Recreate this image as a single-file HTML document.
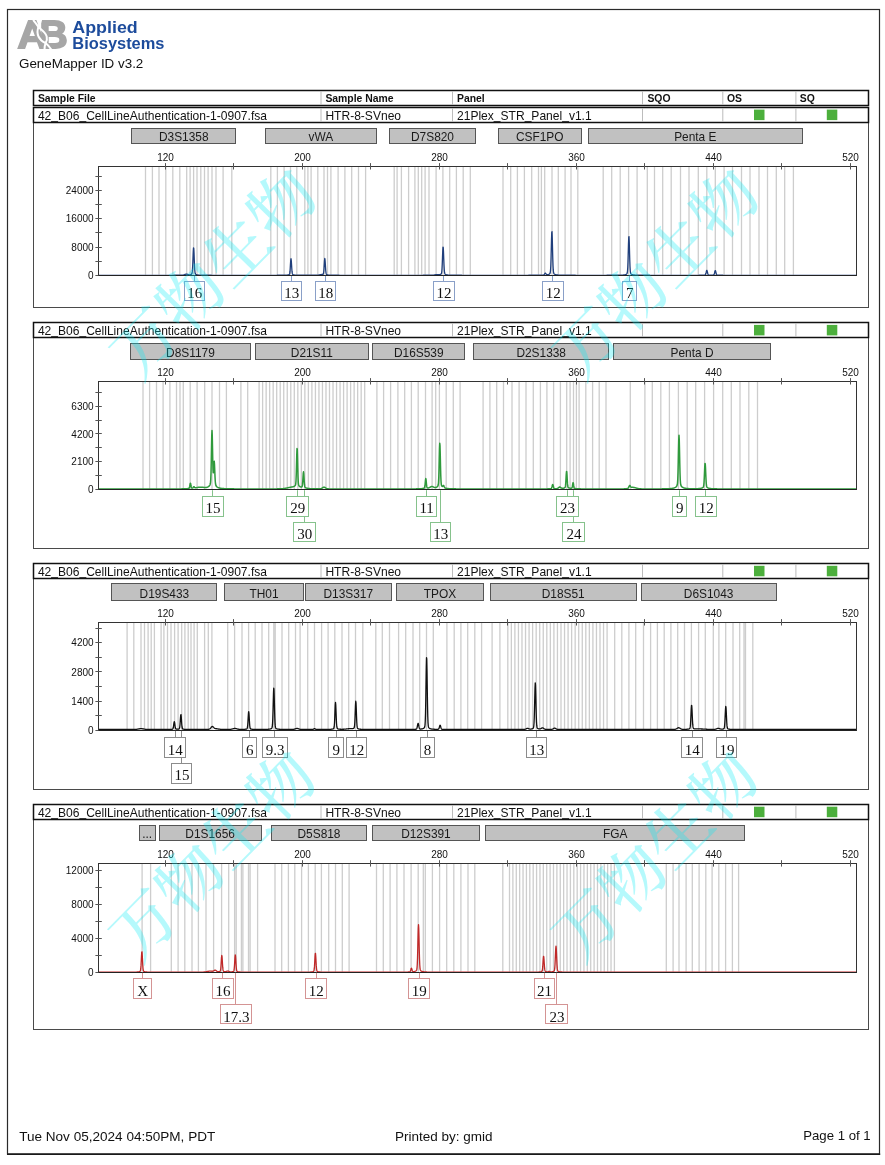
<!DOCTYPE html><html><head><meta charset="utf-8"><title>GeneMapper ID v3.2</title>
<style>html,body{margin:0;padding:0;background:#fff;}svg{display:block;}</style></head><body>
<svg width="885" height="1165" viewBox="0 0 885 1165">
<rect x="0" y="0" width="885" height="1165" fill="#fff"/>
<rect x="7.5" y="9.5" width="872" height="1144.5" fill="none" stroke="#2a2a2a" stroke-width="1.2"/>
<line x1="7" y1="1154.2" x2="880.2" y2="1154.2" stroke="#1a1a1a" stroke-width="1.6"/>
<g>
<text x="17.4" y="48.4" font-family="'Liberation Sans', Arial, sans-serif" font-weight="bold" font-size="38.5" fill="#a6a6a6" stroke="#a6a6a6" stroke-width="1.8" stroke-linejoin="miter" textLength="29.5" lengthAdjust="spacingAndGlyphs">A</text>
<text x="39.4" y="48.4" font-family="'Liberation Sans', Arial, sans-serif" font-weight="bold" font-size="38.5" fill="#a6a6a6" stroke="#a6a6a6" stroke-width="1.8" stroke-linejoin="miter" textLength="28.2" lengthAdjust="spacingAndGlyphs">B</text>
<path d="M33.2,19.8 C35.2,22.6 37.2,25 38.5,27.2 C37.3,30 37.1,33.5 38.6,36.8 C40.2,40 43,42 45.6,43.1 C47.6,44.8 49.6,47 51.2,49.6" fill="none" stroke="#fff" stroke-width="2.0"/>
<path d="M41.1,19.8 C40.3,22.8 39.6,25.3 38.5,27.2 C41.2,29.5 45.6,32.3 46.7,36.4 C47.4,39.2 46.6,41.4 45.6,43.1 C44.8,45 44.5,47.3 44.5,49.6" fill="none" stroke="#fff" stroke-width="2.0"/>
</g>
<text x="72.3" y="33.2" font-family="'Liberation Sans', Arial, sans-serif" font-weight="bold" font-size="17.3" fill="#1d4c9c" textLength="65.5" lengthAdjust="spacingAndGlyphs">Applied</text>
<text x="72.3" y="48.5" font-family="'Liberation Sans', Arial, sans-serif" font-weight="bold" font-size="17.3" fill="#1d4c9c" textLength="92.2" lengthAdjust="spacingAndGlyphs">Biosystems</text>
<text x="19" y="67.6" font-family="'Liberation Sans', Arial, sans-serif" font-size="13.4" fill="#111">GeneMapper ID v3.2</text>
<rect x="33.5" y="90.5" width="835" height="15" fill="#fff" stroke="#111" stroke-width="1.5"/>
<line x1="321" y1="91.3" x2="321" y2="104.7" stroke="#b4b4b4" stroke-width="0.9"/>
<line x1="452.5" y1="91.3" x2="452.5" y2="104.7" stroke="#b4b4b4" stroke-width="0.9"/>
<line x1="642.5" y1="91.3" x2="642.5" y2="104.7" stroke="#b4b4b4" stroke-width="0.9"/>
<line x1="722.8" y1="91.3" x2="722.8" y2="104.7" stroke="#b4b4b4" stroke-width="0.9"/>
<line x1="795.9" y1="91.3" x2="795.9" y2="104.7" stroke="#b4b4b4" stroke-width="0.9"/>
<text x="37.9" y="101.9" font-family="'Liberation Sans', Arial, sans-serif" font-weight="bold" font-size="10.4" fill="#111">Sample File</text>
<text x="325.4" y="101.9" font-family="'Liberation Sans', Arial, sans-serif" font-weight="bold" font-size="10.4" fill="#111">Sample Name</text>
<text x="457" y="101.9" font-family="'Liberation Sans', Arial, sans-serif" font-weight="bold" font-size="10.4" fill="#111">Panel</text>
<text x="647.4" y="101.9" font-family="'Liberation Sans', Arial, sans-serif" font-weight="bold" font-size="10.4" fill="#111">SQO</text>
<text x="727" y="101.9" font-family="'Liberation Sans', Arial, sans-serif" font-weight="bold" font-size="10.4" fill="#111">OS</text>
<text x="799.8" y="101.9" font-family="'Liberation Sans', Arial, sans-serif" font-weight="bold" font-size="10.4" fill="#111">SQ</text>
<rect x="33.5" y="122.5" width="835" height="185" fill="none" stroke="#4a4a4a" stroke-width="1"/>
<rect x="33.5" y="107.5" width="835" height="15" fill="#fff" stroke="#111" stroke-width="1.5"/>
<line x1="321" y1="108.2" x2="321" y2="121.7" stroke="#b4b4b4" stroke-width="0.9"/>
<line x1="452.5" y1="108.2" x2="452.5" y2="121.7" stroke="#b4b4b4" stroke-width="0.9"/>
<line x1="642.5" y1="108.2" x2="642.5" y2="121.7" stroke="#b4b4b4" stroke-width="0.9"/>
<line x1="722.8" y1="108.2" x2="722.8" y2="121.7" stroke="#b4b4b4" stroke-width="0.9"/>
<line x1="795.9" y1="108.2" x2="795.9" y2="121.7" stroke="#b4b4b4" stroke-width="0.9"/>
<text x="37.9" y="119.6" font-family="'Liberation Sans', Arial, sans-serif" font-size="12.06" fill="#111">42<tspan dy="-1.0">_</tspan><tspan dy="1.0">B06</tspan><tspan dy="-1.0">_</tspan><tspan dy="1.0">CellLineAuthentication-1-0907.fsa</tspan></text>
<text x="325.4" y="119.6" font-family="'Liberation Sans', Arial, sans-serif" font-size="12.06" fill="#111">HTR-8-SVneo</text>
<text x="457" y="119.6" font-family="'Liberation Sans', Arial, sans-serif" font-size="12.06" fill="#111">21Plex<tspan dy="-1.0">_</tspan><tspan dy="1.0">STR</tspan><tspan dy="-1.0">_</tspan><tspan dy="1.0">Panel</tspan><tspan dy="-1.0">_</tspan><tspan dy="1.0">v1.1</tspan></text>
<rect x="754" y="109.6" width="10.5" height="10.5" fill="#4caf3c"/>
<rect x="826.8" y="109.6" width="10.5" height="10.5" fill="#4caf3c"/>
<rect x="131.5" y="128.5" width="104" height="15" fill="#c1c1c1" stroke="#555" stroke-width="1"/>
<text x="183.75" y="140.9" text-anchor="middle" font-family="'Liberation Sans', Arial, sans-serif" font-size="11.9" fill="#1a1a1a">D3S1358</text>
<rect x="265.5" y="128.5" width="111" height="15" fill="#c1c1c1" stroke="#555" stroke-width="1"/>
<text x="320.8" y="140.9" text-anchor="middle" font-family="'Liberation Sans', Arial, sans-serif" font-size="11.9" fill="#1a1a1a">vWA</text>
<rect x="389.5" y="128.5" width="86" height="15" fill="#c1c1c1" stroke="#555" stroke-width="1"/>
<text x="432.5" y="140.9" text-anchor="middle" font-family="'Liberation Sans', Arial, sans-serif" font-size="11.9" fill="#1a1a1a">D7S820</text>
<rect x="498.5" y="128.5" width="83" height="15" fill="#c1c1c1" stroke="#555" stroke-width="1"/>
<text x="539.7" y="140.9" text-anchor="middle" font-family="'Liberation Sans', Arial, sans-serif" font-size="11.9" fill="#1a1a1a">CSF1PO</text>
<rect x="588.5" y="128.5" width="214" height="15" fill="#c1c1c1" stroke="#555" stroke-width="1"/>
<text x="695.3" y="140.9" text-anchor="middle" font-family="'Liberation Sans', Arial, sans-serif" font-size="11.9" fill="#1a1a1a">Penta E</text>
<path d="M145.5 166.9V274.8M152.4 166.9V274.8M159 166.9V274.8M165.8 166.9V274.8M172.8 166.9V274.8M179.8 166.9V274.8M186.7 166.9V274.8M190.1 166.9V274.8M193.6 166.9V274.8M197 166.9V274.8M200.8 166.9V274.8M204.5 166.9V274.8M208.1 166.9V274.8M212 166.9V274.8M216 166.9V274.8M223.1 166.9V274.8M231.8 166.9V274.8M270.8 166.9V274.8M277.4 166.9V274.8M284.1 166.9V274.8M290.5 166.9V274.8M296.8 166.9V274.8M304.8 166.9V274.8M307.9 166.9V274.8M311.1 166.9V274.8M317.8 166.9V274.8M324 166.9V274.8M327.5 166.9V274.8M330.9 166.9V274.8M338.1 166.9V274.8M344.9 166.9V274.8M351.7 166.9V274.8M358.5 166.9V274.8M365.6 166.9V274.8M394.2 166.9V274.8M397.1 166.9V274.8M401.4 166.9V274.8M408.6 166.9V274.8M414.9 166.9V274.8M418.3 166.9V274.8M421.7 166.9V274.8M425.1 166.9V274.8M429 166.9V274.8M436.1 166.9V274.8M442.9 166.9V274.8M449.7 166.9V274.8M456.4 166.9V274.8M463.2 166.9V274.8M470.3 166.9V274.8M503 166.9V274.8M510.7 166.9V274.8M517.4 166.9V274.8M524.4 166.9V274.8M531.7 166.9V274.8M538.5 166.9V274.8M541.4 166.9V274.8M544.7 166.9V274.8M552 166.9V274.8M558.3 166.9V274.8M565.1 166.9V274.8M571 166.9V274.8M577.8 166.9V274.8M603.2 166.9V274.8M611.7 166.9V274.8M620.2 166.9V274.8M628.6 166.9V274.8M637.1 166.9V274.8M647.3 166.9V274.8M654.5 166.9V274.8M662.7 166.9V274.8M671.2 166.9V274.8M680.5 166.9V274.8M689 166.9V274.8M698.3 166.9V274.8M706.8 166.9V274.8M715.3 166.9V274.8M724.1 166.9V274.8M732.5 166.9V274.8M741.5 166.9V274.8M750 166.9V274.8M759 166.9V274.8M767.5 166.9V274.8M776.3 166.9V274.8M784.7 166.9V274.8M793.4 166.9V274.8" stroke="#cdcdcd" stroke-width="1.3" fill="none"/>
<rect x="98.5" y="166.5" width="758" height="109" fill="none" stroke="#333" stroke-width="1"/>
<text x="165.5" y="160.5" text-anchor="middle" font-family="'Liberation Sans', Arial, sans-serif" font-size="10" fill="#111">120</text>
<text x="302.5" y="160.5" text-anchor="middle" font-family="'Liberation Sans', Arial, sans-serif" font-size="10" fill="#111">200</text>
<text x="439.5" y="160.5" text-anchor="middle" font-family="'Liberation Sans', Arial, sans-serif" font-size="10" fill="#111">280</text>
<text x="576.5" y="160.5" text-anchor="middle" font-family="'Liberation Sans', Arial, sans-serif" font-size="10" fill="#111">360</text>
<text x="713.5" y="160.5" text-anchor="middle" font-family="'Liberation Sans', Arial, sans-serif" font-size="10" fill="#111">440</text>
<text x="850.5" y="160.5" text-anchor="middle" font-family="'Liberation Sans', Arial, sans-serif" font-size="10" fill="#111">520</text>
<text x="93.6" y="278.9" text-anchor="end" font-family="'Liberation Sans', Arial, sans-serif" font-size="10" fill="#111">0</text>
<text x="93.6" y="250.6" text-anchor="end" font-family="'Liberation Sans', Arial, sans-serif" font-size="10" fill="#111">8000</text>
<text x="93.6" y="222.3" text-anchor="end" font-family="'Liberation Sans', Arial, sans-serif" font-size="10" fill="#111">16000</text>
<text x="93.6" y="194" text-anchor="end" font-family="'Liberation Sans', Arial, sans-serif" font-size="10" fill="#111">24000</text>
<path d="M165.5 163.1V169.5M233.5 163.1V169.5M302.5 163.1V169.5M370.5 163.1V169.5M439.5 163.1V169.5M507.5 163.1V169.5M576.5 163.1V169.5M644.5 163.1V169.5M713.5 163.1V169.5M781.5 163.1V169.5M850.5 163.1V169.5M95.4 275.5H101.8M95.4 261.5H101.8M95.4 247.5H101.8M95.4 232.5H101.8M95.4 218.5H101.8M95.4 204.5H101.8M95.4 190.5H101.8M95.4 176.5H101.8" stroke="#555" stroke-width="1" fill="none"/>
<polyline points="99,275.3 99.25,275.3 99.5,275.3 99.75,275.3 100,275.3 100.25,275.3 100.5,275.3 100.75,275.3 101,275.3 101.25,275.3 101.5,275.3 101.75,275.3 102,275.3 102.25,275.3 102.5,275.3 102.75,275.3 103,275.3 103.25,275.3 103.5,275.3 103.75,275.3 104,275.3 104.25,275.3 104.5,275.3 104.75,275.3 105,275.3 105.25,275.3 105.5,275.3 105.75,275.3 106,275.3 106.25,275.3 106.5,275.3 106.75,275.3 107,275.3 107.25,275.3 107.5,275.3 107.75,275.3 108,275.3 108.25,275.3 108.5,275.3 108.75,275.3 109,275.3 109.25,275.3 109.5,275.3 109.75,275.3 110,275.3 110.25,275.3 110.5,275.3 110.75,275.3 111,275.3 111.25,275.3 111.5,275.3 111.75,275.3 112,275.3 112.25,275.3 112.5,275.3 112.75,275.3 113,275.3 113.25,275.3 113.5,275.3 113.75,275.3 114,275.3 114.25,275.3 114.5,275.3 114.75,275.3 115,275.3 115.25,275.3 115.5,275.3 115.75,275.3 116,275.3 116.25,275.3 116.5,275.3 116.75,275.3 117,275.3 117.25,275.3 117.5,275.3 117.75,275.3 118,275.3 118.25,275.3 118.5,275.3 118.75,275.3 119,275.3 119.25,275.3 119.5,275.3 119.75,275.3 120,275.3 120.25,275.3 120.5,275.3 120.75,275.3 121,275.3 121.25,275.3 121.5,275.3 121.75,275.3 122,275.3 122.25,275.3 122.5,275.3 122.75,275.3 123,275.3 123.25,275.3 123.5,275.3 123.75,275.3 124,275.3 124.25,275.3 124.5,275.3 124.75,275.3 125,275.3 125.25,275.3 125.5,275.3 125.75,275.3 126,275.3 126.25,275.3 126.5,275.3 126.75,275.3 127,275.3 127.25,275.3 127.5,275.3 127.75,275.3 128,275.3 128.25,275.3 128.5,275.3 128.75,275.3 129,275.3 129.25,275.3 129.5,275.3 129.75,275.3 130,275.3 130.25,275.3 130.5,275.3 130.75,275.3 131,275.3 131.25,275.3 131.5,275.3 131.75,275.3 132,275.3 132.25,275.3 132.5,275.3 132.75,275.3 133,275.3 133.25,275.3 133.5,275.3 133.75,275.3 134,275.3 134.25,275.3 134.5,275.3 134.75,275.3 135,275.3 135.25,275.3 135.5,275.3 135.75,275.3 136,275.3 136.25,275.3 136.5,275.3 136.75,275.3 137,275.3 137.25,275.3 137.5,275.3 137.75,275.3 138,275.3 138.25,275.3 138.5,275.3 138.75,275.3 139,275.3 139.25,275.3 139.5,275.3 139.75,275.3 140,275.3 140.25,275.3 140.5,275.3 140.75,275.3 141,275.3 141.25,275.3 141.5,275.3 141.75,275.3 142,275.3 142.25,275.3 142.5,275.3 142.75,275.3 143,275.3 143.25,275.3 143.5,275.3 143.75,275.3 144,275.3 144.25,275.3 144.5,275.3 144.75,275.3 145,275.3 145.25,275.3 145.5,275.3 145.75,275.3 146,275.3 146.25,275.3 146.5,275.3 146.75,275.3 147,275.3 147.25,275.3 147.5,275.3 147.75,275.3 148,275.3 148.25,275.3 148.5,275.3 148.75,275.3 149,275.29 149.25,275.29 149.5,275.29 149.75,275.29 150,275.29 150.25,275.29 150.5,275.29 150.75,275.29 151,275.29 151.25,275.29 151.5,275.29 151.75,275.29 152,275.29 152.25,275.29 152.5,275.29 152.75,275.29 153,275.29 153.25,275.29 153.5,275.29 153.75,275.29 154,275.29 154.25,275.29 154.5,275.29 154.75,275.29 155,275.29 155.25,275.29 155.5,275.29 155.75,275.29 156,275.29 156.25,275.29 156.5,275.29 156.75,275.29 157,275.29 157.25,275.29 157.5,275.29 157.75,275.29 158,275.29 158.25,275.29 158.5,275.29 158.75,275.29 159,275.29 159.25,275.29 159.5,275.29 159.75,275.29 160,275.29 160.25,275.29 160.5,275.29 160.75,275.29 161,275.29 161.25,275.29 161.5,275.29 161.75,275.29 162,275.29 162.25,275.29 162.5,275.29 162.75,275.29 163,275.29 163.25,275.29 163.5,275.29 163.75,275.29 164,275.29 164.25,275.29 164.5,275.29 164.75,275.29 165,275.29 165.25,275.29 165.5,275.29 165.75,275.29 166,275.29 166.25,275.29 166.5,275.29 166.75,275.29 167,275.29 167.25,275.29 167.5,275.29 167.75,275.29 168,275.29 168.25,275.28 168.5,275.28 168.75,275.28 169,275.28 169.25,275.28 169.5,275.28 169.75,275.28 170,275.28 170.25,275.28 170.5,275.28 170.75,275.28 171,275.28 171.25,275.28 171.5,275.28 171.75,275.28 172,275.28 172.25,275.28 172.5,275.28 172.75,275.28 173,275.28 173.25,275.28 173.5,275.28 173.75,275.27 174,275.27 174.25,275.27 174.5,275.27 174.75,275.27 175,275.27 175.25,275.27 175.5,275.27 175.75,275.27 176,275.27 176.25,275.27 176.5,275.26 176.75,275.26 177,275.26 177.25,275.26 177.5,275.26 177.75,275.26 178,275.26 178.25,275.25 178.5,275.25 178.75,275.25 179,275.25 179.25,275.25 179.5,275.24 179.75,275.24 180,275.24 180.25,275.23 180.5,275.23 180.75,275.23 181,275.22 181.25,275.22 181.5,275.21 181.75,275.2 182,275.19 182.25,275.17 182.5,275.15 182.75,275.13 183,275.09 183.25,275.04 183.5,274.99 183.75,274.92 184,274.84 184.25,274.75 184.5,274.65 184.75,274.55 185,274.45 185.25,274.35 185.5,274.27 185.75,274.21 186,274.16 186.25,274.15 186.5,274.16 186.75,274.19 187,274.25 187.25,274.32 187.5,274.4 187.75,274.48 188,274.56 188.25,274.64 188.5,274.7 188.75,274.75 189,274.78 189.25,274.8 189.5,274.81 189.75,274.8 190,274.77 190.25,274.74 190.5,274.68 190.75,274.62 191,274.54 191.25,274.43 191.5,274.28 191.75,273.98 192,273.34 192.25,271.9 192.5,269.02 192.75,264.23 193,257.88 193.25,251.6 193.5,247.82 193.75,248.27 194,252.74 194.25,259.22 194.5,265.35 194.75,269.75 195,272.29 195.25,273.53 195.5,274.08 195.75,274.33 196,274.48 196.25,274.58 196.5,274.67 196.75,274.74 197,274.8 197.25,274.85 197.5,274.9 197.75,274.94 198,274.97 198.25,275 198.5,275.03 198.75,275.05 199,275.07 199.25,275.09 199.5,275.1 199.75,275.12 200,275.13 200.25,275.14 200.5,275.15 200.75,275.16 201,275.17 201.25,275.18 201.5,275.18 201.75,275.19 202,275.2 202.25,275.2 202.5,275.21 202.75,275.21 203,275.22 203.25,275.22 203.5,275.22 203.75,275.23 204,275.23 204.25,275.23 204.5,275.24 204.75,275.24 205,275.24 205.25,275.24 205.5,275.25 205.75,275.25 206,275.25 206.25,275.25 206.5,275.25 206.75,275.26 207,275.26 207.25,275.26 207.5,275.26 207.75,275.26 208,275.26 208.25,275.26 208.5,275.26 208.75,275.27 209,275.27 209.25,275.27 209.5,275.27 209.75,275.27 210,275.27 210.25,275.27 210.5,275.27 210.75,275.27 211,275.27 211.25,275.27 211.5,275.27 211.75,275.28 212,275.28 212.25,275.28 212.5,275.28 212.75,275.28 213,275.28 213.25,275.28 213.5,275.28 213.75,275.28 214,275.28 214.25,275.28 214.5,275.28 214.75,275.28 215,275.28 215.25,275.28 215.5,275.28 215.75,275.28 216,275.28 216.25,275.28 216.5,275.28 216.75,275.28 217,275.28 217.25,275.28 217.5,275.28 217.75,275.29 218,275.29 218.25,275.29 218.5,275.29 218.75,275.29 219,275.29 219.25,275.29 219.5,275.29 219.75,275.29 220,275.29 220.25,275.29 220.5,275.29 220.75,275.29 221,275.29 221.25,275.29 221.5,275.29 221.75,275.29 222,275.29 222.25,275.29 222.5,275.29 222.75,275.29 223,275.29 223.25,275.29 223.5,275.29 223.75,275.29 224,275.29 224.25,275.29 224.5,275.29 224.75,275.29 225,275.29 225.25,275.29 225.5,275.29 225.75,275.29 226,275.29 226.25,275.29 226.5,275.29 226.75,275.29 227,275.29 227.25,275.29 227.5,275.29 227.75,275.29 228,275.29 228.25,275.29 228.5,275.29 228.75,275.29 229,275.29 229.25,275.29 229.5,275.29 229.75,275.29 230,275.29 230.25,275.29 230.5,275.29 230.75,275.29 231,275.29 231.25,275.29 231.5,275.29 231.75,275.29 232,275.29 232.25,275.29 232.5,275.29 232.75,275.29 233,275.29 233.25,275.29 233.5,275.29 233.75,275.29 234,275.29 234.25,275.29 234.5,275.29 234.75,275.29 235,275.29 235.25,275.29 235.5,275.29 235.75,275.29 236,275.29 236.25,275.29 236.5,275.29 236.75,275.29 237,275.29 237.25,275.29 237.5,275.29 237.75,275.29 238,275.29 238.25,275.29 238.5,275.29 238.75,275.29 239,275.29 239.25,275.29 239.5,275.29 239.75,275.29 240,275.29 240.25,275.29 240.5,275.29 240.75,275.29 241,275.29 241.25,275.29 241.5,275.29 241.75,275.29 242,275.29 242.25,275.29 242.5,275.29 242.75,275.29 243,275.29 243.25,275.29 243.5,275.29 243.75,275.29 244,275.29 244.25,275.29 244.5,275.29 244.75,275.29 245,275.29 245.25,275.29 245.5,275.29 245.75,275.29 246,275.29 246.25,275.29 246.5,275.29 246.75,275.29 247,275.29 247.25,275.29 247.5,275.29 247.75,275.29 248,275.29 248.25,275.29 248.5,275.29 248.75,275.29 249,275.29 249.25,275.29 249.5,275.29 249.75,275.29 250,275.29 250.25,275.29 250.5,275.29 250.75,275.29 251,275.29 251.25,275.29 251.5,275.29 251.75,275.29 252,275.29 252.25,275.29 252.5,275.29 252.75,275.29 253,275.29 253.25,275.29 253.5,275.29 253.75,275.29 254,275.29 254.25,275.29 254.5,275.29 254.75,275.29 255,275.29 255.25,275.29 255.5,275.29 255.75,275.29 256,275.29 256.25,275.29 256.5,275.29 256.75,275.29 257,275.29 257.25,275.29 257.5,275.29 257.75,275.29 258,275.29 258.25,275.29 258.5,275.29 258.75,275.29 259,275.29 259.25,275.29 259.5,275.29 259.75,275.29 260,275.29 260.25,275.29 260.5,275.29 260.75,275.29 261,275.29 261.25,275.29 261.5,275.29 261.75,275.29 262,275.29 262.25,275.29 262.5,275.29 262.75,275.29 263,275.29 263.25,275.29 263.5,275.29 263.75,275.29 264,275.29 264.25,275.29 264.5,275.29 264.75,275.29 265,275.29 265.25,275.29 265.5,275.29 265.75,275.29 266,275.29 266.25,275.29 266.5,275.29 266.75,275.29 267,275.29 267.25,275.29 267.5,275.29 267.75,275.29 268,275.29 268.25,275.29 268.5,275.29 268.75,275.29 269,275.29 269.25,275.29 269.5,275.29 269.75,275.29 270,275.29 270.25,275.29 270.5,275.29 270.75,275.29 271,275.29 271.25,275.29 271.5,275.29 271.75,275.28 272,275.28 272.25,275.28 272.5,275.28 272.75,275.28 273,275.28 273.25,275.28 273.5,275.28 273.75,275.28 274,275.28 274.25,275.28 274.5,275.28 274.75,275.28 275,275.28 275.25,275.28 275.5,275.28 275.75,275.28 276,275.28 276.25,275.28 276.5,275.28 276.75,275.28 277,275.27 277.25,275.27 277.5,275.27 277.75,275.27 278,275.27 278.25,275.27 278.5,275.27 278.75,275.27 279,275.27 279.25,275.27 279.5,275.26 279.75,275.26 280,275.26 280.25,275.26 280.5,275.26 280.75,275.26 281,275.25 281.25,275.25 281.5,275.25 281.75,275.25 282,275.24 282.25,275.24 282.5,275.24 282.75,275.24 283,275.23 283.25,275.23 283.5,275.22 283.75,275.22 284,275.21 284.25,275.21 284.5,275.2 284.75,275.19 285,275.19 285.25,275.18 285.5,275.17 285.75,275.16 286,275.14 286.25,275.13 286.5,275.11 286.75,275.09 287,275.07 287.25,275.05 287.5,275.02 287.75,274.98 288,274.94 288.25,274.9 288.5,274.84 288.75,274.77 289,274.68 289.25,274.5 289.5,274.09 289.75,273.14 290,271.19 290.25,267.96 290.5,263.85 290.75,260.22 291,258.75 291.25,260.22 291.5,263.85 291.75,267.96 292,271.19 292.25,273.14 292.5,274.09 292.75,274.5 293,274.68 293.25,274.77 293.5,274.84 293.75,274.9 294,274.94 294.25,274.98 294.5,275.02 294.75,275.05 295,275.07 295.25,275.09 295.5,275.11 295.75,275.13 296,275.14 296.25,275.15 296.5,275.16 296.75,275.17 297,275.18 297.25,275.19 297.5,275.2 297.75,275.2 298,275.21 298.25,275.21 298.5,275.22 298.75,275.22 299,275.23 299.25,275.23 299.5,275.23 299.75,275.24 300,275.24 300.25,275.24 300.5,275.24 300.75,275.25 301,275.25 301.25,275.25 301.5,275.25 301.75,275.25 302,275.25 302.25,275.26 302.5,275.26 302.75,275.26 303,275.26 303.25,275.26 303.5,275.26 303.75,275.26 304,275.26 304.25,275.26 304.5,275.26 304.75,275.26 305,275.26 305.25,275.26 305.5,275.26 305.75,275.27 306,275.27 306.25,275.27 306.5,275.27 306.75,275.27 307,275.27 307.25,275.27 307.5,275.27 307.75,275.27 308,275.27 308.25,275.27 308.5,275.27 308.75,275.27 309,275.26 309.25,275.26 309.5,275.26 309.75,275.26 310,275.26 310.25,275.26 310.5,275.26 310.75,275.26 311,275.26 311.25,275.26 311.5,275.26 311.75,275.26 312,275.26 312.25,275.26 312.5,275.25 312.75,275.25 313,275.25 313.25,275.25 313.5,275.25 313.75,275.25 314,275.25 314.25,275.24 314.5,275.24 314.75,275.24 315,275.24 315.25,275.23 315.5,275.23 315.75,275.23 316,275.22 316.25,275.22 316.5,275.21 316.75,275.2 317,275.19 317.25,275.18 317.5,275.16 317.75,275.14 318,275.12 318.25,275.09 318.5,275.05 318.75,275 319,274.95 319.25,274.9 319.5,274.84 319.75,274.78 320,274.72 320.25,274.67 320.5,274.62 320.75,274.58 321,274.55 321.25,274.53 321.5,274.51 321.75,274.5 322,274.5 322.25,274.49 322.5,274.47 322.75,274.42 323,274.31 323.25,274.01 323.5,273.22 323.75,271.51 324,268.51 324.25,264.45 324.5,260.54 324.75,258.51 325,259.43 325.25,262.81 325.5,267.03 325.75,270.56 326,272.79 326.25,273.92 326.5,274.42 326.75,274.63 327,274.74 327.25,274.81 327.5,274.87 327.75,274.92 328,274.96 328.25,275 328.5,275.03 328.75,275.06 329,275.08 329.25,275.1 329.5,275.12 329.75,275.13 330,275.15 330.25,275.16 330.5,275.17 330.75,275.18 331,275.19 331.25,275.19 331.5,275.2 331.75,275.21 332,275.21 332.25,275.22 332.5,275.22 332.75,275.23 333,275.23 333.25,275.23 333.5,275.24 333.75,275.24 334,275.24 334.25,275.25 334.5,275.25 334.75,275.25 335,275.25 335.25,275.25 335.5,275.26 335.75,275.26 336,275.26 336.25,275.26 336.5,275.26 336.75,275.26 337,275.27 337.25,275.27 337.5,275.27 337.75,275.27 338,275.27 338.25,275.27 338.5,275.27 338.75,275.27 339,275.27 339.25,275.27 339.5,275.28 339.75,275.28 340,275.28 340.25,275.28 340.5,275.28 340.75,275.28 341,275.28 341.25,275.28 341.5,275.28 341.75,275.28 342,275.28 342.25,275.28 342.5,275.28 342.75,275.28 343,275.28 343.25,275.28 343.5,275.28 343.75,275.28 344,275.28 344.25,275.28 344.5,275.28 344.75,275.29 345,275.29 345.25,275.29 345.5,275.29 345.75,275.29 346,275.29 346.25,275.29 346.5,275.29 346.75,275.29 347,275.29 347.25,275.29 347.5,275.29 347.75,275.29 348,275.29 348.25,275.29 348.5,275.29 348.75,275.29 349,275.29 349.25,275.29 349.5,275.29 349.75,275.29 350,275.29 350.25,275.29 350.5,275.29 350.75,275.29 351,275.29 351.25,275.29 351.5,275.29 351.75,275.29 352,275.29 352.25,275.29 352.5,275.29 352.75,275.29 353,275.29 353.25,275.29 353.5,275.29 353.75,275.29 354,275.29 354.25,275.29 354.5,275.29 354.75,275.29 355,275.29 355.25,275.29 355.5,275.29 355.75,275.29 356,275.29 356.25,275.29 356.5,275.29 356.75,275.29 357,275.29 357.25,275.29 357.5,275.29 357.75,275.29 358,275.29 358.25,275.29 358.5,275.29 358.75,275.29 359,275.29 359.25,275.29 359.5,275.29 359.75,275.29 360,275.29 360.25,275.29 360.5,275.29 360.75,275.29 361,275.29 361.25,275.29 361.5,275.29 361.75,275.29 362,275.29 362.25,275.29 362.5,275.29 362.75,275.29 363,275.29 363.25,275.29 363.5,275.29 363.75,275.29 364,275.29 364.25,275.29 364.5,275.29 364.75,275.29 365,275.29 365.25,275.29 365.5,275.29 365.75,275.29 366,275.29 366.25,275.29 366.5,275.29 366.75,275.29 367,275.29 367.25,275.29 367.5,275.29 367.75,275.29 368,275.29 368.25,275.29 368.5,275.29 368.75,275.29 369,275.29 369.25,275.29 369.5,275.29 369.75,275.29 370,275.29 370.25,275.29 370.5,275.29 370.75,275.29 371,275.29 371.25,275.29 371.5,275.29 371.75,275.29 372,275.29 372.25,275.29 372.5,275.29 372.75,275.29 373,275.29 373.25,275.29 373.5,275.29 373.75,275.29 374,275.29 374.25,275.29 374.5,275.29 374.75,275.29 375,275.29 375.25,275.29 375.5,275.29 375.75,275.29 376,275.29 376.25,275.29 376.5,275.29 376.75,275.29 377,275.29 377.25,275.29 377.5,275.29 377.75,275.29 378,275.29 378.25,275.29 378.5,275.29 378.75,275.29 379,275.29 379.25,275.29 379.5,275.29 379.75,275.29 380,275.29 380.25,275.29 380.5,275.29 380.75,275.29 381,275.29 381.25,275.29 381.5,275.29 381.75,275.29 382,275.29 382.25,275.29 382.5,275.29 382.75,275.29 383,275.29 383.25,275.29 383.5,275.29 383.75,275.29 384,275.29 384.25,275.29 384.5,275.29 384.75,275.29 385,275.29 385.25,275.29 385.5,275.29 385.75,275.29 386,275.29 386.25,275.29 386.5,275.29 386.75,275.29 387,275.29 387.25,275.29 387.5,275.29 387.75,275.29 388,275.29 388.25,275.29 388.5,275.29 388.75,275.29 389,275.29 389.25,275.29 389.5,275.29 389.75,275.29 390,275.29 390.25,275.29 390.5,275.29 390.75,275.29 391,275.29 391.25,275.29 391.5,275.29 391.75,275.29 392,275.29 392.25,275.29 392.5,275.29 392.75,275.29 393,275.29 393.25,275.29 393.5,275.29 393.75,275.29 394,275.29 394.25,275.29 394.5,275.29 394.75,275.29 395,275.29 395.25,275.29 395.5,275.29 395.75,275.29 396,275.29 396.25,275.29 396.5,275.29 396.75,275.29 397,275.29 397.25,275.29 397.5,275.29 397.75,275.29 398,275.29 398.25,275.29 398.5,275.29 398.75,275.29 399,275.29 399.25,275.29 399.5,275.29 399.75,275.29 400,275.29 400.25,275.29 400.5,275.29 400.75,275.29 401,275.29 401.25,275.29 401.5,275.29 401.75,275.29 402,275.29 402.25,275.29 402.5,275.29 402.75,275.29 403,275.29 403.25,275.29 403.5,275.29 403.75,275.29 404,275.29 404.25,275.29 404.5,275.29 404.75,275.29 405,275.29 405.25,275.29 405.5,275.29 405.75,275.29 406,275.29 406.25,275.29 406.5,275.29 406.75,275.29 407,275.29 407.25,275.29 407.5,275.29 407.75,275.29 408,275.29 408.25,275.29 408.5,275.29 408.75,275.29 409,275.29 409.25,275.29 409.5,275.29 409.75,275.29 410,275.29 410.25,275.29 410.5,275.29 410.75,275.29 411,275.29 411.25,275.29 411.5,275.29 411.75,275.29 412,275.29 412.25,275.29 412.5,275.29 412.75,275.29 413,275.29 413.25,275.29 413.5,275.29 413.75,275.29 414,275.29 414.25,275.29 414.5,275.29 414.75,275.29 415,275.29 415.25,275.29 415.5,275.29 415.75,275.29 416,275.29 416.25,275.29 416.5,275.29 416.75,275.28 417,275.28 417.25,275.28 417.5,275.28 417.75,275.28 418,275.28 418.25,275.28 418.5,275.28 418.75,275.28 419,275.28 419.25,275.28 419.5,275.28 419.75,275.28 420,275.28 420.25,275.28 420.5,275.28 420.75,275.28 421,275.28 421.25,275.28 421.5,275.28 421.75,275.28 422,275.28 422.25,275.28 422.5,275.28 422.75,275.28 423,275.27 423.25,275.27 423.5,275.27 423.75,275.27 424,275.27 424.25,275.27 424.5,275.27 424.75,275.27 425,275.27 425.25,275.27 425.5,275.27 425.75,275.27 426,275.27 426.25,275.26 426.5,275.26 426.75,275.26 427,275.26 427.25,275.26 427.5,275.26 427.75,275.26 428,275.26 428.25,275.25 428.5,275.25 428.75,275.25 429,275.25 429.25,275.25 429.5,275.24 429.75,275.24 430,275.24 430.25,275.24 430.5,275.23 430.75,275.23 431,275.22 431.25,275.22 431.5,275.21 431.75,275.2 432,275.19 432.25,275.18 432.5,275.17 432.75,275.15 433,275.13 433.25,275.1 433.5,275.08 433.75,275.04 434,275.01 434.25,274.97 434.5,274.93 434.75,274.88 435,274.84 435.25,274.79 435.5,274.74 435.75,274.7 436,274.66 436.25,274.62 436.5,274.59 436.75,274.57 437,274.55 437.25,274.54 437.5,274.54 437.75,274.54 438,274.54 438.25,274.55 438.5,274.56 438.75,274.57 439,274.57 439.25,274.57 439.5,274.56 439.75,274.55 440,274.52 440.25,274.47 440.5,274.41 440.75,274.32 441,274.18 441.25,273.89 441.5,273.24 441.75,271.77 442,268.82 442.25,263.89 442.5,257.37 442.75,250.91 443,247.03 443.25,247.49 443.5,252.09 443.75,258.75 444,265.06 444.25,269.59 444.5,272.2 444.75,273.48 445,274.04 445.25,274.3 445.5,274.45 445.75,274.56 446,274.65 446.25,274.72 446.5,274.79 446.75,274.84 447,274.89 447.25,274.93 447.5,274.96 447.75,274.99 448,275.02 448.25,275.04 448.5,275.06 448.75,275.08 449,275.1 449.25,275.11 449.5,275.12 449.75,275.14 450,275.15 450.25,275.16 450.5,275.16 450.75,275.17 451,275.18 451.25,275.19 451.5,275.19 451.75,275.2 452,275.2 452.25,275.21 452.5,275.21 452.75,275.22 453,275.22 453.25,275.22 453.5,275.23 453.75,275.23 454,275.23 454.25,275.24 454.5,275.24 454.75,275.24 455,275.24 455.25,275.25 455.5,275.25 455.75,275.25 456,275.25 456.25,275.25 456.5,275.25 456.75,275.26 457,275.26 457.25,275.26 457.5,275.26 457.75,275.26 458,275.26 458.25,275.26 458.5,275.26 458.75,275.27 459,275.27 459.25,275.27 459.5,275.27 459.75,275.27 460,275.27 460.25,275.27 460.5,275.27 460.75,275.27 461,275.27 461.25,275.27 461.5,275.27 461.75,275.27 462,275.28 462.25,275.28 462.5,275.28 462.75,275.28 463,275.28 463.25,275.28 463.5,275.28 463.75,275.28 464,275.28 464.25,275.28 464.5,275.28 464.75,275.28 465,275.28 465.25,275.28 465.5,275.28 465.75,275.28 466,275.28 466.25,275.28 466.5,275.28 466.75,275.28 467,275.28 467.25,275.28 467.5,275.28 467.75,275.28 468,275.28 468.25,275.28 468.5,275.28 468.75,275.29 469,275.29 469.25,275.29 469.5,275.29 469.75,275.29 470,275.29 470.25,275.29 470.5,275.29 470.75,275.29 471,275.29 471.25,275.29 471.5,275.29 471.75,275.29 472,275.29 472.25,275.29 472.5,275.29 472.75,275.29 473,275.29 473.25,275.29 473.5,275.29 473.75,275.29 474,275.29 474.25,275.29 474.5,275.29 474.75,275.29 475,275.29 475.25,275.29 475.5,275.29 475.75,275.29 476,275.29 476.25,275.29 476.5,275.29 476.75,275.29 477,275.29 477.25,275.29 477.5,275.29 477.75,275.29 478,275.29 478.25,275.29 478.5,275.29 478.75,275.29 479,275.29 479.25,275.29 479.5,275.29 479.75,275.29 480,275.29 480.25,275.29 480.5,275.29 480.75,275.29 481,275.29 481.25,275.29 481.5,275.29 481.75,275.29 482,275.29 482.25,275.29 482.5,275.29 482.75,275.29 483,275.29 483.25,275.29 483.5,275.29 483.75,275.29 484,275.29 484.25,275.29 484.5,275.29 484.75,275.29 485,275.29 485.25,275.29 485.5,275.29 485.75,275.29 486,275.29 486.25,275.29 486.5,275.29 486.75,275.29 487,275.29 487.25,275.29 487.5,275.29 487.75,275.29 488,275.29 488.25,275.29 488.5,275.29 488.75,275.29 489,275.29 489.25,275.29 489.5,275.29 489.75,275.29 490,275.29 490.25,275.29 490.5,275.29 490.75,275.29 491,275.29 491.25,275.29 491.5,275.29 491.75,275.29 492,275.29 492.25,275.29 492.5,275.29 492.75,275.29 493,275.29 493.25,275.29 493.5,275.29 493.75,275.29 494,275.29 494.25,275.29 494.5,275.29 494.75,275.29 495,275.29 495.25,275.29 495.5,275.29 495.75,275.29 496,275.29 496.25,275.29 496.5,275.29 496.75,275.29 497,275.29 497.25,275.29 497.5,275.29 497.75,275.29 498,275.29 498.25,275.29 498.5,275.29 498.75,275.29 499,275.29 499.25,275.29 499.5,275.29 499.75,275.29 500,275.29 500.25,275.29 500.5,275.29 500.75,275.29 501,275.29 501.25,275.29 501.5,275.29 501.75,275.29 502,275.29 502.25,275.29 502.5,275.29 502.75,275.29 503,275.29 503.25,275.29 503.5,275.29 503.75,275.29 504,275.29 504.25,275.29 504.5,275.29 504.75,275.29 505,275.29 505.25,275.29 505.5,275.29 505.75,275.29 506,275.29 506.25,275.29 506.5,275.29 506.75,275.29 507,275.29 507.25,275.29 507.5,275.29 507.75,275.29 508,275.29 508.25,275.29 508.5,275.29 508.75,275.29 509,275.29 509.25,275.29 509.5,275.29 509.75,275.29 510,275.29 510.25,275.29 510.5,275.29 510.75,275.29 511,275.29 511.25,275.29 511.5,275.29 511.75,275.29 512,275.29 512.25,275.29 512.5,275.29 512.75,275.29 513,275.29 513.25,275.29 513.5,275.29 513.75,275.29 514,275.29 514.25,275.29 514.5,275.29 514.75,275.29 515,275.29 515.25,275.29 515.5,275.29 515.75,275.29 516,275.29 516.25,275.29 516.5,275.29 516.75,275.29 517,275.29 517.25,275.29 517.5,275.29 517.75,275.29 518,275.29 518.25,275.29 518.5,275.29 518.75,275.29 519,275.29 519.25,275.29 519.5,275.29 519.75,275.29 520,275.29 520.25,275.29 520.5,275.28 520.75,275.28 521,275.28 521.25,275.28 521.5,275.28 521.75,275.28 522,275.28 522.25,275.28 522.5,275.28 522.75,275.28 523,275.28 523.25,275.28 523.5,275.28 523.75,275.28 524,275.28 524.25,275.28 524.5,275.28 524.75,275.28 525,275.28 525.25,275.28 525.5,275.28 525.75,275.28 526,275.28 526.25,275.28 526.5,275.28 526.75,275.28 527,275.28 527.25,275.28 527.5,275.28 527.75,275.28 528,275.28 528.25,275.28 528.5,275.27 528.75,275.27 529,275.27 529.25,275.27 529.5,275.27 529.75,275.27 530,275.27 530.25,275.27 530.5,275.27 530.75,275.27 531,275.27 531.25,275.27 531.5,275.27 531.75,275.27 532,275.27 532.25,275.27 532.5,275.26 532.75,275.26 533,275.26 533.25,275.26 533.5,275.26 533.75,275.26 534,275.26 534.25,275.26 534.5,275.26 534.75,275.25 535,275.25 535.25,275.25 535.5,275.25 535.75,275.25 536,275.25 536.25,275.25 536.5,275.24 536.75,275.24 537,275.24 537.25,275.24 537.5,275.24 537.75,275.23 538,275.23 538.25,275.23 538.5,275.22 538.75,275.22 539,275.22 539.25,275.21 539.5,275.21 539.75,275.21 540,275.2 540.25,275.2 540.5,275.19 540.75,275.19 541,275.18 541.25,275.17 541.5,275.17 541.75,275.16 542,275.15 542.25,275.14 542.5,275.13 542.75,275.11 543,275.09 543.25,275.06 543.5,275 543.75,274.89 544,274.71 544.25,274.43 544.5,274.06 544.75,273.66 545,273.33 545.25,273.16 545.5,273.21 545.75,273.45 546,273.8 546.25,274.16 546.5,274.44 546.75,274.62 547,274.7 547.25,274.73 547.5,274.72 547.75,274.68 548,274.63 548.25,274.56 548.5,274.49 548.75,274.39 549,274.28 549.25,274.15 549.5,273.99 549.75,273.76 550,273.36 550.25,272.49 550.5,270.52 550.75,266.48 551,259.49 551.25,249.74 551.5,239.45 551.75,232.35 552,231.63 552.25,237.65 552.5,247.63 552.75,257.73 553,265.34 553.25,269.92 553.5,272.22 553.75,273.25 554,273.71 554.25,273.97 554.5,274.14 554.75,274.28 555,274.4 555.25,274.5 555.5,274.58 555.75,274.66 556,274.72 556.25,274.78 556.5,274.82 556.75,274.86 557,274.9 557.25,274.93 557.5,274.96 557.75,274.99 558,275.01 558.25,275.03 558.5,275.05 558.75,275.07 559,275.08 559.25,275.09 559.5,275.11 559.75,275.12 560,275.13 560.25,275.14 560.5,275.15 560.75,275.15 561,275.16 561.25,275.17 561.5,275.17 561.75,275.18 562,275.19 562.25,275.19 562.5,275.2 562.75,275.2 563,275.2 563.25,275.21 563.5,275.21 563.75,275.22 564,275.22 564.25,275.22 564.5,275.22 564.75,275.23 565,275.23 565.25,275.23 565.5,275.23 565.75,275.24 566,275.24 566.25,275.24 566.5,275.24 566.75,275.24 567,275.25 567.25,275.25 567.5,275.25 567.75,275.25 568,275.25 568.25,275.25 568.5,275.25 568.75,275.26 569,275.26 569.25,275.26 569.5,275.26 569.75,275.26 570,275.26 570.25,275.26 570.5,275.26 570.75,275.26 571,275.26 571.25,275.27 571.5,275.27 571.75,275.27 572,275.27 572.25,275.27 572.5,275.27 572.75,275.27 573,275.27 573.25,275.27 573.5,275.27 573.75,275.27 574,275.27 574.25,275.27 574.5,275.27 574.75,275.27 575,275.27 575.25,275.27 575.5,275.27 575.75,275.28 576,275.28 576.25,275.28 576.5,275.28 576.75,275.28 577,275.28 577.25,275.28 577.5,275.28 577.75,275.28 578,275.28 578.25,275.28 578.5,275.28 578.75,275.28 579,275.28 579.25,275.28 579.5,275.28 579.75,275.28 580,275.28 580.25,275.28 580.5,275.28 580.75,275.28 581,275.28 581.25,275.28 581.5,275.28 581.75,275.28 582,275.28 582.25,275.28 582.5,275.28 582.75,275.28 583,275.28 583.25,275.28 583.5,275.28 583.75,275.28 584,275.28 584.25,275.28 584.5,275.28 584.75,275.28 585,275.28 585.25,275.28 585.5,275.28 585.75,275.28 586,275.28 586.25,275.28 586.5,275.28 586.75,275.28 587,275.28 587.25,275.28 587.5,275.28 587.75,275.28 588,275.28 588.25,275.28 588.5,275.28 588.75,275.28 589,275.28 589.25,275.28 589.5,275.28 589.75,275.28 590,275.28 590.25,275.28 590.5,275.28 590.75,275.28 591,275.28 591.25,275.28 591.5,275.28 591.75,275.28 592,275.28 592.25,275.28 592.5,275.28 592.75,275.28 593,275.28 593.25,275.28 593.5,275.28 593.75,275.28 594,275.28 594.25,275.28 594.5,275.28 594.75,275.28 595,275.28 595.25,275.28 595.5,275.28 595.75,275.28 596,275.28 596.25,275.28 596.5,275.28 596.75,275.28 597,275.28 597.25,275.28 597.5,275.28 597.75,275.28 598,275.28 598.25,275.28 598.5,275.28 598.75,275.28 599,275.28 599.25,275.28 599.5,275.28 599.75,275.28 600,275.28 600.25,275.28 600.5,275.28 600.75,275.28 601,275.28 601.25,275.28 601.5,275.28 601.75,275.28 602,275.28 602.25,275.28 602.5,275.28 602.75,275.28 603,275.28 603.25,275.28 603.5,275.28 603.75,275.28 604,275.28 604.25,275.28 604.5,275.28 604.75,275.28 605,275.28 605.25,275.28 605.5,275.28 605.75,275.28 606,275.28 606.25,275.28 606.5,275.28 606.75,275.27 607,275.27 607.25,275.27 607.5,275.27 607.75,275.27 608,275.27 608.25,275.27 608.5,275.27 608.75,275.27 609,275.27 609.25,275.27 609.5,275.27 609.75,275.27 610,275.27 610.25,275.27 610.5,275.27 610.75,275.27 611,275.26 611.25,275.26 611.5,275.26 611.75,275.26 612,275.26 612.25,275.26 612.5,275.26 612.75,275.26 613,275.26 613.25,275.26 613.5,275.25 613.75,275.25 614,275.25 614.25,275.25 614.5,275.25 614.75,275.25 615,275.24 615.25,275.24 615.5,275.24 615.75,275.24 616,275.24 616.25,275.23 616.5,275.23 616.75,275.23 617,275.23 617.25,275.22 617.5,275.22 617.75,275.22 618,275.21 618.25,275.21 618.5,275.21 618.75,275.2 619,275.2 619.25,275.19 619.5,275.19 619.75,275.18 620,275.17 620.25,275.17 620.5,275.16 620.75,275.15 621,275.14 621.25,275.13 621.5,275.12 621.75,275.11 622,275.1 622.25,275.08 622.5,275.07 622.75,275.05 623,275.03 623.25,275.01 623.5,274.98 623.75,274.96 624,274.92 624.25,274.89 624.5,274.85 624.75,274.8 625,274.75 625.25,274.68 625.5,274.61 625.75,274.52 626,274.42 626.25,274.3 626.5,274.16 626.75,273.95 627,273.59 627.25,272.82 627.5,271.07 627.75,267.49 628,261.28 628.25,252.64 628.5,243.5 628.75,237.2 629,236.57 629.25,241.9 629.5,250.76 629.75,259.72 630,266.47 630.25,270.54 630.5,272.57 630.75,273.48 631,273.9 631.25,274.12 631.5,274.28 631.75,274.4 632,274.51 632.25,274.59 632.5,274.67 632.75,274.73 633,274.79 633.25,274.84 633.5,274.88 633.75,274.92 634,274.95 634.25,274.98 634.5,275 634.75,275.03 635,275.05 635.25,275.06 635.5,275.08 635.75,275.09 636,275.11 636.25,275.12 636.5,275.13 636.75,275.14 637,275.15 637.25,275.16 637.5,275.17 637.75,275.17 638,275.18 638.25,275.19 638.5,275.19 638.75,275.2 639,275.2 639.25,275.21 639.5,275.21 639.75,275.21 640,275.22 640.25,275.22 640.5,275.22 640.75,275.23 641,275.23 641.25,275.23 641.5,275.23 641.75,275.24 642,275.24 642.25,275.24 642.5,275.24 642.75,275.25 643,275.25 643.25,275.25 643.5,275.25 643.75,275.25 644,275.25 644.25,275.26 644.5,275.26 644.75,275.26 645,275.26 645.25,275.26 645.5,275.26 645.75,275.26 646,275.26 646.25,275.26 646.5,275.27 646.75,275.27 647,275.27 647.25,275.27 647.5,275.27 647.75,275.27 648,275.27 648.25,275.27 648.5,275.27 648.75,275.27 649,275.27 649.25,275.27 649.5,275.27 649.75,275.27 650,275.28 650.25,275.28 650.5,275.28 650.75,275.28 651,275.28 651.25,275.28 651.5,275.28 651.75,275.28 652,275.28 652.25,275.28 652.5,275.28 652.75,275.28 653,275.28 653.25,275.28 653.5,275.28 653.75,275.28 654,275.28 654.25,275.28 654.5,275.28 654.75,275.28 655,275.28 655.25,275.28 655.5,275.28 655.75,275.28 656,275.28 656.25,275.28 656.5,275.28 656.75,275.28 657,275.28 657.25,275.29 657.5,275.29 657.75,275.29 658,275.29 658.25,275.29 658.5,275.29 658.75,275.29 659,275.29 659.25,275.29 659.5,275.29 659.75,275.29 660,275.29 660.25,275.29 660.5,275.29 660.75,275.29 661,275.29 661.25,275.29 661.5,275.29 661.75,275.29 662,275.29 662.25,275.29 662.5,275.29 662.75,275.29 663,275.29 663.25,275.29 663.5,275.29 663.75,275.29 664,275.29 664.25,275.29 664.5,275.29 664.75,275.29 665,275.29 665.25,275.29 665.5,275.29 665.75,275.29 666,275.29 666.25,275.29 666.5,275.29 666.75,275.29 667,275.29 667.25,275.29 667.5,275.29 667.75,275.29 668,275.29 668.25,275.29 668.5,275.29 668.75,275.29 669,275.29 669.25,275.29 669.5,275.29 669.75,275.29 670,275.29 670.25,275.29 670.5,275.29 670.75,275.29 671,275.29 671.25,275.29 671.5,275.29 671.75,275.29 672,275.29 672.25,275.29 672.5,275.29 672.75,275.29 673,275.29 673.25,275.29 673.5,275.29 673.75,275.29 674,275.29 674.25,275.29 674.5,275.29 674.75,275.29 675,275.29 675.25,275.29 675.5,275.29 675.75,275.29 676,275.29 676.25,275.29 676.5,275.29 676.75,275.29 677,275.29 677.25,275.29 677.5,275.29 677.75,275.29 678,275.29 678.25,275.29 678.5,275.29 678.75,275.29 679,275.29 679.25,275.29 679.5,275.29 679.75,275.29 680,275.29 680.25,275.29 680.5,275.29 680.75,275.29 681,275.29 681.25,275.29 681.5,275.29 681.75,275.29 682,275.29 682.25,275.29 682.5,275.29 682.75,275.29 683,275.29 683.25,275.29 683.5,275.29 683.75,275.29 684,275.29 684.25,275.29 684.5,275.29 684.75,275.29 685,275.29 685.25,275.29 685.5,275.29 685.75,275.29 686,275.29 686.25,275.29 686.5,275.29 686.75,275.29 687,275.29 687.25,275.29 687.5,275.29 687.75,275.29 688,275.29 688.25,275.29 688.5,275.29 688.75,275.29 689,275.29 689.25,275.29 689.5,275.29 689.75,275.29 690,275.29 690.25,275.29 690.5,275.29 690.75,275.29 691,275.29 691.25,275.29 691.5,275.29 691.75,275.29 692,275.29 692.25,275.29 692.5,275.29 692.75,275.29 693,275.29 693.25,275.29 693.5,275.29 693.75,275.29 694,275.29 694.25,275.29 694.5,275.29 694.75,275.29 695,275.28 695.25,275.28 695.5,275.28 695.75,275.28 696,275.28 696.25,275.28 696.5,275.28 696.75,275.28 697,275.28 697.25,275.28 697.5,275.28 697.75,275.28 698,275.28 698.25,275.28 698.5,275.28 698.75,275.27 699,275.27 699.25,275.27 699.5,275.27 699.75,275.27 700,275.27 700.25,275.26 700.5,275.26 700.75,275.26 701,275.26 701.25,275.25 701.5,275.25 701.75,275.25 702,275.24 702.25,275.24 702.5,275.23 702.75,275.22 703,275.22 703.25,275.21 703.5,275.2 703.75,275.19 704,275.17 704.25,275.16 704.5,275.13 704.75,275.09 705,275.01 705.25,274.84 705.5,274.49 705.75,273.86 706,272.93 706.25,271.82 706.5,270.85 706.75,270.36 707,270.58 707.25,271.39 707.5,272.49 707.75,273.51 708,274.26 708.25,274.71 708.5,274.95 708.75,275.05 709,275.1 709.25,275.13 709.5,275.14 709.75,275.15 710,275.16 710.25,275.17 710.5,275.18 710.75,275.18 711,275.18 711.25,275.18 711.5,275.18 711.75,275.17 712,275.17 712.25,275.16 712.5,275.15 712.75,275.14 713,275.12 713.25,275.08 713.5,275.01 713.75,274.84 714,274.51 714.25,273.91 714.5,273.02 714.75,271.96 715,271.03 715.25,270.56 715.5,270.77 715.75,271.55 716,272.61 716.25,273.59 716.5,274.31 716.75,274.75 717,274.97 717.25,275.08 717.5,275.13 717.75,275.15 718,275.17 718.25,275.19 718.5,275.2 718.75,275.21 719,275.22 719.25,275.22 719.5,275.23 719.75,275.24 720,275.24 720.25,275.25 720.5,275.25 720.75,275.25 721,275.26 721.25,275.26 721.5,275.26 721.75,275.27 722,275.27 722.25,275.27 722.5,275.27 722.75,275.27 723,275.27 723.25,275.28 723.5,275.28 723.75,275.28 724,275.28 724.25,275.28 724.5,275.28 724.75,275.28 725,275.28 725.25,275.28 725.5,275.28 725.75,275.28 726,275.28 726.25,275.29 726.5,275.29 726.75,275.29 727,275.29 727.25,275.29 727.5,275.29 727.75,275.29 728,275.29 728.25,275.29 728.5,275.29 728.75,275.29 729,275.29 729.25,275.29 729.5,275.29 729.75,275.29 730,275.29 730.25,275.29 730.5,275.29 730.75,275.29 731,275.29 731.25,275.29 731.5,275.29 731.75,275.29 732,275.29 732.25,275.29 732.5,275.29 732.75,275.29 733,275.29 733.25,275.29 733.5,275.29 733.75,275.29 734,275.29 734.25,275.29 734.5,275.29 734.75,275.29 735,275.29 735.25,275.29 735.5,275.29 735.75,275.29 736,275.29 736.25,275.29 736.5,275.29 736.75,275.29 737,275.29 737.25,275.29 737.5,275.29 737.75,275.29 738,275.29 738.25,275.3 738.5,275.3 738.75,275.3 739,275.3 739.25,275.3 739.5,275.3 739.75,275.3 740,275.3 740.25,275.3 740.5,275.3 740.75,275.3 741,275.3 741.25,275.3 741.5,275.3 741.75,275.3 742,275.3 742.25,275.3 742.5,275.3 742.75,275.3 743,275.3 743.25,275.3 743.5,275.3 743.75,275.3 744,275.3 744.25,275.3 744.5,275.3 744.75,275.3 745,275.3 745.25,275.3 745.5,275.3 745.75,275.3 746,275.3 746.25,275.3 746.5,275.3 746.75,275.3 747,275.3 747.25,275.3 747.5,275.3 747.75,275.3 748,275.3 748.25,275.3 748.5,275.3 748.75,275.3 749,275.3 749.25,275.3 749.5,275.3 749.75,275.3 750,275.3 750.25,275.3 750.5,275.3 750.75,275.3 751,275.3 751.25,275.3 751.5,275.3 751.75,275.3 752,275.3 752.25,275.3 752.5,275.3 752.75,275.3 753,275.3 753.25,275.3 753.5,275.3 753.75,275.3 754,275.3 754.25,275.3 754.5,275.3 754.75,275.3 755,275.3 755.25,275.3 755.5,275.3 755.75,275.3 756,275.3 756.25,275.3 756.5,275.3 756.75,275.3 757,275.3 757.25,275.3 757.5,275.3 757.75,275.3 758,275.3 758.25,275.3 758.5,275.3 758.75,275.3 759,275.3 759.25,275.3 759.5,275.3 759.75,275.3 760,275.3 760.25,275.3 760.5,275.3 760.75,275.3 761,275.3 761.25,275.3 761.5,275.3 761.75,275.3 762,275.3 762.25,275.3 762.5,275.3 762.75,275.3 763,275.3 763.25,275.3 763.5,275.3 763.75,275.3 764,275.3 764.25,275.3 764.5,275.3 764.75,275.3 765,275.3 765.25,275.3 765.5,275.3 765.75,275.3 766,275.3 766.25,275.3 766.5,275.3 766.75,275.3 767,275.3 767.25,275.3 767.5,275.3 767.75,275.3 768,275.3 768.25,275.3 768.5,275.3 768.75,275.3 769,275.3 769.25,275.3 769.5,275.3 769.75,275.3 770,275.3 770.25,275.3 770.5,275.3 770.75,275.3 771,275.3 771.25,275.3 771.5,275.3 771.75,275.3 772,275.3 772.25,275.3 772.5,275.3 772.75,275.3 773,275.3 773.25,275.3 773.5,275.3 773.75,275.3 774,275.3 774.25,275.3 774.5,275.3 774.75,275.3 775,275.3 775.25,275.3 775.5,275.3 775.75,275.3 776,275.3 776.25,275.3 776.5,275.3 776.75,275.3 777,275.3 777.25,275.3 777.5,275.3 777.75,275.3 778,275.3 778.25,275.3 778.5,275.3 778.75,275.3 779,275.3 779.25,275.3 779.5,275.3 779.75,275.3 780,275.3 780.25,275.3 780.5,275.3 780.75,275.3 781,275.3 781.25,275.3 781.5,275.3 781.75,275.3 782,275.3 782.25,275.3 782.5,275.3 782.75,275.3 783,275.3 783.25,275.3 783.5,275.3 783.75,275.3 784,275.3 784.25,275.3 784.5,275.3 784.75,275.3 785,275.3 785.25,275.3 785.5,275.3 785.75,275.3 786,275.3 786.25,275.3 786.5,275.3 786.75,275.3 787,275.3 787.25,275.3 787.5,275.3 787.75,275.3 788,275.3 788.25,275.3 788.5,275.3 788.75,275.3 789,275.3 789.25,275.3 789.5,275.3 789.75,275.3 790,275.3 790.25,275.3 790.5,275.3 790.75,275.3 791,275.3 791.25,275.3 791.5,275.3 791.75,275.3 792,275.3 792.25,275.3 792.5,275.3 792.75,275.3 793,275.3 793.25,275.3 793.5,275.3 793.75,275.3 794,275.3 794.25,275.3 794.5,275.3 794.75,275.3 795,275.3 795.25,275.3 795.5,275.3 795.75,275.3 796,275.3 796.25,275.3 796.5,275.3 796.75,275.3 797,275.3 797.25,275.3 797.5,275.3 797.75,275.3 798,275.3 798.25,275.3 798.5,275.3 798.75,275.3 799,275.3 799.25,275.3 799.5,275.3 799.75,275.3 800,275.3 800.25,275.3 800.5,275.3 800.75,275.3 801,275.3 801.25,275.3 801.5,275.3 801.75,275.3 802,275.3 802.25,275.3 802.5,275.3 802.75,275.3 803,275.3 803.25,275.3 803.5,275.3 803.75,275.3 804,275.3 804.25,275.3 804.5,275.3 804.75,275.3 805,275.3 805.25,275.3 805.5,275.3 805.75,275.3 806,275.3 806.25,275.3 806.5,275.3 806.75,275.3 807,275.3 807.25,275.3 807.5,275.3 807.75,275.3 808,275.3 808.25,275.3 808.5,275.3 808.75,275.3 809,275.3 809.25,275.3 809.5,275.3 809.75,275.3 810,275.3 810.25,275.3 810.5,275.3 810.75,275.3 811,275.3 811.25,275.3 811.5,275.3 811.75,275.3 812,275.3 812.25,275.3 812.5,275.3 812.75,275.3 813,275.3 813.25,275.3 813.5,275.3 813.75,275.3 814,275.3 814.25,275.3 814.5,275.3 814.75,275.3 815,275.3 815.25,275.3 815.5,275.3 815.75,275.3 816,275.3 816.25,275.3 816.5,275.3 816.75,275.3 817,275.3 817.25,275.3 817.5,275.3 817.75,275.3 818,275.3 818.25,275.3 818.5,275.3 818.75,275.3 819,275.3 819.25,275.3 819.5,275.3 819.75,275.3 820,275.3 820.25,275.3 820.5,275.3 820.75,275.3 821,275.3 821.25,275.3 821.5,275.3 821.75,275.3 822,275.3 822.25,275.3 822.5,275.3 822.75,275.3 823,275.3 823.25,275.3 823.5,275.3 823.75,275.3 824,275.3 824.25,275.3 824.5,275.3 824.75,275.3 825,275.3 825.25,275.3 825.5,275.3 825.75,275.3 826,275.3 826.25,275.3 826.5,275.3 826.75,275.3 827,275.3 827.25,275.3 827.5,275.3 827.75,275.3 828,275.3 828.25,275.3 828.5,275.3 828.75,275.3 829,275.3 829.25,275.3 829.5,275.3 829.75,275.3 830,275.3 830.25,275.3 830.5,275.3 830.75,275.3 831,275.3 831.25,275.3 831.5,275.3 831.75,275.3 832,275.3 832.25,275.3 832.5,275.3 832.75,275.3 833,275.3 833.25,275.3 833.5,275.3 833.75,275.3 834,275.3 834.25,275.3 834.5,275.3 834.75,275.3 835,275.3 835.25,275.3 835.5,275.3 835.75,275.3 836,275.3 836.25,275.3 836.5,275.3 836.75,275.3 837,275.3 837.25,275.3 837.5,275.3 837.75,275.3 838,275.3 838.25,275.3 838.5,275.3 838.75,275.3 839,275.3 839.25,275.3 839.5,275.3 839.75,275.3 840,275.3 840.25,275.3 840.5,275.3 840.75,275.3 841,275.3 841.25,275.3 841.5,275.3 841.75,275.3 842,275.3 842.25,275.3 842.5,275.3 842.75,275.3 843,275.3 843.25,275.3 843.5,275.3 843.75,275.3 844,275.3 844.25,275.3 844.5,275.3 844.75,275.3 845,275.3 845.25,275.3 845.5,275.3 845.75,275.3 846,275.3 846.25,275.3 846.5,275.3 846.75,275.3 847,275.3 847.25,275.3 847.5,275.3 847.75,275.3 848,275.3 848.25,275.3 848.5,275.3 848.75,275.3 849,275.3 849.25,275.3 849.5,275.3 849.75,275.3 850,275.3 850.25,275.3 850.5,275.3 850.75,275.3 851,275.3 851.25,275.3 851.5,275.3 851.75,275.3 852,275.3 852.25,275.3 852.5,275.3 852.75,275.3 853,275.3 853.25,275.3 853.5,275.3 853.75,275.3 854,275.3 854.25,275.3 854.5,275.3 854.75,275.3 855,275.3 855.25,275.3 855.5,275.3 855.75,275.3 856,275.3" fill="none" stroke="#203f7c" stroke-width="1.3" stroke-linejoin="round"/>
<line x1="98.5" y1="275.5" x2="856.5" y2="275.5" stroke="#222" stroke-width="1.2"/>
<line x1="194.5" y1="275.9" x2="194.5" y2="282.2" stroke="#8aa0c8" stroke-width="1"/>
<line x1="291.5" y1="275.9" x2="291.5" y2="282.2" stroke="#8aa0c8" stroke-width="1"/>
<line x1="325.5" y1="275.9" x2="325.5" y2="282.2" stroke="#8aa0c8" stroke-width="1"/>
<line x1="443.5" y1="275.9" x2="443.5" y2="282.2" stroke="#8aa0c8" stroke-width="1"/>
<line x1="552.5" y1="275.9" x2="552.5" y2="282.2" stroke="#8aa0c8" stroke-width="1"/>
<line x1="629.5" y1="275.9" x2="629.5" y2="282.2" stroke="#8aa0c8" stroke-width="1"/>
<rect x="184.5" y="281.5" width="20" height="19" fill="#fff" stroke="#8aa0c8" stroke-width="1"/>
<text x="194.7" y="298.3" text-anchor="middle" font-family="'Liberation Serif', 'Times New Roman', serif" font-size="15" fill="#111">16</text>
<rect x="281.5" y="281.5" width="20" height="19" fill="#fff" stroke="#8aa0c8" stroke-width="1"/>
<text x="291.75" y="298.3" text-anchor="middle" font-family="'Liberation Serif', 'Times New Roman', serif" font-size="15" fill="#111">13</text>
<rect x="315.5" y="281.5" width="20" height="19" fill="#fff" stroke="#8aa0c8" stroke-width="1"/>
<text x="325.8" y="298.3" text-anchor="middle" font-family="'Liberation Serif', 'Times New Roman', serif" font-size="15" fill="#111">18</text>
<rect x="433.5" y="281.5" width="21" height="19" fill="#fff" stroke="#8aa0c8" stroke-width="1"/>
<text x="444.05" y="298.3" text-anchor="middle" font-family="'Liberation Serif', 'Times New Roman', serif" font-size="15" fill="#111">12</text>
<rect x="542.5" y="281.5" width="21" height="19" fill="#fff" stroke="#8aa0c8" stroke-width="1"/>
<text x="553.15" y="298.3" text-anchor="middle" font-family="'Liberation Serif', 'Times New Roman', serif" font-size="15" fill="#111">12</text>
<rect x="622.5" y="281.5" width="14" height="19" fill="#fff" stroke="#8aa0c8" stroke-width="1"/>
<text x="629.8" y="298.3" text-anchor="middle" font-family="'Liberation Serif', 'Times New Roman', serif" font-size="15" fill="#111">7</text>
<rect x="33.5" y="337.5" width="835" height="211" fill="none" stroke="#4a4a4a" stroke-width="1"/>
<rect x="33.5" y="322.5" width="835" height="15" fill="#fff" stroke="#111" stroke-width="1.5"/>
<line x1="321" y1="323.5" x2="321" y2="336.8" stroke="#b4b4b4" stroke-width="0.9"/>
<line x1="452.5" y1="323.5" x2="452.5" y2="336.8" stroke="#b4b4b4" stroke-width="0.9"/>
<line x1="642.5" y1="323.5" x2="642.5" y2="336.8" stroke="#b4b4b4" stroke-width="0.9"/>
<line x1="722.8" y1="323.5" x2="722.8" y2="336.8" stroke="#b4b4b4" stroke-width="0.9"/>
<line x1="795.9" y1="323.5" x2="795.9" y2="336.8" stroke="#b4b4b4" stroke-width="0.9"/>
<text x="37.9" y="334.9" font-family="'Liberation Sans', Arial, sans-serif" font-size="12.06" fill="#111">42<tspan dy="-1.0">_</tspan><tspan dy="1.0">B06</tspan><tspan dy="-1.0">_</tspan><tspan dy="1.0">CellLineAuthentication-1-0907.fsa</tspan></text>
<text x="325.4" y="334.9" font-family="'Liberation Sans', Arial, sans-serif" font-size="12.06" fill="#111">HTR-8-SVneo</text>
<text x="457" y="334.9" font-family="'Liberation Sans', Arial, sans-serif" font-size="12.06" fill="#111">21Plex<tspan dy="-1.0">_</tspan><tspan dy="1.0">STR</tspan><tspan dy="-1.0">_</tspan><tspan dy="1.0">Panel</tspan><tspan dy="-1.0">_</tspan><tspan dy="1.0">v1.1</tspan></text>
<rect x="754" y="324.9" width="10.5" height="10.5" fill="#4caf3c"/>
<rect x="826.8" y="324.9" width="10.5" height="10.5" fill="#4caf3c"/>
<rect x="130.5" y="343.5" width="120" height="16" fill="#c1c1c1" stroke="#555" stroke-width="1"/>
<text x="190.4" y="356.8" text-anchor="middle" font-family="'Liberation Sans', Arial, sans-serif" font-size="11.9" fill="#1a1a1a">D8S1179</text>
<rect x="255.5" y="343.5" width="113" height="16" fill="#c1c1c1" stroke="#555" stroke-width="1"/>
<text x="311.85" y="356.8" text-anchor="middle" font-family="'Liberation Sans', Arial, sans-serif" font-size="11.9" fill="#1a1a1a">D21S11</text>
<rect x="372.5" y="343.5" width="92" height="16" fill="#c1c1c1" stroke="#555" stroke-width="1"/>
<text x="418.75" y="356.8" text-anchor="middle" font-family="'Liberation Sans', Arial, sans-serif" font-size="11.9" fill="#1a1a1a">D16S539</text>
<rect x="473.5" y="343.5" width="135" height="16" fill="#c1c1c1" stroke="#555" stroke-width="1"/>
<text x="541.2" y="356.8" text-anchor="middle" font-family="'Liberation Sans', Arial, sans-serif" font-size="11.9" fill="#1a1a1a">D2S1338</text>
<rect x="613.5" y="343.5" width="157" height="16" fill="#c1c1c1" stroke="#555" stroke-width="1"/>
<text x="692" y="356.8" text-anchor="middle" font-family="'Liberation Sans', Arial, sans-serif" font-size="11.9" fill="#1a1a1a">Penta D</text>
<path d="M143 381.9V489.1M149.6 381.9V489.1M156.5 381.9V489.1M163.1 381.9V489.1M169.9 381.9V489.1M176.5 381.9V489.1M180 381.9V489.1M183.3 381.9V489.1M190.2 381.9V489.1M197.1 381.9V489.1M204.7 381.9V489.1M212 381.9V489.1M219.5 381.9V489.1M226.4 381.9V489.1M240.9 381.9V489.1M247.7 381.9V489.1M259.1 381.9V489.1M262.62 381.9V489.1M266.14 381.9V489.1M269.66 381.9V489.1M273.18 381.9V489.1M276.7 381.9V489.1M280.22 381.9V489.1M283.74 381.9V489.1M287.26 381.9V489.1M290.78 381.9V489.1M294.3 381.9V489.1M297.82 381.9V489.1M301.34 381.9V489.1M304.86 381.9V489.1M308.38 381.9V489.1M311.9 381.9V489.1M315.42 381.9V489.1M318.94 381.9V489.1M322.46 381.9V489.1M325.98 381.9V489.1M329.5 381.9V489.1M333.02 381.9V489.1M336.54 381.9V489.1M340.06 381.9V489.1M343.58 381.9V489.1M347.1 381.9V489.1M350.62 381.9V489.1M354.14 381.9V489.1M357.66 381.9V489.1M361.18 381.9V489.1M364.7 381.9V489.1M376.9 381.9V489.1M383.6 381.9V489.1M390.6 381.9V489.1M397.9 381.9V489.1M404.7 381.9V489.1M411.4 381.9V489.1M418.2 381.9V489.1M425.5 381.9V489.1M432.1 381.9V489.1M435.7 381.9V489.1M439.4 381.9V489.1M446.2 381.9V489.1M453.3 381.9V489.1M460.1 381.9V489.1M483.1 381.9V489.1M489.9 381.9V489.1M496.7 381.9V489.1M503.5 381.9V489.1M512 381.9V489.1M519.1 381.9V489.1M526 381.9V489.1M533.3 381.9V489.1M540.4 381.9V489.1M546.9 381.9V489.1M553.6 381.9V489.1M560.4 381.9V489.1M566.7 381.9V489.1M570.1 381.9V489.1M573.5 381.9V489.1M579.1 381.9V489.1M585.8 381.9V489.1M592.6 381.9V489.1M599.2 381.9V489.1M606 381.9V489.1M576.4 381.9V489.1M630.3 381.9V489.1M644.9 381.9V489.1M652.3 381.9V489.1M660.8 381.9V489.1M669.4 381.9V489.1M678.4 381.9V489.1M687.2 381.9V489.1M695.7 381.9V489.1M704.6 381.9V489.1M713.6 381.9V489.1M722.7 381.9V489.1M731.3 381.9V489.1M740 381.9V489.1M748.8 381.9V489.1M757.5 381.9V489.1" stroke="#cdcdcd" stroke-width="1.3" fill="none"/>
<rect x="98.5" y="381.5" width="758" height="108" fill="none" stroke="#333" stroke-width="1"/>
<text x="165.5" y="375.5" text-anchor="middle" font-family="'Liberation Sans', Arial, sans-serif" font-size="10" fill="#111">120</text>
<text x="302.5" y="375.5" text-anchor="middle" font-family="'Liberation Sans', Arial, sans-serif" font-size="10" fill="#111">200</text>
<text x="439.5" y="375.5" text-anchor="middle" font-family="'Liberation Sans', Arial, sans-serif" font-size="10" fill="#111">280</text>
<text x="576.5" y="375.5" text-anchor="middle" font-family="'Liberation Sans', Arial, sans-serif" font-size="10" fill="#111">360</text>
<text x="713.5" y="375.5" text-anchor="middle" font-family="'Liberation Sans', Arial, sans-serif" font-size="10" fill="#111">440</text>
<text x="850.5" y="375.5" text-anchor="middle" font-family="'Liberation Sans', Arial, sans-serif" font-size="10" fill="#111">520</text>
<text x="93.6" y="493" text-anchor="end" font-family="'Liberation Sans', Arial, sans-serif" font-size="10" fill="#111">0</text>
<text x="93.6" y="465.28" text-anchor="end" font-family="'Liberation Sans', Arial, sans-serif" font-size="10" fill="#111">2100</text>
<text x="93.6" y="437.56" text-anchor="end" font-family="'Liberation Sans', Arial, sans-serif" font-size="10" fill="#111">4200</text>
<text x="93.6" y="409.84" text-anchor="end" font-family="'Liberation Sans', Arial, sans-serif" font-size="10" fill="#111">6300</text>
<path d="M165.5 378.1V384.5M233.5 378.1V384.5M302.5 378.1V384.5M370.5 378.1V384.5M439.5 378.1V384.5M507.5 378.1V384.5M576.5 378.1V384.5M644.5 378.1V384.5M713.5 378.1V384.5M781.5 378.1V384.5M850.5 378.1V384.5M95.4 489.5H101.8M95.4 475.5H101.8M95.4 461.5H101.8M95.4 447.5H101.8M95.4 433.5H101.8M95.4 420.5H101.8M95.4 406.5H101.8M95.4 392.5H101.8" stroke="#555" stroke-width="1" fill="none"/>
<polyline points="99,488.99 99.25,488.99 99.5,488.99 99.75,488.99 100,488.99 100.25,488.99 100.5,488.99 100.75,488.99 101,488.99 101.25,488.99 101.5,488.99 101.75,488.99 102,488.99 102.25,488.99 102.5,488.99 102.75,488.99 103,488.99 103.25,488.99 103.5,488.99 103.75,488.99 104,488.99 104.25,488.99 104.5,488.99 104.75,488.99 105,488.99 105.25,488.99 105.5,488.99 105.75,488.99 106,488.99 106.25,488.99 106.5,488.99 106.75,488.99 107,488.99 107.25,488.99 107.5,488.99 107.75,488.99 108,488.99 108.25,488.99 108.5,488.99 108.75,488.99 109,488.99 109.25,488.99 109.5,488.99 109.75,488.99 110,488.99 110.25,488.99 110.5,488.99 110.75,488.99 111,488.99 111.25,488.99 111.5,488.99 111.75,488.99 112,488.99 112.25,488.99 112.5,488.99 112.75,488.99 113,488.99 113.25,488.99 113.5,488.99 113.75,488.99 114,488.99 114.25,488.99 114.5,488.99 114.75,488.99 115,488.99 115.25,488.99 115.5,488.99 115.75,488.99 116,488.99 116.25,488.99 116.5,488.99 116.75,488.99 117,488.99 117.25,488.99 117.5,488.99 117.75,488.99 118,488.99 118.25,488.99 118.5,488.99 118.75,488.99 119,488.99 119.25,488.99 119.5,488.99 119.75,488.99 120,488.99 120.25,488.99 120.5,488.99 120.75,488.99 121,488.99 121.25,488.99 121.5,488.99 121.75,488.99 122,488.99 122.25,488.99 122.5,488.99 122.75,488.99 123,488.99 123.25,488.99 123.5,488.99 123.75,488.99 124,488.99 124.25,488.99 124.5,488.99 124.75,488.99 125,488.99 125.25,488.99 125.5,488.99 125.75,488.99 126,488.99 126.25,488.99 126.5,488.99 126.75,488.99 127,488.99 127.25,488.99 127.5,488.99 127.75,488.99 128,488.99 128.25,488.99 128.5,488.99 128.75,488.99 129,488.99 129.25,488.99 129.5,488.99 129.75,488.99 130,488.99 130.25,488.99 130.5,488.99 130.75,488.99 131,488.99 131.25,488.99 131.5,488.99 131.75,488.99 132,488.99 132.25,488.99 132.5,488.99 132.75,488.99 133,488.99 133.25,488.99 133.5,488.99 133.75,488.99 134,488.99 134.25,488.99 134.5,488.99 134.75,488.99 135,488.99 135.25,488.99 135.5,488.99 135.75,488.99 136,488.99 136.25,488.99 136.5,488.99 136.75,488.99 137,488.99 137.25,488.99 137.5,488.98 137.75,488.98 138,488.98 138.25,488.98 138.5,488.98 138.75,488.98 139,488.98 139.25,488.98 139.5,488.98 139.75,488.98 140,488.98 140.25,488.98 140.5,488.98 140.75,488.98 141,488.98 141.25,488.98 141.5,488.98 141.75,488.98 142,488.98 142.25,488.98 142.5,488.98 142.75,488.98 143,488.98 143.25,488.98 143.5,488.98 143.75,488.98 144,488.98 144.25,488.98 144.5,488.98 144.75,488.98 145,488.98 145.25,488.98 145.5,488.98 145.75,488.98 146,488.98 146.25,488.98 146.5,488.98 146.75,488.98 147,488.98 147.25,488.98 147.5,488.98 147.75,488.98 148,488.98 148.25,488.98 148.5,488.98 148.75,488.98 149,488.98 149.25,488.98 149.5,488.98 149.75,488.98 150,488.98 150.25,488.98 150.5,488.98 150.75,488.98 151,488.98 151.25,488.98 151.5,488.98 151.75,488.98 152,488.98 152.25,488.98 152.5,488.98 152.75,488.98 153,488.98 153.25,488.98 153.5,488.98 153.75,488.98 154,488.98 154.25,488.97 154.5,488.97 154.75,488.97 155,488.97 155.25,488.97 155.5,488.97 155.75,488.97 156,488.97 156.25,488.97 156.5,488.97 156.75,488.97 157,488.97 157.25,488.97 157.5,488.97 157.75,488.97 158,488.97 158.25,488.97 158.5,488.97 158.75,488.97 159,488.97 159.25,488.97 159.5,488.97 159.75,488.97 160,488.97 160.25,488.97 160.5,488.97 160.75,488.97 161,488.97 161.25,488.97 161.5,488.97 161.75,488.97 162,488.97 162.25,488.97 162.5,488.97 162.75,488.96 163,488.96 163.25,488.96 163.5,488.96 163.75,488.96 164,488.96 164.25,488.96 164.5,488.96 164.75,488.96 165,488.96 165.25,488.96 165.5,488.96 165.75,488.96 166,488.96 166.25,488.96 166.5,488.96 166.75,488.96 167,488.96 167.25,488.96 167.5,488.96 167.75,488.96 168,488.95 168.25,488.95 168.5,488.95 168.75,488.95 169,488.95 169.25,488.95 169.5,488.95 169.75,488.95 170,488.95 170.25,488.95 170.5,488.95 170.75,488.95 171,488.95 171.25,488.95 171.5,488.95 171.75,488.94 172,488.94 172.25,488.94 172.5,488.94 172.75,488.94 173,488.94 173.25,488.94 173.5,488.94 173.75,488.94 174,488.94 174.25,488.93 174.5,488.93 174.75,488.93 175,488.93 175.25,488.93 175.5,488.93 175.75,488.93 176,488.93 176.25,488.92 176.5,488.92 176.75,488.92 177,488.92 177.25,488.92 177.5,488.92 177.75,488.91 178,488.91 178.25,488.91 178.5,488.91 178.75,488.91 179,488.9 179.25,488.9 179.5,488.9 179.75,488.9 180,488.9 180.25,488.89 180.5,488.89 180.75,488.89 181,488.88 181.25,488.88 181.5,488.88 181.75,488.87 182,488.87 182.25,488.86 182.5,488.86 182.75,488.86 183,488.85 183.25,488.85 183.5,488.84 183.75,488.83 184,488.83 184.25,488.82 184.5,488.81 184.75,488.8 185,488.79 185.25,488.78 185.5,488.77 185.75,488.76 186,488.74 186.25,488.73 186.5,488.71 186.75,488.69 187,488.67 187.25,488.64 187.5,488.62 187.75,488.59 188,488.55 188.25,488.51 188.5,488.47 188.75,488.41 189,488.29 189.25,488.01 189.5,487.35 189.75,486.16 190,484.61 190.25,483.39 190.5,483.25 190.75,484.26 191,485.77 191.25,487.02 191.5,487.73 191.75,488.03 192,488.11 192.25,488.12 192.5,488.07 192.75,487.95 193,487.73 193.25,487.39 193.5,487 193.75,486.72 194,486.66 194.25,486.85 194.5,487.17 194.75,487.47 195,487.67 195.25,487.76 195.5,487.77 195.75,487.75 196,487.71 196.25,487.67 196.5,487.62 196.75,487.57 197,487.53 197.25,487.48 197.5,487.44 197.75,487.39 198,487.35 198.25,487.31 198.5,487.28 198.75,487.25 199,487.22 199.25,487.2 199.5,487.18 199.75,487.16 200,487.15 200.25,487.14 200.5,487.14 200.75,487.15 201,487.15 201.25,487.16 201.5,487.18 201.75,487.2 202,487.22 202.25,487.24 202.5,487.27 202.75,487.29 203,487.32 203.25,487.35 203.5,487.37 203.75,487.4 204,487.42 204.25,487.44 204.5,487.46 204.75,487.47 205,487.48 205.25,487.48 205.5,487.48 205.75,487.47 206,487.45 206.25,487.42 206.5,487.39 206.75,487.34 207,487.28 207.25,487.2 207.5,487.11 207.75,487.01 208,486.88 208.25,486.73 208.5,486.56 208.75,486.36 209,486.14 209.25,485.88 209.5,485.58 209.75,485.23 210,484.79 210.25,484.08 210.5,482.62 210.75,479.33 211,472.7 211.25,461.75 211.5,447.84 211.75,435.52 212,430.45 212.25,435.2 212.5,447.08 212.75,460.17 213,469.42 213.25,472.79 213.5,470.97 213.75,466.36 214,462.21 214.25,461.31 214.5,464.54 214.75,470.43 215,476.5 215.25,481.03 215.5,483.71 215.75,485.07 216,485.73 216.25,486.12 216.5,486.4 216.75,486.63 217,486.84 217.25,487.02 217.5,487.19 217.75,487.34 218,487.47 218.25,487.58 218.5,487.69 218.75,487.78 219,487.87 219.25,487.94 219.5,488.01 219.75,488.07 220,488.13 220.25,488.18 220.5,488.23 220.75,488.27 221,488.31 221.25,488.35 221.5,488.38 221.75,488.41 222,488.44 222.25,488.47 222.5,488.49 222.75,488.52 223,488.54 223.25,488.56 223.5,488.58 223.75,488.59 224,488.61 224.25,488.63 224.5,488.64 224.75,488.65 225,488.67 225.25,488.68 225.5,488.69 225.75,488.7 226,488.71 226.25,488.72 226.5,488.73 226.75,488.74 227,488.75 227.25,488.75 227.5,488.76 227.75,488.77 228,488.78 228.25,488.78 228.5,488.79 228.75,488.79 229,488.8 229.25,488.8 229.5,488.81 229.75,488.81 230,488.82 230.25,488.82 230.5,488.83 230.75,488.83 231,488.84 231.25,488.84 231.5,488.84 231.75,488.85 232,488.85 232.25,488.85 232.5,488.86 232.75,488.86 233,488.86 233.25,488.87 233.5,488.87 233.75,488.87 234,488.87 234.25,488.88 234.5,488.88 234.75,488.88 235,488.88 235.25,488.88 235.5,488.89 235.75,488.89 236,488.89 236.25,488.89 236.5,488.89 236.75,488.9 237,488.9 237.25,488.9 237.5,488.9 237.75,488.9 238,488.9 238.25,488.9 238.5,488.91 238.75,488.91 239,488.91 239.25,488.91 239.5,488.91 239.75,488.91 240,488.91 240.25,488.91 240.5,488.92 240.75,488.92 241,488.92 241.25,488.92 241.5,488.92 241.75,488.92 242,488.92 242.25,488.92 242.5,488.92 242.75,488.92 243,488.93 243.25,488.93 243.5,488.93 243.75,488.93 244,488.93 244.25,488.93 244.5,488.93 244.75,488.93 245,488.93 245.25,488.93 245.5,488.93 245.75,488.93 246,488.93 246.25,488.93 246.5,488.93 246.75,488.93 247,488.93 247.25,488.94 247.5,488.94 247.75,488.94 248,488.94 248.25,488.94 248.5,488.94 248.75,488.94 249,488.94 249.25,488.94 249.5,488.94 249.75,488.94 250,488.94 250.25,488.94 250.5,488.94 250.75,488.94 251,488.94 251.25,488.94 251.5,488.94 251.75,488.94 252,488.94 252.25,488.94 252.5,488.94 252.75,488.94 253,488.94 253.25,488.94 253.5,488.94 253.75,488.94 254,488.94 254.25,488.94 254.5,488.94 254.75,488.94 255,488.94 255.25,488.94 255.5,488.94 255.75,488.94 256,488.94 256.25,488.94 256.5,488.94 256.75,488.94 257,488.94 257.25,488.94 257.5,488.94 257.75,488.94 258,488.94 258.25,488.94 258.5,488.94 258.75,488.94 259,488.94 259.25,488.94 259.5,488.94 259.75,488.94 260,488.94 260.25,488.94 260.5,488.94 260.75,488.94 261,488.94 261.25,488.94 261.5,488.94 261.75,488.94 262,488.94 262.25,488.94 262.5,488.94 262.75,488.94 263,488.94 263.25,488.94 263.5,488.94 263.75,488.94 264,488.94 264.25,488.94 264.5,488.94 264.75,488.94 265,488.94 265.25,488.93 265.5,488.93 265.75,488.93 266,488.93 266.25,488.93 266.5,488.93 266.75,488.93 267,488.93 267.25,488.93 267.5,488.93 267.75,488.93 268,488.93 268.25,488.93 268.5,488.93 268.75,488.93 269,488.93 269.25,488.92 269.5,488.92 269.75,488.92 270,488.92 270.25,488.92 270.5,488.92 270.75,488.92 271,488.92 271.25,488.92 271.5,488.92 271.75,488.91 272,488.91 272.25,488.91 272.5,488.91 272.75,488.91 273,488.91 273.25,488.91 273.5,488.9 273.75,488.9 274,488.9 274.25,488.9 274.5,488.9 274.75,488.9 275,488.89 275.25,488.89 275.5,488.89 275.75,488.89 276,488.89 276.25,488.88 276.5,488.88 276.75,488.88 277,488.88 277.25,488.87 277.5,488.87 277.75,488.87 278,488.86 278.25,488.86 278.5,488.85 278.75,488.85 279,488.84 279.25,488.84 279.5,488.83 279.75,488.82 280,488.82 280.25,488.81 280.5,488.8 280.75,488.79 281,488.78 281.25,488.76 281.5,488.75 281.75,488.73 282,488.72 282.25,488.7 282.5,488.68 282.75,488.65 283,488.63 283.25,488.6 283.5,488.58 283.75,488.55 284,488.51 284.25,488.48 284.5,488.44 284.75,488.4 285,488.36 285.25,488.32 285.5,488.27 285.75,488.22 286,488.17 286.25,488.12 286.5,488.07 286.75,488.01 287,487.96 287.25,487.9 287.5,487.85 287.75,487.79 288,487.73 288.25,487.68 288.5,487.62 288.75,487.57 289,487.52 289.25,487.47 289.5,487.42 289.75,487.37 290,487.32 290.25,487.28 290.5,487.23 290.75,487.19 291,487.15 291.25,487.11 291.5,487.07 291.75,487.03 292,486.98 292.25,486.94 292.5,486.89 292.75,486.83 293,486.77 293.25,486.7 293.5,486.62 293.75,486.53 294,486.42 294.25,486.29 294.5,486.15 294.75,485.98 295,485.78 295.25,485.51 295.5,485.01 295.75,483.78 296,480.82 296.25,474.83 296.5,465.51 296.75,455.16 297,448.5 297.25,449.34 297.5,457.17 297.75,467.68 298,476.47 298.25,481.81 298.5,484.35 298.75,485.4 299,485.86 299.25,486.13 299.5,486.34 299.75,486.52 300,486.66 300.25,486.78 300.5,486.87 300.75,486.93 301,486.98 301.25,486.99 301.5,486.98 301.75,486.91 302,486.68 302.25,486.01 302.5,484.41 302.75,481.42 303,477.28 303.25,473.43 303.5,471.85 303.75,473.5 304,477.43 304.25,481.64 304.5,484.71 304.75,486.4 305,487.16 305.25,487.49 305.5,487.66 305.75,487.78 306,487.88 306.25,487.98 306.5,488.06 306.75,488.13 307,488.2 307.25,488.26 307.5,488.31 307.75,488.36 308,488.4 308.25,488.44 308.5,488.48 308.75,488.51 309,488.54 309.25,488.56 309.5,488.58 309.75,488.61 310,488.63 310.25,488.64 310.5,488.66 310.75,488.67 311,488.69 311.25,488.7 311.5,488.71 311.75,488.72 312,488.74 312.25,488.74 312.5,488.75 312.75,488.76 313,488.77 313.25,488.78 313.5,488.78 313.75,488.79 314,488.8 314.25,488.8 314.5,488.81 314.75,488.81 315,488.81 315.25,488.82 315.5,488.82 315.75,488.83 316,488.83 316.25,488.83 316.5,488.83 316.75,488.84 317,488.84 317.25,488.84 317.5,488.84 317.75,488.84 318,488.84 318.25,488.84 318.5,488.84 318.75,488.84 319,488.83 319.25,488.83 319.5,488.82 319.75,488.8 320,488.78 320.25,488.76 320.5,488.72 320.75,488.67 321,488.6 321.25,488.51 321.5,488.4 321.75,488.27 322,488.13 322.25,487.97 322.5,487.8 322.75,487.64 323,487.48 323.25,487.34 323.5,487.24 323.75,487.17 324,487.15 324.25,487.17 324.5,487.24 324.75,487.35 325,487.49 325.25,487.65 325.5,487.82 325.75,487.99 326,488.15 326.25,488.3 326.5,488.43 326.75,488.54 327,488.63 327.25,488.7 327.5,488.75 327.75,488.8 328,488.83 328.25,488.85 328.5,488.87 328.75,488.88 329,488.89 329.25,488.89 329.5,488.9 329.75,488.91 330,488.91 330.25,488.91 330.5,488.92 330.75,488.92 331,488.92 331.25,488.92 331.5,488.93 331.75,488.93 332,488.93 332.25,488.93 332.5,488.93 332.75,488.93 333,488.94 333.25,488.94 333.5,488.94 333.75,488.94 334,488.94 334.25,488.94 334.5,488.94 334.75,488.95 335,488.95 335.25,488.95 335.5,488.95 335.75,488.95 336,488.95 336.25,488.95 336.5,488.95 336.75,488.95 337,488.95 337.25,488.95 337.5,488.95 337.75,488.96 338,488.96 338.25,488.96 338.5,488.96 338.75,488.96 339,488.96 339.25,488.96 339.5,488.96 339.75,488.96 340,488.96 340.25,488.96 340.5,488.96 340.75,488.96 341,488.96 341.25,488.96 341.5,488.96 341.75,488.96 342,488.96 342.25,488.96 342.5,488.96 342.75,488.97 343,488.97 343.25,488.97 343.5,488.97 343.75,488.97 344,488.97 344.25,488.97 344.5,488.97 344.75,488.97 345,488.97 345.25,488.97 345.5,488.97 345.75,488.97 346,488.97 346.25,488.97 346.5,488.97 346.75,488.97 347,488.97 347.25,488.97 347.5,488.97 347.75,488.97 348,488.97 348.25,488.97 348.5,488.97 348.75,488.97 349,488.97 349.25,488.97 349.5,488.97 349.75,488.97 350,488.97 350.25,488.97 350.5,488.97 350.75,488.97 351,488.97 351.25,488.97 351.5,488.97 351.75,488.97 352,488.97 352.25,488.97 352.5,488.97 352.75,488.97 353,488.97 353.25,488.97 353.5,488.98 353.75,488.98 354,488.98 354.25,488.98 354.5,488.98 354.75,488.98 355,488.98 355.25,488.98 355.5,488.98 355.75,488.98 356,488.98 356.25,488.98 356.5,488.98 356.75,488.98 357,488.98 357.25,488.98 357.5,488.98 357.75,488.98 358,488.98 358.25,488.98 358.5,488.98 358.75,488.98 359,488.98 359.25,488.98 359.5,488.98 359.75,488.98 360,488.98 360.25,488.98 360.5,488.98 360.75,488.98 361,488.98 361.25,488.98 361.5,488.98 361.75,488.98 362,488.98 362.25,488.98 362.5,488.98 362.75,488.98 363,488.98 363.25,488.98 363.5,488.98 363.75,488.98 364,488.98 364.25,488.98 364.5,488.98 364.75,488.98 365,488.98 365.25,488.98 365.5,488.98 365.75,488.98 366,488.98 366.25,488.98 366.5,488.98 366.75,488.98 367,488.98 367.25,488.98 367.5,488.98 367.75,488.98 368,488.98 368.25,488.98 368.5,488.98 368.75,488.98 369,488.98 369.25,488.98 369.5,488.98 369.75,488.98 370,488.98 370.25,488.98 370.5,488.98 370.75,488.98 371,488.98 371.25,488.98 371.5,488.98 371.75,488.98 372,488.98 372.25,488.98 372.5,488.98 372.75,488.98 373,488.98 373.25,488.98 373.5,488.98 373.75,488.98 374,488.98 374.25,488.98 374.5,488.98 374.75,488.98 375,488.98 375.25,488.98 375.5,488.98 375.75,488.98 376,488.98 376.25,488.98 376.5,488.98 376.75,488.98 377,488.98 377.25,488.98 377.5,488.98 377.75,488.98 378,488.98 378.25,488.98 378.5,488.98 378.75,488.98 379,488.98 379.25,488.98 379.5,488.98 379.75,488.98 380,488.98 380.25,488.98 380.5,488.98 380.75,488.98 381,488.98 381.25,488.98 381.5,488.98 381.75,488.98 382,488.98 382.25,488.98 382.5,488.98 382.75,488.98 383,488.98 383.25,488.98 383.5,488.98 383.75,488.98 384,488.98 384.25,488.98 384.5,488.98 384.75,488.98 385,488.98 385.25,488.98 385.5,488.98 385.75,488.98 386,488.98 386.25,488.98 386.5,488.98 386.75,488.98 387,488.98 387.25,488.98 387.5,488.98 387.75,488.98 388,488.98 388.25,488.98 388.5,488.98 388.75,488.97 389,488.97 389.25,488.97 389.5,488.97 389.75,488.97 390,488.97 390.25,488.97 390.5,488.97 390.75,488.97 391,488.97 391.25,488.97 391.5,488.97 391.75,488.97 392,488.97 392.25,488.97 392.5,488.97 392.75,488.97 393,488.97 393.25,488.97 393.5,488.97 393.75,488.97 394,488.97 394.25,488.97 394.5,488.97 394.75,488.97 395,488.97 395.25,488.97 395.5,488.97 395.75,488.97 396,488.97 396.25,488.97 396.5,488.97 396.75,488.97 397,488.97 397.25,488.97 397.5,488.97 397.75,488.97 398,488.97 398.25,488.97 398.5,488.97 398.75,488.97 399,488.97 399.25,488.96 399.5,488.96 399.75,488.96 400,488.96 400.25,488.96 400.5,488.96 400.75,488.96 401,488.96 401.25,488.96 401.5,488.96 401.75,488.96 402,488.96 402.25,488.96 402.5,488.96 402.75,488.96 403,488.96 403.25,488.96 403.5,488.96 403.75,488.96 404,488.96 404.25,488.95 404.5,488.95 404.75,488.95 405,488.95 405.25,488.95 405.5,488.95 405.75,488.95 406,488.95 406.25,488.95 406.5,488.95 406.75,488.95 407,488.95 407.25,488.95 407.5,488.94 407.75,488.94 408,488.94 408.25,488.94 408.5,488.94 408.75,488.94 409,488.94 409.25,488.94 409.5,488.94 409.75,488.93 410,488.93 410.25,488.93 410.5,488.93 410.75,488.93 411,488.93 411.25,488.93 411.5,488.92 411.75,488.92 412,488.92 412.25,488.92 412.5,488.92 412.75,488.91 413,488.91 413.25,488.91 413.5,488.91 413.75,488.91 414,488.9 414.25,488.9 414.5,488.9 414.75,488.89 415,488.89 415.25,488.89 415.5,488.88 415.75,488.88 416,488.88 416.25,488.87 416.5,488.87 416.75,488.86 417,488.86 417.25,488.85 417.5,488.85 417.75,488.84 418,488.83 418.25,488.83 418.5,488.82 418.75,488.81 419,488.8 419.25,488.79 419.5,488.78 419.75,488.77 420,488.76 420.25,488.74 420.5,488.73 420.75,488.71 421,488.69 421.25,488.67 421.5,488.65 421.75,488.62 422,488.59 422.25,488.56 422.5,488.52 422.75,488.48 423,488.43 423.25,488.38 423.5,488.32 423.75,488.26 424,488.18 424.25,488.06 424.5,487.77 424.75,487.04 425,485.47 425.25,482.93 425.5,480.15 425.75,478.6 426,479.28 426.25,481.73 426.5,484.49 426.75,486.44 427,487.43 427.25,487.81 427.5,487.93 427.75,487.96 428,487.96 428.25,487.94 428.5,487.9 428.75,487.84 429,487.76 429.25,487.66 429.5,487.54 429.75,487.41 430,487.27 430.25,487.13 430.5,486.99 430.75,486.86 431,486.74 431.25,486.65 431.5,486.59 431.75,486.55 432,486.55 432.25,486.58 432.5,486.64 432.75,486.72 433,486.82 433.25,486.93 433.5,487.05 433.75,487.16 434,487.27 434.25,487.36 434.5,487.44 434.75,487.49 435,487.53 435.25,487.53 435.5,487.52 435.75,487.48 436,487.41 436.25,487.32 436.5,487.2 436.75,487.06 437,486.89 437.25,486.69 437.5,486.45 437.75,486.16 438,485.69 438.25,484.74 438.5,482.54 438.75,477.91 439,469.88 439.25,459.06 439.5,448.64 439.75,443.22 440,445.63 440.25,454.58 440.5,465.75 440.75,475.11 441,481.02 441.25,484.03 441.5,485.36 441.75,485.94 442,486.25 442.25,486.43 442.5,486.46 442.75,486.31 443,485.98 443.25,485.62 443.5,485.43 443.75,485.59 444,486.08 444.25,486.71 444.5,487.28 444.75,487.67 445,487.91 445.25,488.04 445.5,488.13 445.75,488.2 446,488.26 446.25,488.31 446.5,488.36 446.75,488.4 447,488.44 447.25,488.47 447.5,488.5 447.75,488.53 448,488.56 448.25,488.58 448.5,488.61 448.75,488.63 449,488.65 449.25,488.66 449.5,488.68 449.75,488.69 450,488.71 450.25,488.72 450.5,488.73 450.75,488.74 451,488.76 451.25,488.77 451.5,488.77 451.75,488.78 452,488.79 452.25,488.8 452.5,488.81 452.75,488.81 453,488.82 453.25,488.83 453.5,488.83 453.75,488.84 454,488.84 454.25,488.85 454.5,488.85 454.75,488.86 455,488.86 455.25,488.87 455.5,488.87 455.75,488.87 456,488.88 456.25,488.88 456.5,488.88 456.75,488.89 457,488.89 457.25,488.89 457.5,488.9 457.75,488.9 458,488.9 458.25,488.9 458.5,488.91 458.75,488.91 459,488.91 459.25,488.91 459.5,488.91 459.75,488.92 460,488.92 460.25,488.92 460.5,488.92 460.75,488.92 461,488.92 461.25,488.93 461.5,488.93 461.75,488.93 462,488.93 462.25,488.93 462.5,488.93 462.75,488.93 463,488.94 463.25,488.94 463.5,488.94 463.75,488.94 464,488.94 464.25,488.94 464.5,488.94 464.75,488.94 465,488.94 465.25,488.94 465.5,488.95 465.75,488.95 466,488.95 466.25,488.95 466.5,488.95 466.75,488.95 467,488.95 467.25,488.95 467.5,488.95 467.75,488.95 468,488.95 468.25,488.95 468.5,488.96 468.75,488.96 469,488.96 469.25,488.96 469.5,488.96 469.75,488.96 470,488.96 470.25,488.96 470.5,488.96 470.75,488.96 471,488.96 471.25,488.96 471.5,488.96 471.75,488.96 472,488.96 472.25,488.96 472.5,488.96 472.75,488.96 473,488.96 473.25,488.96 473.5,488.97 473.75,488.97 474,488.97 474.25,488.97 474.5,488.97 474.75,488.97 475,488.97 475.25,488.97 475.5,488.97 475.75,488.97 476,488.97 476.25,488.97 476.5,488.97 476.75,488.97 477,488.97 477.25,488.97 477.5,488.97 477.75,488.97 478,488.97 478.25,488.97 478.5,488.97 478.75,488.97 479,488.97 479.25,488.97 479.5,488.97 479.75,488.97 480,488.97 480.25,488.97 480.5,488.97 480.75,488.97 481,488.97 481.25,488.97 481.5,488.97 481.75,488.97 482,488.98 482.25,488.98 482.5,488.98 482.75,488.98 483,488.98 483.25,488.98 483.5,488.98 483.75,488.98 484,488.98 484.25,488.98 484.5,488.98 484.75,488.98 485,488.98 485.25,488.98 485.5,488.98 485.75,488.98 486,488.98 486.25,488.98 486.5,488.98 486.75,488.98 487,488.98 487.25,488.98 487.5,488.98 487.75,488.98 488,488.98 488.25,488.98 488.5,488.98 488.75,488.98 489,488.98 489.25,488.98 489.5,488.98 489.75,488.98 490,488.98 490.25,488.98 490.5,488.98 490.75,488.98 491,488.98 491.25,488.98 491.5,488.98 491.75,488.98 492,488.98 492.25,488.98 492.5,488.98 492.75,488.98 493,488.98 493.25,488.98 493.5,488.98 493.75,488.98 494,488.98 494.25,488.98 494.5,488.98 494.75,488.98 495,488.98 495.25,488.98 495.5,488.98 495.75,488.98 496,488.98 496.25,488.98 496.5,488.98 496.75,488.98 497,488.98 497.25,488.98 497.5,488.98 497.75,488.98 498,488.98 498.25,488.98 498.5,488.98 498.75,488.98 499,488.98 499.25,488.98 499.5,488.98 499.75,488.98 500,488.98 500.25,488.98 500.5,488.98 500.75,488.98 501,488.98 501.25,488.98 501.5,488.98 501.75,488.98 502,488.98 502.25,488.98 502.5,488.98 502.75,488.98 503,488.98 503.25,488.98 503.5,488.98 503.75,488.98 504,488.98 504.25,488.98 504.5,488.98 504.75,488.98 505,488.98 505.25,488.98 505.5,488.98 505.75,488.98 506,488.98 506.25,488.98 506.5,488.98 506.75,488.98 507,488.98 507.25,488.98 507.5,488.98 507.75,488.98 508,488.98 508.25,488.98 508.5,488.98 508.75,488.98 509,488.98 509.25,488.98 509.5,488.98 509.75,488.98 510,488.98 510.25,488.98 510.5,488.98 510.75,488.98 511,488.98 511.25,488.98 511.5,488.98 511.75,488.98 512,488.98 512.25,488.98 512.5,488.98 512.75,488.98 513,488.98 513.25,488.98 513.5,488.98 513.75,488.98 514,488.98 514.25,488.98 514.5,488.98 514.75,488.98 515,488.98 515.25,488.98 515.5,488.98 515.75,488.98 516,488.98 516.25,488.98 516.5,488.98 516.75,488.98 517,488.98 517.25,488.98 517.5,488.98 517.75,488.98 518,488.98 518.25,488.98 518.5,488.98 518.75,488.98 519,488.98 519.25,488.98 519.5,488.98 519.75,488.98 520,488.98 520.25,488.98 520.5,488.98 520.75,488.98 521,488.98 521.25,488.98 521.5,488.98 521.75,488.98 522,488.98 522.25,488.98 522.5,488.98 522.75,488.98 523,488.98 523.25,488.98 523.5,488.98 523.75,488.98 524,488.98 524.25,488.98 524.5,488.98 524.75,488.98 525,488.98 525.25,488.98 525.5,488.98 525.75,488.98 526,488.98 526.25,488.98 526.5,488.98 526.75,488.98 527,488.98 527.25,488.98 527.5,488.98 527.75,488.98 528,488.98 528.25,488.98 528.5,488.98 528.75,488.98 529,488.98 529.25,488.98 529.5,488.98 529.75,488.98 530,488.98 530.25,488.98 530.5,488.98 530.75,488.98 531,488.97 531.25,488.97 531.5,488.97 531.75,488.97 532,488.97 532.25,488.97 532.5,488.97 532.75,488.97 533,488.97 533.25,488.97 533.5,488.97 533.75,488.97 534,488.97 534.25,488.97 534.5,488.97 534.75,488.97 535,488.97 535.25,488.97 535.5,488.97 535.75,488.97 536,488.97 536.25,488.97 536.5,488.97 536.75,488.97 537,488.97 537.25,488.96 537.5,488.96 537.75,488.96 538,488.96 538.25,488.96 538.5,488.96 538.75,488.96 539,488.96 539.25,488.96 539.5,488.96 539.75,488.96 540,488.96 540.25,488.96 540.5,488.95 540.75,488.95 541,488.95 541.25,488.95 541.5,488.95 541.75,488.95 542,488.95 542.25,488.95 542.5,488.94 542.75,488.94 543,488.94 543.25,488.94 543.5,488.94 543.75,488.93 544,488.93 544.25,488.93 544.5,488.93 544.75,488.92 545,488.92 545.25,488.92 545.5,488.91 545.75,488.91 546,488.91 546.25,488.9 546.5,488.9 546.75,488.89 547,488.89 547.25,488.88 547.5,488.87 547.75,488.87 548,488.86 548.25,488.85 548.5,488.84 548.75,488.83 549,488.81 549.25,488.8 549.5,488.78 549.75,488.76 550,488.74 550.25,488.72 550.5,488.69 550.75,488.65 551,488.59 551.25,488.46 551.5,488.16 551.75,487.58 552,486.67 552.25,485.58 552.5,484.7 552.75,484.47 553,484.99 553.25,486 553.5,487.05 553.75,487.83 554,488.27 554.25,488.48 554.5,488.57 554.75,488.61 555,488.63 555.25,488.65 555.5,488.66 555.75,488.67 556,488.67 556.25,488.66 556.5,488.65 556.75,488.62 557,488.57 557.25,488.49 557.5,488.39 557.75,488.26 558,488.1 558.25,487.91 558.5,487.71 558.75,487.51 559,487.32 559.25,487.17 559.5,487.08 559.75,487.05 560,487.09 560.25,487.18 560.5,487.33 560.75,487.5 561,487.68 561.25,487.85 561.5,488.01 561.75,488.13 562,488.22 562.25,488.28 562.5,488.31 562.75,488.31 563,488.29 563.25,488.26 563.5,488.21 563.75,488.14 564,488.07 564.25,487.98 564.5,487.88 564.75,487.75 565,487.51 565.25,486.96 565.5,485.65 565.75,483.01 566,478.91 566.25,474.37 566.5,471.44 566.75,471.79 567,475.21 567.25,479.8 567.5,483.64 567.75,485.97 568,487.08 568.25,487.53 568.5,487.72 568.75,487.84 569,487.93 569.25,488 569.5,488.06 569.75,488.11 570,488.15 570.25,488.18 570.5,488.21 570.75,488.22 571,488.22 571.25,488.21 571.5,488.18 571.75,488.07 572,487.74 572.25,486.94 572.5,485.55 572.75,483.88 573,482.76 573.25,482.91 573.5,484.25 573.75,485.95 574,487.26 574.25,487.97 574.5,488.28 574.75,488.4 575,488.47 575.25,488.51 575.5,488.56 575.75,488.59 576,488.62 576.25,488.65 576.5,488.68 576.75,488.7 577,488.72 577.25,488.74 577.5,488.76 577.75,488.78 578,488.79 578.25,488.8 578.5,488.81 578.75,488.82 579,488.83 579.25,488.84 579.5,488.85 579.75,488.86 580,488.86 580.25,488.87 580.5,488.87 580.75,488.88 581,488.88 581.25,488.89 581.5,488.89 581.75,488.9 582,488.9 582.25,488.9 582.5,488.91 582.75,488.91 583,488.91 583.25,488.92 583.5,488.92 583.75,488.92 584,488.92 584.25,488.93 584.5,488.93 584.75,488.93 585,488.93 585.25,488.93 585.5,488.93 585.75,488.94 586,488.94 586.25,488.94 586.5,488.94 586.75,488.94 587,488.94 587.25,488.94 587.5,488.95 587.75,488.95 588,488.95 588.25,488.95 588.5,488.95 588.75,488.95 589,488.95 589.25,488.95 589.5,488.95 589.75,488.95 590,488.95 590.25,488.95 590.5,488.96 590.75,488.96 591,488.96 591.25,488.96 591.5,488.96 591.75,488.96 592,488.96 592.25,488.96 592.5,488.96 592.75,488.96 593,488.96 593.25,488.96 593.5,488.96 593.75,488.96 594,488.96 594.25,488.96 594.5,488.96 594.75,488.96 595,488.96 595.25,488.96 595.5,488.96 595.75,488.96 596,488.97 596.25,488.97 596.5,488.97 596.75,488.97 597,488.97 597.25,488.97 597.5,488.97 597.75,488.97 598,488.97 598.25,488.97 598.5,488.97 598.75,488.97 599,488.97 599.25,488.97 599.5,488.97 599.75,488.97 600,488.97 600.25,488.97 600.5,488.97 600.75,488.97 601,488.97 601.25,488.97 601.5,488.97 601.75,488.97 602,488.97 602.25,488.97 602.5,488.97 602.75,488.97 603,488.97 603.25,488.97 603.5,488.97 603.75,488.97 604,488.97 604.25,488.97 604.5,488.97 604.75,488.97 605,488.97 605.25,488.97 605.5,488.97 605.75,488.97 606,488.97 606.25,488.97 606.5,488.97 606.75,488.97 607,488.97 607.25,488.97 607.5,488.97 607.75,488.97 608,488.97 608.25,488.97 608.5,488.97 608.75,488.97 609,488.97 609.25,488.97 609.5,488.97 609.75,488.97 610,488.97 610.25,488.96 610.5,488.96 610.75,488.96 611,488.96 611.25,488.96 611.5,488.96 611.75,488.96 612,488.96 612.25,488.96 612.5,488.96 612.75,488.96 613,488.96 613.25,488.96 613.5,488.96 613.75,488.96 614,488.96 614.25,488.96 614.5,488.96 614.75,488.96 615,488.96 615.25,488.96 615.5,488.95 615.75,488.95 616,488.95 616.25,488.95 616.5,488.95 616.75,488.95 617,488.95 617.25,488.95 617.5,488.95 617.75,488.95 618,488.95 618.25,488.94 618.5,488.94 618.75,488.94 619,488.94 619.25,488.94 619.5,488.94 619.75,488.94 620,488.93 620.25,488.93 620.5,488.93 620.75,488.93 621,488.93 621.25,488.92 621.5,488.92 621.75,488.92 622,488.92 622.25,488.91 622.5,488.91 622.75,488.9 623,488.9 623.25,488.89 623.5,488.89 623.75,488.88 624,488.87 624.25,488.86 624.5,488.85 624.75,488.84 625,488.82 625.25,488.81 625.5,488.79 625.75,488.76 626,488.74 626.25,488.71 626.5,488.67 626.75,488.64 627,488.59 627.25,488.54 627.5,488.47 627.75,488.38 628,488.24 628.25,488.01 628.5,487.66 628.75,487.18 629,486.61 629.25,486.03 629.5,485.61 629.75,485.44 630,485.58 630.25,485.94 630.5,486.39 630.75,486.8 631,487.1 631.25,487.28 631.5,487.36 631.75,487.38 632,487.37 632.25,487.36 632.5,487.35 632.75,487.35 633,487.35 633.25,487.36 633.5,487.39 633.75,487.42 634,487.46 634.25,487.5 634.5,487.56 634.75,487.62 635,487.68 635.25,487.75 635.5,487.83 635.75,487.9 636,487.98 636.25,488.05 636.5,488.13 636.75,488.2 637,488.27 637.25,488.33 637.5,488.4 637.75,488.46 638,488.51 638.25,488.56 638.5,488.61 638.75,488.65 639,488.68 639.25,488.72 639.5,488.75 639.75,488.77 640,488.79 640.25,488.81 640.5,488.83 640.75,488.85 641,488.86 641.25,488.87 641.5,488.88 641.75,488.88 642,488.89 642.25,488.9 642.5,488.9 642.75,488.9 643,488.91 643.25,488.91 643.5,488.91 643.75,488.92 644,488.92 644.25,488.92 644.5,488.92 644.75,488.92 645,488.92 645.25,488.92 645.5,488.92 645.75,488.93 646,488.93 646.25,488.93 646.5,488.93 646.75,488.93 647,488.93 647.25,488.93 647.5,488.93 647.75,488.93 648,488.93 648.25,488.93 648.5,488.93 648.75,488.93 649,488.93 649.25,488.93 649.5,488.93 649.75,488.93 650,488.93 650.25,488.93 650.5,488.93 650.75,488.93 651,488.93 651.25,488.93 651.5,488.93 651.75,488.93 652,488.93 652.25,488.93 652.5,488.93 652.75,488.93 653,488.93 653.25,488.93 653.5,488.93 653.75,488.93 654,488.93 654.25,488.92 654.5,488.92 654.75,488.92 655,488.92 655.25,488.92 655.5,488.92 655.75,488.92 656,488.92 656.25,488.92 656.5,488.92 656.75,488.92 657,488.91 657.25,488.91 657.5,488.91 657.75,488.91 658,488.91 658.25,488.91 658.5,488.91 658.75,488.9 659,488.9 659.25,488.9 659.5,488.9 659.75,488.9 660,488.89 660.25,488.89 660.5,488.89 660.75,488.89 661,488.89 661.25,488.88 661.5,488.88 661.75,488.88 662,488.87 662.25,488.87 662.5,488.87 662.75,488.87 663,488.86 663.25,488.86 663.5,488.85 663.75,488.85 664,488.85 664.25,488.84 664.5,488.84 664.75,488.83 665,488.83 665.25,488.82 665.5,488.82 665.75,488.81 666,488.8 666.25,488.8 666.5,488.79 666.75,488.78 667,488.77 667.25,488.77 667.5,488.76 667.75,488.75 668,488.74 668.25,488.73 668.5,488.71 668.75,488.7 669,488.69 669.25,488.67 669.5,488.66 669.75,488.64 670,488.62 670.25,488.6 670.5,488.58 670.75,488.56 671,488.54 671.25,488.51 671.5,488.48 671.75,488.45 672,488.41 672.25,488.38 672.5,488.33 672.75,488.29 673,488.24 673.25,488.18 673.5,488.12 673.75,488.05 674,487.97 674.25,487.89 674.5,487.79 674.75,487.68 675,487.56 675.25,487.42 675.5,487.26 675.75,487.08 676,486.88 676.25,486.66 676.5,486.4 676.75,486.08 677,485.64 677.25,484.83 677.5,483.11 677.75,479.44 678,472.65 678.25,462.28 678.5,449.93 678.75,439.49 679,435.35 679.25,439.48 679.5,449.93 679.75,462.28 680,472.65 680.25,479.44 680.5,483.1 680.75,484.83 681,485.63 681.25,486.08 681.5,486.39 681.75,486.65 682,486.87 682.25,487.07 682.5,487.25 682.75,487.41 683,487.54 683.25,487.67 683.5,487.78 683.75,487.87 684,487.96 684.25,488.03 684.5,488.1 684.75,488.16 685,488.22 685.25,488.27 685.5,488.31 685.75,488.35 686,488.39 686.25,488.42 686.5,488.45 686.75,488.48 687,488.51 687.25,488.53 687.5,488.55 687.75,488.57 688,488.59 688.25,488.61 688.5,488.62 688.75,488.63 689,488.65 689.25,488.66 689.5,488.67 689.75,488.68 690,488.69 690.25,488.7 690.5,488.7 690.75,488.71 691,488.72 691.25,488.72 691.5,488.73 691.75,488.73 692,488.73 692.25,488.74 692.5,488.74 692.75,488.74 693,488.74 693.25,488.75 693.5,488.75 693.75,488.75 694,488.75 694.25,488.75 694.5,488.74 694.75,488.74 695,488.74 695.25,488.74 695.5,488.73 695.75,488.73 696,488.72 696.25,488.72 696.5,488.71 696.75,488.7 697,488.69 697.25,488.68 697.5,488.67 697.75,488.66 698,488.65 698.25,488.63 698.5,488.61 698.75,488.59 699,488.57 699.25,488.55 699.5,488.52 699.75,488.49 700,488.46 700.25,488.42 700.5,488.38 700.75,488.33 701,488.27 701.25,488.21 701.5,488.14 701.75,488.06 702,487.97 702.25,487.86 702.5,487.75 702.75,487.61 703,487.43 703.25,487.13 703.5,486.53 703.75,485.2 704,482.59 704.25,478.24 704.5,472.49 704.75,466.81 705,463.38 705.25,463.79 705.5,467.84 705.75,473.7 706,479.26 706.25,483.25 706.5,485.56 706.75,486.7 707,487.22 707.25,487.49 707.5,487.66 707.75,487.79 708,487.91 708.25,488.01 708.5,488.1 708.75,488.18 709,488.25 709.25,488.31 709.5,488.37 709.75,488.42 710,488.46 710.25,488.5 710.5,488.54 710.75,488.57 711,488.6 711.25,488.63 711.5,488.65 711.75,488.67 712,488.69 712.25,488.71 712.5,488.72 712.75,488.74 713,488.75 713.25,488.76 713.5,488.78 713.75,488.79 714,488.8 714.25,488.81 714.5,488.81 714.75,488.82 715,488.83 715.25,488.84 715.5,488.84 715.75,488.85 716,488.85 716.25,488.86 716.5,488.87 716.75,488.87 717,488.87 717.25,488.88 717.5,488.88 717.75,488.89 718,488.89 718.25,488.89 718.5,488.9 718.75,488.9 719,488.9 719.25,488.91 719.5,488.91 719.75,488.91 720,488.91 720.25,488.92 720.5,488.92 720.75,488.92 721,488.92 721.25,488.92 721.5,488.93 721.75,488.93 722,488.93 722.25,488.93 722.5,488.93 722.75,488.93 723,488.94 723.25,488.94 723.5,488.94 723.75,488.94 724,488.94 724.25,488.94 724.5,488.94 724.75,488.94 725,488.95 725.25,488.95 725.5,488.95 725.75,488.95 726,488.95 726.25,488.95 726.5,488.95 726.75,488.95 727,488.95 727.25,488.95 727.5,488.96 727.75,488.96 728,488.96 728.25,488.96 728.5,488.96 728.75,488.96 729,488.96 729.25,488.96 729.5,488.96 729.75,488.96 730,488.96 730.25,488.96 730.5,488.96 730.75,488.96 731,488.96 731.25,488.96 731.5,488.97 731.75,488.97 732,488.97 732.25,488.97 732.5,488.97 732.75,488.97 733,488.97 733.25,488.97 733.5,488.97 733.75,488.97 734,488.97 734.25,488.97 734.5,488.97 734.75,488.97 735,488.97 735.25,488.97 735.5,488.97 735.75,488.97 736,488.97 736.25,488.97 736.5,488.97 736.75,488.97 737,488.97 737.25,488.97 737.5,488.97 737.75,488.97 738,488.98 738.25,488.98 738.5,488.98 738.75,488.98 739,488.98 739.25,488.98 739.5,488.98 739.75,488.98 740,488.98 740.25,488.98 740.5,488.98 740.75,488.98 741,488.98 741.25,488.98 741.5,488.98 741.75,488.98 742,488.98 742.25,488.98 742.5,488.98 742.75,488.98 743,488.98 743.25,488.98 743.5,488.98 743.75,488.98 744,488.98 744.25,488.98 744.5,488.98 744.75,488.98 745,488.98 745.25,488.98 745.5,488.98 745.75,488.98 746,488.98 746.25,488.98 746.5,488.98 746.75,488.98 747,488.98 747.25,488.98 747.5,488.98 747.75,488.98 748,488.98 748.25,488.98 748.5,488.98 748.75,488.98 749,488.98 749.25,488.98 749.5,488.98 749.75,488.98 750,488.98 750.25,488.98 750.5,488.98 750.75,488.98 751,488.99 751.25,488.99 751.5,488.99 751.75,488.99 752,488.99 752.25,488.99 752.5,488.99 752.75,488.99 753,488.99 753.25,488.99 753.5,488.99 753.75,488.99 754,488.99 754.25,488.99 754.5,488.99 754.75,488.99 755,488.99 755.25,488.99 755.5,488.99 755.75,488.99 756,488.99 756.25,488.99 756.5,488.99 756.75,488.99 757,488.99 757.25,488.99 757.5,488.99 757.75,488.99 758,488.99 758.25,488.99 758.5,488.99 758.75,488.99 759,488.99 759.25,488.99 759.5,488.99 759.75,488.99 760,488.99 760.25,488.99 760.5,488.99 760.75,488.99 761,488.99 761.25,488.99 761.5,488.99 761.75,488.99 762,488.99 762.25,488.99 762.5,488.99 762.75,488.99 763,488.99 763.25,488.99 763.5,488.99 763.75,488.99 764,488.99 764.25,488.99 764.5,488.99 764.75,488.99 765,488.99 765.25,488.99 765.5,488.99 765.75,488.99 766,488.99 766.25,488.99 766.5,488.99 766.75,488.99 767,488.99 767.25,488.99 767.5,488.99 767.75,488.99 768,488.99 768.25,488.99 768.5,488.99 768.75,488.99 769,488.99 769.25,488.99 769.5,488.99 769.75,488.99 770,488.99 770.25,488.99 770.5,488.99 770.75,488.99 771,488.99 771.25,488.99 771.5,488.99 771.75,488.99 772,488.99 772.25,488.99 772.5,488.99 772.75,488.99 773,488.99 773.25,488.99 773.5,488.99 773.75,488.99 774,488.99 774.25,488.99 774.5,488.99 774.75,488.99 775,488.99 775.25,488.99 775.5,488.99 775.75,488.99 776,488.99 776.25,488.99 776.5,488.99 776.75,488.99 777,488.99 777.25,488.99 777.5,488.99 777.75,488.99 778,488.99 778.25,488.99 778.5,488.99 778.75,488.99 779,488.99 779.25,488.99 779.5,488.99 779.75,488.99 780,488.99 780.25,488.99 780.5,488.99 780.75,488.99 781,488.99 781.25,488.99 781.5,488.99 781.75,488.99 782,488.99 782.25,488.99 782.5,488.99 782.75,488.99 783,488.99 783.25,488.99 783.5,488.99 783.75,488.99 784,488.99 784.25,488.99 784.5,488.99 784.75,488.99 785,488.99 785.25,488.99 785.5,488.99 785.75,488.99 786,488.99 786.25,488.99 786.5,488.99 786.75,488.99 787,488.99 787.25,488.99 787.5,488.99 787.75,488.99 788,488.99 788.25,488.99 788.5,488.99 788.75,488.99 789,488.99 789.25,488.99 789.5,488.99 789.75,488.99 790,488.99 790.25,488.99 790.5,488.99 790.75,488.99 791,488.99 791.25,488.99 791.5,488.99 791.75,488.99 792,488.99 792.25,488.99 792.5,488.99 792.75,488.99 793,488.99 793.25,488.99 793.5,488.99 793.75,488.99 794,488.99 794.25,488.99 794.5,488.99 794.75,488.99 795,488.99 795.25,488.99 795.5,488.99 795.75,488.99 796,488.99 796.25,488.99 796.5,488.99 796.75,488.99 797,488.99 797.25,488.99 797.5,488.99 797.75,488.99 798,488.99 798.25,488.99 798.5,488.99 798.75,488.99 799,488.99 799.25,488.99 799.5,488.99 799.75,488.99 800,488.99 800.25,489 800.5,489 800.75,489 801,489 801.25,489 801.5,489 801.75,489 802,489 802.25,489 802.5,489 802.75,489 803,489 803.25,489 803.5,489 803.75,489 804,489 804.25,489 804.5,489 804.75,489 805,489 805.25,489 805.5,489 805.75,489 806,489 806.25,489 806.5,489 806.75,489 807,489 807.25,489 807.5,489 807.75,489 808,489 808.25,489 808.5,489 808.75,489 809,489 809.25,489 809.5,489 809.75,489 810,489 810.25,489 810.5,489 810.75,489 811,489 811.25,489 811.5,489 811.75,489 812,489 812.25,489 812.5,489 812.75,489 813,489 813.25,489 813.5,489 813.75,489 814,489 814.25,489 814.5,489 814.75,489 815,489 815.25,489 815.5,489 815.75,489 816,489 816.25,489 816.5,489 816.75,489 817,489 817.25,489 817.5,489 817.75,489 818,489 818.25,489 818.5,489 818.75,489 819,489 819.25,489 819.5,489 819.75,489 820,489 820.25,489 820.5,489 820.75,489 821,489 821.25,489 821.5,489 821.75,489 822,489 822.25,489 822.5,489 822.75,489 823,489 823.25,489 823.5,489 823.75,489 824,489 824.25,489 824.5,489 824.75,489 825,489 825.25,489 825.5,489 825.75,489 826,489 826.25,489 826.5,489 826.75,489 827,489 827.25,489 827.5,489 827.75,489 828,489 828.25,489 828.5,489 828.75,489 829,489 829.25,489 829.5,489 829.75,489 830,489 830.25,489 830.5,489 830.75,489 831,489 831.25,489 831.5,489 831.75,489 832,489 832.25,489 832.5,489 832.75,489 833,489 833.25,489 833.5,489 833.75,489 834,489 834.25,489 834.5,489 834.75,489 835,489 835.25,489 835.5,489 835.75,489 836,489 836.25,489 836.5,489 836.75,489 837,489 837.25,489 837.5,489 837.75,489 838,489 838.25,489 838.5,489 838.75,489 839,489 839.25,489 839.5,489 839.75,489 840,489 840.25,489 840.5,489 840.75,489 841,489 841.25,489 841.5,489 841.75,489 842,489 842.25,489 842.5,489 842.75,489 843,489 843.25,489 843.5,489 843.75,489 844,489 844.25,489 844.5,489 844.75,489 845,489 845.25,489 845.5,489 845.75,489 846,489 846.25,489 846.5,489 846.75,489 847,489 847.25,489 847.5,489 847.75,489 848,489 848.25,489 848.5,489 848.75,489 849,489 849.25,489 849.5,489 849.75,489 850,489 850.25,489 850.5,489 850.75,489 851,489 851.25,489 851.5,489 851.75,489 852,489 852.25,489 852.5,489 852.75,489 853,489 853.25,489 853.5,489 853.75,489 854,489 854.25,489 854.5,489 854.75,489 855,489 855.25,489 855.5,489 855.75,489 856,489" fill="none" stroke="#2f9a3c" stroke-width="1.5" stroke-linejoin="round"/>
<line x1="98.5" y1="489.5" x2="856.5" y2="489.5" stroke="#222" stroke-width="1.2"/>
<line x1="212.5" y1="490.2" x2="212.5" y2="497.3" stroke="#86c28c" stroke-width="1"/>
<line x1="297.5" y1="490.2" x2="297.5" y2="497.3" stroke="#86c28c" stroke-width="1"/>
<line x1="304.5" y1="490.2" x2="304.5" y2="523.3" stroke="#86c28c" stroke-width="1"/>
<line x1="426.5" y1="490.2" x2="426.5" y2="497.3" stroke="#86c28c" stroke-width="1"/>
<line x1="440.5" y1="490.2" x2="440.5" y2="523.3" stroke="#86c28c" stroke-width="1"/>
<line x1="567.5" y1="490.2" x2="567.5" y2="497.3" stroke="#86c28c" stroke-width="1"/>
<line x1="573.5" y1="490.2" x2="573.5" y2="523.3" stroke="#86c28c" stroke-width="1"/>
<line x1="679.5" y1="490.2" x2="679.5" y2="497.3" stroke="#86c28c" stroke-width="1"/>
<line x1="705.5" y1="490.2" x2="705.5" y2="497.3" stroke="#86c28c" stroke-width="1"/>
<rect x="202.5" y="496.5" width="21" height="20" fill="#fff" stroke="#86c28c" stroke-width="1"/>
<text x="213" y="513.4" text-anchor="middle" font-family="'Liberation Serif', 'Times New Roman', serif" font-size="15" fill="#111">15</text>
<rect x="286.5" y="496.5" width="22" height="20" fill="#fff" stroke="#86c28c" stroke-width="1"/>
<text x="297.7" y="513.4" text-anchor="middle" font-family="'Liberation Serif', 'Times New Roman', serif" font-size="15" fill="#111">29</text>
<rect x="293.5" y="522.5" width="22" height="19" fill="#fff" stroke="#86c28c" stroke-width="1"/>
<text x="304.65" y="539.4" text-anchor="middle" font-family="'Liberation Serif', 'Times New Roman', serif" font-size="15" fill="#111">30</text>
<rect x="416.5" y="496.5" width="20" height="20" fill="#fff" stroke="#86c28c" stroke-width="1"/>
<text x="426.65" y="513.4" text-anchor="middle" font-family="'Liberation Serif', 'Times New Roman', serif" font-size="15" fill="#111">11</text>
<rect x="430.5" y="522.5" width="20" height="19" fill="#fff" stroke="#86c28c" stroke-width="1"/>
<text x="440.65" y="539.4" text-anchor="middle" font-family="'Liberation Serif', 'Times New Roman', serif" font-size="15" fill="#111">13</text>
<rect x="556.5" y="496.5" width="22" height="20" fill="#fff" stroke="#86c28c" stroke-width="1"/>
<text x="567.5" y="513.4" text-anchor="middle" font-family="'Liberation Serif', 'Times New Roman', serif" font-size="15" fill="#111">23</text>
<rect x="562.5" y="522.5" width="22" height="19" fill="#fff" stroke="#86c28c" stroke-width="1"/>
<text x="573.9" y="539.4" text-anchor="middle" font-family="'Liberation Serif', 'Times New Roman', serif" font-size="15" fill="#111">24</text>
<rect x="672.5" y="496.5" width="14" height="20" fill="#fff" stroke="#86c28c" stroke-width="1"/>
<text x="679.75" y="513.4" text-anchor="middle" font-family="'Liberation Serif', 'Times New Roman', serif" font-size="15" fill="#111">9</text>
<rect x="695.5" y="496.5" width="21" height="20" fill="#fff" stroke="#86c28c" stroke-width="1"/>
<text x="706.25" y="513.4" text-anchor="middle" font-family="'Liberation Serif', 'Times New Roman', serif" font-size="15" fill="#111">12</text>
<rect x="33.5" y="578.5" width="835" height="211" fill="none" stroke="#4a4a4a" stroke-width="1"/>
<rect x="33.5" y="563.5" width="835" height="15" fill="#fff" stroke="#111" stroke-width="1.5"/>
<line x1="321" y1="564.4" x2="321" y2="578" stroke="#b4b4b4" stroke-width="0.9"/>
<line x1="452.5" y1="564.4" x2="452.5" y2="578" stroke="#b4b4b4" stroke-width="0.9"/>
<line x1="642.5" y1="564.4" x2="642.5" y2="578" stroke="#b4b4b4" stroke-width="0.9"/>
<line x1="722.8" y1="564.4" x2="722.8" y2="578" stroke="#b4b4b4" stroke-width="0.9"/>
<line x1="795.9" y1="564.4" x2="795.9" y2="578" stroke="#b4b4b4" stroke-width="0.9"/>
<text x="37.9" y="575.8" font-family="'Liberation Sans', Arial, sans-serif" font-size="12.06" fill="#111">42<tspan dy="-1.0">_</tspan><tspan dy="1.0">B06</tspan><tspan dy="-1.0">_</tspan><tspan dy="1.0">CellLineAuthentication-1-0907.fsa</tspan></text>
<text x="325.4" y="575.8" font-family="'Liberation Sans', Arial, sans-serif" font-size="12.06" fill="#111">HTR-8-SVneo</text>
<text x="457" y="575.8" font-family="'Liberation Sans', Arial, sans-serif" font-size="12.06" fill="#111">21Plex<tspan dy="-1.0">_</tspan><tspan dy="1.0">STR</tspan><tspan dy="-1.0">_</tspan><tspan dy="1.0">Panel</tspan><tspan dy="-1.0">_</tspan><tspan dy="1.0">v1.1</tspan></text>
<rect x="754" y="565.8" width="10.5" height="10.5" fill="#4caf3c"/>
<rect x="826.8" y="565.8" width="10.5" height="10.5" fill="#4caf3c"/>
<rect x="111.5" y="583.5" width="105" height="17" fill="#c1c1c1" stroke="#555" stroke-width="1"/>
<text x="164.4" y="597.6" text-anchor="middle" font-family="'Liberation Sans', Arial, sans-serif" font-size="11.9" fill="#1a1a1a">D19S433</text>
<rect x="224.5" y="583.5" width="79" height="17" fill="#c1c1c1" stroke="#555" stroke-width="1"/>
<text x="264.05" y="597.6" text-anchor="middle" font-family="'Liberation Sans', Arial, sans-serif" font-size="11.9" fill="#1a1a1a">TH01</text>
<rect x="305.5" y="583.5" width="86" height="17" fill="#c1c1c1" stroke="#555" stroke-width="1"/>
<text x="348.3" y="597.6" text-anchor="middle" font-family="'Liberation Sans', Arial, sans-serif" font-size="11.9" fill="#1a1a1a">D13S317</text>
<rect x="396.5" y="583.5" width="87" height="17" fill="#c1c1c1" stroke="#555" stroke-width="1"/>
<text x="440.05" y="597.6" text-anchor="middle" font-family="'Liberation Sans', Arial, sans-serif" font-size="11.9" fill="#1a1a1a">TPOX</text>
<rect x="490.5" y="583.5" width="146" height="17" fill="#c1c1c1" stroke="#555" stroke-width="1"/>
<text x="563.2" y="597.6" text-anchor="middle" font-family="'Liberation Sans', Arial, sans-serif" font-size="11.9" fill="#1a1a1a">D18S51</text>
<rect x="641.5" y="583.5" width="135" height="17" fill="#c1c1c1" stroke="#555" stroke-width="1"/>
<text x="708.65" y="597.6" text-anchor="middle" font-family="'Liberation Sans', Arial, sans-serif" font-size="11.9" fill="#1a1a1a">D6S1043</text>
<path d="M127.1 622.9V729.8M133.8 622.9V729.8M141 622.9V729.8M144.5 622.9V729.8M148.1 622.9V729.8M151.2 622.9V729.8M154.4 622.9V729.8M161.1 622.9V729.8M163.9 622.9V729.8M167.5 622.9V729.8M171 622.9V729.8M174.6 622.9V729.8M178.1 622.9V729.8M181.7 622.9V729.8M184.9 622.9V729.8M188.2 622.9V729.8M191 622.9V729.8M194.1 622.9V729.8M197.3 622.9V729.8M204.6 622.9V729.8M208.3 622.9V729.8M211.9 622.9V729.8M227.7 622.9V729.8M234.6 622.9V729.8M242 622.9V729.8M248.6 622.9V729.8M255.2 622.9V729.8M262 622.9V729.8M268.7 622.9V729.8M273.8 622.9V729.8M275.2 622.9V729.8M282 622.9V729.8M288.7 622.9V729.8M295.5 622.9V729.8M300.1 622.9V729.8M307.7 622.9V729.8M314.5 622.9V729.8M321.6 622.9V729.8M328.1 622.9V729.8M334.8 622.9V729.8M342 622.9V729.8M348.7 622.9V729.8M355.5 622.9V729.8M362.8 622.9V729.8M375.8 622.9V729.8M382.3 622.9V729.8M389.5 622.9V729.8M398.6 622.9V729.8M405.7 622.9V729.8M413 622.9V729.8M419.7 622.9V729.8M426.5 622.9V729.8M433.3 622.9V729.8M446.9 622.9V729.8M454.2 622.9V729.8M460.9 622.9V729.8M467.7 622.9V729.8M474.8 622.9V729.8M481.6 622.9V729.8M492.1 622.9V729.8M499.9 622.9V729.8M507.8 622.9V729.8M511.35 622.9V729.8M514.89 622.9V729.8M518.44 622.9V729.8M521.98 622.9V729.8M525.53 622.9V729.8M529.08 622.9V729.8M532.62 622.9V729.8M536.17 622.9V729.8M539.71 622.9V729.8M543.26 622.9V729.8M546.81 622.9V729.8M550.35 622.9V729.8M553.9 622.9V729.8M557.44 622.9V729.8M560.99 622.9V729.8M564.54 622.9V729.8M568.08 622.9V729.8M571.63 622.9V729.8M575.17 622.9V729.8M578.72 622.9V729.8M582.27 622.9V729.8M585.81 622.9V729.8M589.36 622.9V729.8M592.9 622.9V729.8M596.45 622.9V729.8M600 622.9V729.8M603.54 622.9V729.8M607.09 622.9V729.8M614.7 622.9V729.8M621.8 622.9V729.8M628.9 622.9V729.8M635.7 622.9V729.8M643.5 622.9V729.8M650.6 622.9V729.8M657.4 622.9V729.8M664.2 622.9V729.8M670.9 622.9V729.8M677.7 622.9V729.8M684.5 622.9V729.8M691.4 622.9V729.8M698.6 622.9V729.8M705.3 622.9V729.8M713.3 622.9V729.8M718.9 622.9V729.8M725.7 622.9V729.8M733 622.9V729.8M739.7 622.9V729.8M744 622.9V729.8M745.5 622.9V729.8M752.8 622.9V729.8" stroke="#cdcdcd" stroke-width="1.3" fill="none"/>
<rect x="98.5" y="622.5" width="758" height="108" fill="none" stroke="#333" stroke-width="1"/>
<text x="165.5" y="616.5" text-anchor="middle" font-family="'Liberation Sans', Arial, sans-serif" font-size="10" fill="#111">120</text>
<text x="302.5" y="616.5" text-anchor="middle" font-family="'Liberation Sans', Arial, sans-serif" font-size="10" fill="#111">200</text>
<text x="439.5" y="616.5" text-anchor="middle" font-family="'Liberation Sans', Arial, sans-serif" font-size="10" fill="#111">280</text>
<text x="576.5" y="616.5" text-anchor="middle" font-family="'Liberation Sans', Arial, sans-serif" font-size="10" fill="#111">360</text>
<text x="713.5" y="616.5" text-anchor="middle" font-family="'Liberation Sans', Arial, sans-serif" font-size="10" fill="#111">440</text>
<text x="850.5" y="616.5" text-anchor="middle" font-family="'Liberation Sans', Arial, sans-serif" font-size="10" fill="#111">520</text>
<text x="93.6" y="733.8" text-anchor="end" font-family="'Liberation Sans', Arial, sans-serif" font-size="10" fill="#111">0</text>
<text x="93.6" y="704.66" text-anchor="end" font-family="'Liberation Sans', Arial, sans-serif" font-size="10" fill="#111">1400</text>
<text x="93.6" y="675.52" text-anchor="end" font-family="'Liberation Sans', Arial, sans-serif" font-size="10" fill="#111">2800</text>
<text x="93.6" y="646.38" text-anchor="end" font-family="'Liberation Sans', Arial, sans-serif" font-size="10" fill="#111">4200</text>
<path d="M165.5 619.1V625.5M233.5 619.1V625.5M302.5 619.1V625.5M370.5 619.1V625.5M439.5 619.1V625.5M507.5 619.1V625.5M576.5 619.1V625.5M644.5 619.1V625.5M713.5 619.1V625.5M781.5 619.1V625.5M850.5 619.1V625.5M95.4 730.5H101.8M95.4 715.5H101.8M95.4 701.5H101.8M95.4 686.5H101.8M95.4 671.5H101.8M95.4 657.5H101.8M95.4 642.5H101.8M95.4 628.5H101.8" stroke="#555" stroke-width="1" fill="none"/>
<polyline points="99,729.5 99.25,729.5 99.5,729.5 99.75,729.5 100,729.5 100.25,729.5 100.5,729.5 100.75,729.5 101,729.5 101.25,729.5 101.5,729.5 101.75,729.5 102,729.5 102.25,729.5 102.5,729.5 102.75,729.5 103,729.5 103.25,729.5 103.5,729.5 103.75,729.5 104,729.5 104.25,729.5 104.5,729.5 104.75,729.5 105,729.5 105.25,729.5 105.5,729.5 105.75,729.5 106,729.5 106.25,729.5 106.5,729.5 106.75,729.5 107,729.5 107.25,729.5 107.5,729.5 107.75,729.5 108,729.5 108.25,729.5 108.5,729.5 108.75,729.5 109,729.5 109.25,729.5 109.5,729.5 109.75,729.5 110,729.49 110.25,729.49 110.5,729.49 110.75,729.49 111,729.49 111.25,729.49 111.5,729.49 111.75,729.49 112,729.49 112.25,729.49 112.5,729.49 112.75,729.49 113,729.49 113.25,729.49 113.5,729.49 113.75,729.49 114,729.49 114.25,729.49 114.5,729.49 114.75,729.49 115,729.49 115.25,729.49 115.5,729.49 115.75,729.49 116,729.49 116.25,729.49 116.5,729.49 116.75,729.49 117,729.49 117.25,729.49 117.5,729.49 117.75,729.49 118,729.49 118.25,729.49 118.5,729.49 118.75,729.49 119,729.49 119.25,729.49 119.5,729.49 119.75,729.49 120,729.49 120.25,729.49 120.5,729.49 120.75,729.49 121,729.49 121.25,729.49 121.5,729.49 121.75,729.49 122,729.49 122.25,729.49 122.5,729.49 122.75,729.49 123,729.49 123.25,729.49 123.5,729.49 123.75,729.49 124,729.49 124.25,729.49 124.5,729.49 124.75,729.49 125,729.49 125.25,729.49 125.5,729.49 125.75,729.49 126,729.49 126.25,729.49 126.5,729.49 126.75,729.49 127,729.49 127.25,729.48 127.5,729.48 127.75,729.48 128,729.48 128.25,729.48 128.5,729.48 128.75,729.48 129,729.48 129.25,729.48 129.5,729.48 129.75,729.48 130,729.48 130.25,729.48 130.5,729.48 130.75,729.48 131,729.48 131.25,729.48 131.5,729.47 131.75,729.47 132,729.47 132.25,729.47 132.5,729.47 132.75,729.47 133,729.47 133.25,729.46 133.5,729.46 133.75,729.46 134,729.45 134.25,729.44 134.5,729.44 134.75,729.43 135,729.42 135.25,729.41 135.5,729.39 135.75,729.38 136,729.36 136.25,729.33 136.5,729.31 136.75,729.28 137,729.24 137.25,729.21 137.5,729.17 137.75,729.12 138,729.08 138.25,729.03 138.5,728.98 138.75,728.93 139,728.89 139.25,728.84 139.5,728.8 139.75,728.76 140,728.72 140.25,728.69 140.5,728.67 140.75,728.66 141,728.65 141.25,728.65 141.5,728.66 141.75,728.68 142,728.7 142.25,728.73 142.5,728.77 142.75,728.81 143,728.85 143.25,728.9 143.5,728.94 143.75,728.99 144,729.04 144.25,729.09 144.5,729.13 144.75,729.17 145,729.21 145.25,729.25 145.5,729.28 145.75,729.31 146,729.33 146.25,729.36 146.5,729.38 146.75,729.39 147,729.41 147.25,729.42 147.5,729.43 147.75,729.44 148,729.44 148.25,729.45 148.5,729.45 148.75,729.46 149,729.46 149.25,729.46 149.5,729.46 149.75,729.47 150,729.47 150.25,729.47 150.5,729.47 150.75,729.47 151,729.47 151.25,729.47 151.5,729.47 151.75,729.47 152,729.47 152.25,729.47 152.5,729.47 152.75,729.47 153,729.48 153.25,729.48 153.5,729.48 153.75,729.48 154,729.48 154.25,729.48 154.5,729.48 154.75,729.48 155,729.48 155.25,729.48 155.5,729.48 155.75,729.48 156,729.48 156.25,729.48 156.5,729.48 156.75,729.48 157,729.48 157.25,729.48 157.5,729.48 157.75,729.48 158,729.48 158.25,729.48 158.5,729.48 158.75,729.48 159,729.48 159.25,729.48 159.5,729.48 159.75,729.48 160,729.48 160.25,729.48 160.5,729.48 160.75,729.48 161,729.48 161.25,729.47 161.5,729.47 161.75,729.47 162,729.47 162.25,729.47 162.5,729.47 162.75,729.47 163,729.47 163.25,729.47 163.5,729.47 163.75,729.47 164,729.47 164.25,729.47 164.5,729.47 164.75,729.47 165,729.46 165.25,729.46 165.5,729.46 165.75,729.46 166,729.46 166.25,729.46 166.5,729.46 166.75,729.45 167,729.45 167.25,729.45 167.5,729.45 167.75,729.45 168,729.44 168.25,729.44 168.5,729.44 168.75,729.43 169,729.43 169.25,729.42 169.5,729.42 169.75,729.41 170,729.4 170.25,729.39 170.5,729.38 170.75,729.37 171,729.36 171.25,729.34 171.5,729.33 171.75,729.3 172,729.28 172.25,729.24 172.5,729.17 172.75,729.01 173,728.62 173.25,727.8 173.5,726.36 173.75,724.42 174,722.55 174.25,721.58 174.5,722.01 174.75,723.6 175,725.6 175.25,727.27 175.5,728.32 175.75,728.84 176,729.06 176.25,729.14 176.5,729.17 176.75,729.19 177,729.2 177.25,729.2 177.5,729.19 177.75,729.18 178,729.16 178.25,729.13 178.5,729.09 178.75,729.04 179,728.95 179.25,728.74 179.5,728.23 179.75,727.04 180,724.78 180.25,721.38 180.5,717.57 180.75,714.85 181,714.58 181.25,716.89 181.5,720.62 181.75,724.2 182,726.71 182.25,728.08 182.5,728.7 182.75,728.96 183,729.07 183.25,729.14 183.5,729.18 183.75,729.22 184,729.25 184.25,729.28 184.5,729.3 184.75,729.32 185,729.34 185.25,729.35 185.5,729.36 185.75,729.37 186,729.38 186.25,729.39 186.5,729.4 186.75,729.41 187,729.41 187.25,729.42 187.5,729.42 187.75,729.43 188,729.43 188.25,729.43 188.5,729.44 188.75,729.44 189,729.44 189.25,729.44 189.5,729.45 189.75,729.45 190,729.45 190.25,729.45 190.5,729.45 190.75,729.45 191,729.45 191.25,729.46 191.5,729.46 191.75,729.46 192,729.46 192.25,729.46 192.5,729.46 192.75,729.46 193,729.46 193.25,729.46 193.5,729.46 193.75,729.46 194,729.46 194.25,729.46 194.5,729.46 194.75,729.46 195,729.46 195.25,729.46 195.5,729.46 195.75,729.46 196,729.46 196.25,729.46 196.5,729.46 196.75,729.46 197,729.46 197.25,729.46 197.5,729.46 197.75,729.46 198,729.46 198.25,729.46 198.5,729.46 198.75,729.46 199,729.46 199.25,729.46 199.5,729.46 199.75,729.46 200,729.46 200.25,729.46 200.5,729.46 200.75,729.46 201,729.46 201.25,729.46 201.5,729.46 201.75,729.45 202,729.45 202.25,729.45 202.5,729.45 202.75,729.45 203,729.45 203.25,729.45 203.5,729.45 203.75,729.44 204,729.44 204.25,729.44 204.5,729.44 204.75,729.43 205,729.43 205.25,729.43 205.5,729.42 205.75,729.42 206,729.41 206.25,729.41 206.5,729.4 206.75,729.39 207,729.38 207.25,729.37 207.5,729.36 207.75,729.35 208,729.33 208.25,729.31 208.5,729.28 208.75,729.24 209,729.18 209.25,729.11 209.5,729.01 209.75,728.87 210,728.69 210.25,728.47 210.5,728.2 210.75,727.89 211,727.56 211.25,727.23 211.5,726.92 211.75,726.68 212,726.51 212.25,726.44 212.5,726.48 212.75,726.61 213,726.81 213.25,727.06 213.5,727.34 213.75,727.6 214,727.85 214.25,728.06 214.5,728.22 214.75,728.35 215,728.45 215.25,728.52 215.5,728.58 215.75,728.62 216,728.66 216.25,728.69 216.5,728.73 216.75,728.76 217,728.8 217.25,728.84 217.5,728.88 217.75,728.92 218,728.96 218.25,729 218.5,729.04 218.75,729.07 219,729.11 219.25,729.14 219.5,729.18 219.75,729.21 220,729.23 220.25,729.26 220.5,729.28 220.75,729.3 221,729.32 221.25,729.34 221.5,729.35 221.75,729.37 222,729.38 222.25,729.39 222.5,729.4 222.75,729.4 223,729.41 223.25,729.42 223.5,729.42 223.75,729.42 224,729.43 224.25,729.43 224.5,729.43 224.75,729.43 225,729.43 225.25,729.43 225.5,729.44 225.75,729.44 226,729.44 226.25,729.44 226.5,729.44 226.75,729.44 227,729.44 227.25,729.43 227.5,729.43 227.75,729.43 228,729.43 228.25,729.43 228.5,729.42 228.75,729.42 229,729.41 229.25,729.41 229.5,729.4 229.75,729.38 230,729.37 230.25,729.35 230.5,729.32 230.75,729.29 231,729.26 231.25,729.22 231.5,729.17 231.75,729.11 232,729.05 232.25,728.99 232.5,728.92 232.75,728.84 233,728.77 233.25,728.7 233.5,728.63 233.75,728.57 234,728.52 234.25,728.49 234.5,728.46 234.75,728.45 235,728.45 235.25,728.47 235.5,728.51 235.75,728.55 236,728.6 236.25,728.67 236.5,728.74 236.75,728.81 237,728.88 237.25,728.95 237.5,729.02 237.75,729.08 238,729.13 238.25,729.18 238.5,729.23 238.75,729.26 239,729.3 239.25,729.32 239.5,729.34 239.75,729.36 240,729.37 240.25,729.38 240.5,729.38 240.75,729.39 241,729.39 241.25,729.39 241.5,729.39 241.75,729.39 242,729.39 242.25,729.38 242.5,729.38 242.75,729.37 243,729.37 243.25,729.36 243.5,729.35 243.75,729.34 244,729.33 244.25,729.32 244.5,729.31 244.75,729.29 245,729.27 245.25,729.25 245.5,729.22 245.75,729.18 246,729.14 246.25,729.09 246.5,729.03 246.75,728.93 247,728.72 247.25,728.2 247.5,727 247.75,724.62 248,720.84 248.25,716.31 248.5,712.69 248.75,711.72 249,713.91 249.25,718.12 249.5,722.5 249.75,725.74 250,727.6 250.25,728.47 250.5,728.83 250.75,728.98 251,729.06 251.25,729.12 251.5,729.16 251.75,729.2 252,729.23 252.25,729.26 252.5,729.28 252.75,729.3 253,729.32 253.25,729.33 253.5,729.34 253.75,729.36 254,729.36 254.25,729.37 254.5,729.38 254.75,729.39 255,729.39 255.25,729.4 255.5,729.4 255.75,729.4 256,729.41 256.25,729.41 256.5,729.41 256.75,729.42 257,729.42 257.25,729.42 257.5,729.42 257.75,729.42 258,729.42 258.25,729.43 258.5,729.43 258.75,729.43 259,729.43 259.25,729.43 259.5,729.43 259.75,729.43 260,729.43 260.25,729.43 260.5,729.43 260.75,729.43 261,729.42 261.25,729.42 261.5,729.42 261.75,729.42 262,729.42 262.25,729.42 262.5,729.42 262.75,729.42 263,729.41 263.25,729.41 263.5,729.41 263.75,729.41 264,729.4 264.25,729.4 264.5,729.39 264.75,729.39 265,729.39 265.25,729.38 265.5,729.38 265.75,729.37 266,729.36 266.25,729.36 266.5,729.35 266.75,729.34 267,729.33 267.25,729.32 267.5,729.31 267.75,729.29 268,729.28 268.25,729.26 268.5,729.24 268.75,729.22 269,729.19 269.25,729.16 269.5,729.13 269.75,729.09 270,729.05 270.25,728.99 270.5,728.93 270.75,728.86 271,728.77 271.25,728.66 271.5,728.51 271.75,728.28 272,727.8 272.25,726.69 272.5,724.18 272.75,719.31 273,711.52 273.25,701.69 273.5,692.66 273.75,688.09 274,690.12 274.25,697.77 274.5,707.71 274.75,716.54 275,722.57 275.25,725.91 275.5,727.47 275.75,728.14 276,728.44 276.25,728.61 276.5,728.73 276.75,728.82 277,728.9 277.25,728.97 277.5,729.03 277.75,729.08 278,729.12 278.25,729.15 278.5,729.18 278.75,729.21 279,729.23 279.25,729.26 279.5,729.27 279.75,729.29 280,729.3 280.25,729.32 280.5,729.33 280.75,729.34 281,729.35 281.25,729.36 281.5,729.36 281.75,729.37 282,729.38 282.25,729.38 282.5,729.39 282.75,729.39 283,729.4 283.25,729.4 283.5,729.41 283.75,729.41 284,729.41 284.25,729.42 284.5,729.42 284.75,729.42 285,729.42 285.25,729.43 285.5,729.43 285.75,729.43 286,729.43 286.25,729.43 286.5,729.43 286.75,729.44 287,729.44 287.25,729.44 287.5,729.44 287.75,729.44 288,729.44 288.25,729.44 288.5,729.44 288.75,729.44 289,729.44 289.25,729.44 289.5,729.44 289.75,729.44 290,729.44 290.25,729.44 290.5,729.44 290.75,729.44 291,729.44 291.25,729.44 291.5,729.43 291.75,729.43 292,729.43 292.25,729.42 292.5,729.41 292.75,729.4 293,729.38 293.25,729.36 293.5,729.33 293.75,729.3 294,729.25 294.25,729.2 294.5,729.13 294.75,729.06 295,728.97 295.25,728.88 295.5,728.79 295.75,728.7 296,728.62 296.25,728.55 296.5,728.5 296.75,728.46 297,728.45 297.25,728.46 297.5,728.5 297.75,728.55 298,728.62 298.25,728.71 298.5,728.8 298.75,728.89 299,728.98 299.25,729.06 299.5,729.14 299.75,729.2 300,729.26 300.25,729.3 300.5,729.34 300.75,729.37 301,729.39 301.25,729.41 301.5,729.42 301.75,729.43 302,729.44 302.25,729.44 302.5,729.45 302.75,729.45 303,729.45 303.25,729.45 303.5,729.45 303.75,729.46 304,729.46 304.25,729.46 304.5,729.46 304.75,729.46 305,729.46 305.25,729.46 305.5,729.46 305.75,729.46 306,729.46 306.25,729.46 306.5,729.46 306.75,729.47 307,729.47 307.25,729.47 307.5,729.47 307.75,729.47 308,729.47 308.25,729.47 308.5,729.47 308.75,729.47 309,729.47 309.25,729.47 309.5,729.47 309.75,729.46 310,729.46 310.25,729.46 310.5,729.46 310.75,729.46 311,729.46 311.25,729.46 311.5,729.46 311.75,729.46 312,729.45 312.25,729.45 312.5,729.43 312.75,729.4 313,729.35 313.25,729.26 313.5,729.12 313.75,728.94 314,728.75 314.25,728.6 314.5,728.55 314.75,728.6 315,728.75 315.25,728.94 315.5,729.12 315.75,729.26 316,729.35 316.25,729.4 316.5,729.43 316.75,729.44 317,729.45 317.25,729.45 317.5,729.45 317.75,729.45 318,729.46 318.25,729.46 318.5,729.46 318.75,729.46 319,729.46 319.25,729.46 319.5,729.46 319.75,729.46 320,729.46 320.25,729.46 320.5,729.46 320.75,729.46 321,729.46 321.25,729.46 321.5,729.45 321.75,729.45 322,729.45 322.25,729.45 322.5,729.45 322.75,729.45 323,729.45 323.25,729.45 323.5,729.45 323.75,729.45 324,729.44 324.25,729.44 324.5,729.44 324.75,729.44 325,729.44 325.25,729.43 325.5,729.43 325.75,729.43 326,729.43 326.25,729.42 326.5,729.42 326.75,729.42 327,729.41 327.25,729.41 327.5,729.41 327.75,729.4 328,729.4 328.25,729.39 328.5,729.38 328.75,729.38 329,729.37 329.25,729.36 329.5,729.35 329.75,729.34 330,729.33 330.25,729.31 330.5,729.3 330.75,729.28 331,729.26 331.25,729.24 331.5,729.21 331.75,729.18 332,729.15 332.25,729.1 332.5,729.05 332.75,728.99 333,728.92 333.25,728.83 333.5,728.69 333.75,728.42 334,727.76 334.25,726.2 334.5,722.98 334.75,717.63 335,710.81 335.25,704.79 335.5,702.35 335.75,704.79 336,710.81 336.25,717.62 336.5,722.98 336.75,726.2 337,727.75 337.25,728.4 337.5,728.68 337.75,728.81 338,728.9 338.25,728.97 338.5,729.03 338.75,729.08 339,729.12 339.25,729.15 339.5,729.18 339.75,729.21 340,729.23 340.25,729.24 340.5,729.25 340.75,729.26 341,729.27 341.25,729.28 341.5,729.28 341.75,729.28 342,729.28 342.25,729.28 342.5,729.27 342.75,729.27 343,729.26 343.25,729.25 343.5,729.24 343.75,729.23 344,729.21 344.25,729.19 344.5,729.17 344.75,729.15 345,729.13 345.25,729.11 345.5,729.08 345.75,729.05 346,729.03 346.25,729 346.5,728.97 346.75,728.94 347,728.91 347.25,728.88 347.5,728.85 347.75,728.83 348,728.8 348.25,728.77 348.5,728.75 348.75,728.73 349,728.71 349.25,728.69 349.5,728.67 349.75,728.66 350,728.65 350.25,728.64 350.5,728.63 350.75,728.63 351,728.62 351.25,728.62 351.5,728.61 351.75,728.6 352,728.59 352.25,728.58 352.5,728.57 352.75,728.54 353,728.51 353.25,728.46 353.5,728.4 353.75,728.3 354,728.09 354.25,727.55 354.5,726.21 354.75,723.3 355,718.21 355.25,711.32 355.5,704.69 355.75,701.25 356,702.81 356.25,708.55 356.5,715.7 356.75,721.69 357,725.47 357.25,727.38 357.5,728.2 357.75,728.54 358,728.71 358.25,728.82 358.5,728.91 358.75,728.98 359,729.04 359.25,729.09 359.5,729.13 359.75,729.17 360,729.2 360.25,729.23 360.5,729.25 360.75,729.27 361,729.29 361.25,729.31 361.5,729.32 361.75,729.33 362,729.34 362.25,729.35 362.5,729.36 362.75,729.37 363,729.38 363.25,729.38 363.5,729.39 363.75,729.39 364,729.4 364.25,729.4 364.5,729.41 364.75,729.41 365,729.42 365.25,729.42 365.5,729.42 365.75,729.43 366,729.43 366.25,729.43 366.5,729.43 366.75,729.44 367,729.44 367.25,729.44 367.5,729.44 367.75,729.44 368,729.44 368.25,729.45 368.5,729.45 368.75,729.45 369,729.45 369.25,729.45 369.5,729.45 369.75,729.45 370,729.46 370.25,729.46 370.5,729.46 370.75,729.46 371,729.46 371.25,729.46 371.5,729.46 371.75,729.46 372,729.46 372.25,729.46 372.5,729.46 372.75,729.46 373,729.47 373.25,729.47 373.5,729.47 373.75,729.47 374,729.47 374.25,729.47 374.5,729.47 374.75,729.47 375,729.47 375.25,729.47 375.5,729.47 375.75,729.47 376,729.47 376.25,729.47 376.5,729.47 376.75,729.47 377,729.47 377.25,729.47 377.5,729.47 377.75,729.47 378,729.47 378.25,729.47 378.5,729.47 378.75,729.47 379,729.47 379.25,729.48 379.5,729.48 379.75,729.48 380,729.48 380.25,729.48 380.5,729.48 380.75,729.48 381,729.48 381.25,729.48 381.5,729.48 381.75,729.48 382,729.48 382.25,729.48 382.5,729.48 382.75,729.48 383,729.48 383.25,729.48 383.5,729.48 383.75,729.48 384,729.48 384.25,729.48 384.5,729.48 384.75,729.48 385,729.48 385.25,729.48 385.5,729.48 385.75,729.48 386,729.48 386.25,729.48 386.5,729.48 386.75,729.48 387,729.48 387.25,729.48 387.5,729.48 387.75,729.48 388,729.48 388.25,729.48 388.5,729.48 388.75,729.48 389,729.48 389.25,729.48 389.5,729.48 389.75,729.48 390,729.48 390.25,729.48 390.5,729.48 390.75,729.48 391,729.48 391.25,729.48 391.5,729.48 391.75,729.48 392,729.48 392.25,729.48 392.5,729.48 392.75,729.48 393,729.48 393.25,729.48 393.5,729.48 393.75,729.48 394,729.48 394.25,729.48 394.5,729.48 394.75,729.48 395,729.48 395.25,729.48 395.5,729.48 395.75,729.48 396,729.48 396.25,729.48 396.5,729.47 396.75,729.47 397,729.47 397.25,729.47 397.5,729.47 397.75,729.47 398,729.47 398.25,729.47 398.5,729.47 398.75,729.47 399,729.47 399.25,729.47 399.5,729.47 399.75,729.47 400,729.47 400.25,729.47 400.5,729.47 400.75,729.47 401,729.47 401.25,729.47 401.5,729.47 401.75,729.47 402,729.47 402.25,729.47 402.5,729.47 402.75,729.47 403,729.46 403.25,729.46 403.5,729.46 403.75,729.46 404,729.46 404.25,729.46 404.5,729.46 404.75,729.46 405,729.46 405.25,729.46 405.5,729.46 405.75,729.46 406,729.46 406.25,729.45 406.5,729.45 406.75,729.45 407,729.45 407.25,729.45 407.5,729.45 407.75,729.45 408,729.45 408.25,729.44 408.5,729.44 408.75,729.44 409,729.44 409.25,729.44 409.5,729.44 409.75,729.43 410,729.43 410.25,729.43 410.5,729.43 410.75,729.42 411,729.42 411.25,729.42 411.5,729.41 411.75,729.41 412,729.41 412.25,729.4 412.5,729.4 412.75,729.39 413,729.39 413.25,729.38 413.5,729.37 413.75,729.37 414,729.36 414.25,729.35 414.5,729.34 414.75,729.33 415,729.31 415.25,729.29 415.5,729.27 415.75,729.25 416,729.21 416.25,729.12 416.5,728.94 416.75,728.56 417,727.86 417.25,726.79 417.5,725.45 417.75,724.18 418,723.43 418.25,723.5 418.5,724.37 418.75,725.67 419,726.96 419.25,727.94 419.5,728.54 419.75,728.85 420,728.98 420.25,729.02 420.5,729.03 420.75,729.03 421,729.01 421.25,728.99 421.5,728.96 421.75,728.93 422,728.88 422.25,728.83 422.5,728.77 422.75,728.7 423,728.61 423.25,728.51 423.5,728.39 423.75,728.24 424,728.06 424.25,727.83 424.5,727.46 424.75,726.75 425,725.11 425.25,721.34 425.5,713.77 425.75,701.12 426,684.33 426.25,667.73 426.5,657.72 426.75,658.91 427,670.73 427.25,687.87 427.5,704.07 427.75,715.68 428,722.35 428.25,725.57 428.5,726.96 428.75,727.57 429,727.89 429.25,728.12 429.5,728.29 429.75,728.44 430,728.56 430.25,728.66 430.5,728.75 430.75,728.82 431,728.89 431.25,728.94 431.5,728.99 431.75,729.03 432,729.07 432.25,729.1 432.5,729.13 432.75,729.15 433,729.18 433.25,729.2 433.5,729.22 433.75,729.23 434,729.25 434.25,729.26 434.5,729.27 434.75,729.28 435,729.29 435.25,729.29 435.5,729.3 435.75,729.31 436,729.31 436.25,729.31 436.5,729.31 436.75,729.31 437,729.31 437.25,729.31 437.5,729.3 437.75,729.29 438,729.27 438.25,729.22 438.5,729.1 438.75,728.83 439,728.34 439.25,727.58 439.5,726.63 439.75,725.73 440,725.2 440.25,725.27 440.5,725.9 440.75,726.84 441,727.77 441.25,728.49 441.5,728.93 441.75,729.16 442,729.27 442.25,729.32 442.5,729.35 442.75,729.36 443,729.38 443.25,729.39 443.5,729.4 443.75,729.4 444,729.41 444.25,729.41 444.5,729.42 444.75,729.42 445,729.43 445.25,729.43 445.5,729.43 445.75,729.44 446,729.44 446.25,729.44 446.5,729.44 446.75,729.45 447,729.45 447.25,729.45 447.5,729.45 447.75,729.45 448,729.46 448.25,729.46 448.5,729.46 448.75,729.46 449,729.46 449.25,729.46 449.5,729.46 449.75,729.46 450,729.46 450.25,729.46 450.5,729.47 450.75,729.47 451,729.47 451.25,729.47 451.5,729.47 451.75,729.47 452,729.47 452.25,729.47 452.5,729.47 452.75,729.47 453,729.47 453.25,729.47 453.5,729.47 453.75,729.47 454,729.47 454.25,729.47 454.5,729.48 454.75,729.48 455,729.48 455.25,729.48 455.5,729.48 455.75,729.48 456,729.48 456.25,729.48 456.5,729.48 456.75,729.48 457,729.48 457.25,729.48 457.5,729.48 457.75,729.48 458,729.48 458.25,729.48 458.5,729.48 458.75,729.48 459,729.48 459.25,729.48 459.5,729.48 459.75,729.48 460,729.48 460.25,729.48 460.5,729.48 460.75,729.48 461,729.48 461.25,729.48 461.5,729.48 461.75,729.48 462,729.48 462.25,729.48 462.5,729.48 462.75,729.48 463,729.48 463.25,729.48 463.5,729.48 463.75,729.48 464,729.48 464.25,729.49 464.5,729.49 464.75,729.49 465,729.49 465.25,729.49 465.5,729.49 465.75,729.49 466,729.49 466.25,729.49 466.5,729.49 466.75,729.49 467,729.49 467.25,729.49 467.5,729.49 467.75,729.49 468,729.49 468.25,729.49 468.5,729.49 468.75,729.49 469,729.49 469.25,729.49 469.5,729.49 469.75,729.49 470,729.49 470.25,729.49 470.5,729.49 470.75,729.49 471,729.49 471.25,729.49 471.5,729.49 471.75,729.49 472,729.49 472.25,729.49 472.5,729.49 472.75,729.49 473,729.49 473.25,729.49 473.5,729.49 473.75,729.49 474,729.49 474.25,729.49 474.5,729.49 474.75,729.49 475,729.49 475.25,729.49 475.5,729.49 475.75,729.49 476,729.49 476.25,729.49 476.5,729.49 476.75,729.49 477,729.49 477.25,729.49 477.5,729.49 477.75,729.49 478,729.49 478.25,729.49 478.5,729.49 478.75,729.49 479,729.49 479.25,729.49 479.5,729.49 479.75,729.49 480,729.49 480.25,729.49 480.5,729.49 480.75,729.49 481,729.49 481.25,729.49 481.5,729.49 481.75,729.49 482,729.49 482.25,729.49 482.5,729.49 482.75,729.49 483,729.49 483.25,729.49 483.5,729.49 483.75,729.49 484,729.49 484.25,729.49 484.5,729.49 484.75,729.49 485,729.49 485.25,729.49 485.5,729.49 485.75,729.49 486,729.49 486.25,729.49 486.5,729.49 486.75,729.49 487,729.49 487.25,729.49 487.5,729.49 487.75,729.49 488,729.49 488.25,729.49 488.5,729.49 488.75,729.49 489,729.49 489.25,729.49 489.5,729.49 489.75,729.49 490,729.49 490.25,729.49 490.5,729.49 490.75,729.49 491,729.49 491.25,729.49 491.5,729.49 491.75,729.49 492,729.49 492.25,729.49 492.5,729.49 492.75,729.49 493,729.49 493.25,729.49 493.5,729.49 493.75,729.49 494,729.49 494.25,729.49 494.5,729.49 494.75,729.49 495,729.49 495.25,729.49 495.5,729.49 495.75,729.49 496,729.49 496.25,729.49 496.5,729.49 496.75,729.49 497,729.49 497.25,729.49 497.5,729.49 497.75,729.49 498,729.49 498.25,729.49 498.5,729.49 498.75,729.49 499,729.49 499.25,729.49 499.5,729.49 499.75,729.49 500,729.49 500.25,729.49 500.5,729.49 500.75,729.49 501,729.49 501.25,729.49 501.5,729.49 501.75,729.49 502,729.49 502.25,729.49 502.5,729.49 502.75,729.49 503,729.49 503.25,729.49 503.5,729.49 503.75,729.49 504,729.49 504.25,729.49 504.5,729.48 504.75,729.48 505,729.48 505.25,729.48 505.5,729.48 505.75,729.48 506,729.48 506.25,729.48 506.5,729.48 506.75,729.48 507,729.48 507.25,729.48 507.5,729.48 507.75,729.48 508,729.48 508.25,729.48 508.5,729.48 508.75,729.48 509,729.48 509.25,729.48 509.5,729.48 509.75,729.48 510,729.48 510.25,729.48 510.5,729.48 510.75,729.48 511,729.48 511.25,729.48 511.5,729.48 511.75,729.48 512,729.48 512.25,729.48 512.5,729.48 512.75,729.48 513,729.47 513.25,729.47 513.5,729.47 513.75,729.47 514,729.47 514.25,729.47 514.5,729.47 514.75,729.47 515,729.47 515.25,729.47 515.5,729.47 515.75,729.47 516,729.47 516.25,729.47 516.5,729.47 516.75,729.46 517,729.46 517.25,729.46 517.5,729.46 517.75,729.46 518,729.46 518.25,729.46 518.5,729.46 518.75,729.46 519,729.45 519.25,729.45 519.5,729.45 519.75,729.45 520,729.45 520.25,729.45 520.5,729.44 520.75,729.44 521,729.44 521.25,729.44 521.5,729.43 521.75,729.43 522,729.43 522.25,729.42 522.5,729.42 522.75,729.42 523,729.41 523.25,729.41 523.5,729.4 523.75,729.39 524,729.38 524.25,729.36 524.5,729.34 524.75,729.31 525,729.26 525.25,729.2 525.5,729.12 525.75,729.02 526,728.91 526.25,728.78 526.5,728.66 526.75,728.54 527,728.44 527.25,728.38 527.5,728.35 527.75,728.36 528,728.41 528.25,728.49 528.5,728.59 528.75,728.7 529,728.8 529.25,728.89 529.5,728.97 529.75,729.02 530,729.06 530.25,729.08 530.5,729.08 530.75,729.06 531,729.04 531.25,729.01 531.5,728.96 531.75,728.9 532,728.84 532.25,728.75 532.5,728.66 532.75,728.53 533,728.37 533.25,728.11 533.5,727.57 533.75,726.31 534,723.49 534.25,718 534.5,709.21 534.75,698.14 535,687.96 535.25,682.81 535.5,685.09 535.75,693.72 536,704.92 536.25,714.87 536.5,721.67 536.75,725.43 537,727.19 537.25,727.94 537.5,728.27 537.75,728.46 538,728.6 538.25,728.7 538.5,728.78 538.75,728.85 539,728.9 539.25,728.93 539.5,728.95 539.75,728.95 540,728.92 540.25,728.86 540.5,728.78 540.75,728.66 541,728.53 541.25,728.37 541.5,728.21 541.75,728.06 542,727.94 542.25,727.87 542.5,727.85 542.75,727.89 543,727.98 543.25,728.12 543.5,728.29 543.75,728.48 544,728.66 544.25,728.82 544.5,728.96 544.75,729.08 545,729.17 545.25,729.24 545.5,729.28 545.75,729.32 546,729.34 546.25,729.36 546.5,729.37 546.75,729.38 547,729.38 547.25,729.39 547.5,729.39 547.75,729.4 548,729.4 548.25,729.4 548.5,729.4 548.75,729.41 549,729.41 549.25,729.41 549.5,729.41 549.75,729.41 550,729.41 550.25,729.41 550.5,729.4 550.75,729.4 551,729.39 551.25,729.38 551.5,729.36 551.75,729.32 552,729.28 552.25,729.21 552.5,729.12 552.75,729.01 553,728.88 553.25,728.73 553.5,728.57 553.75,728.42 554,728.29 554.25,728.2 554.5,728.15 554.75,728.16 555,728.22 555.25,728.32 555.5,728.46 555.75,728.61 556,728.77 556.25,728.92 556.5,729.05 556.75,729.16 557,729.24 557.25,729.31 557.5,729.35 557.75,729.38 558,729.41 558.25,729.42 558.5,729.43 558.75,729.44 559,729.44 559.25,729.45 559.5,729.45 559.75,729.45 560,729.45 560.25,729.46 560.5,729.46 560.75,729.46 561,729.46 561.25,729.46 561.5,729.47 561.75,729.47 562,729.47 562.25,729.47 562.5,729.47 562.75,729.47 563,729.47 563.25,729.47 563.5,729.47 563.75,729.47 564,729.48 564.25,729.48 564.5,729.48 564.75,729.48 565,729.48 565.25,729.48 565.5,729.48 565.75,729.48 566,729.48 566.25,729.48 566.5,729.48 566.75,729.48 567,729.48 567.25,729.48 567.5,729.48 567.75,729.48 568,729.48 568.25,729.48 568.5,729.48 568.75,729.48 569,729.48 569.25,729.48 569.5,729.48 569.75,729.49 570,729.49 570.25,729.49 570.5,729.49 570.75,729.49 571,729.49 571.25,729.49 571.5,729.49 571.75,729.49 572,729.49 572.25,729.49 572.5,729.49 572.75,729.49 573,729.49 573.25,729.49 573.5,729.49 573.75,729.49 574,729.49 574.25,729.49 574.5,729.49 574.75,729.49 575,729.49 575.25,729.49 575.5,729.49 575.75,729.49 576,729.49 576.25,729.49 576.5,729.49 576.75,729.49 577,729.49 577.25,729.49 577.5,729.49 577.75,729.49 578,729.49 578.25,729.49 578.5,729.49 578.75,729.49 579,729.49 579.25,729.49 579.5,729.49 579.75,729.49 580,729.49 580.25,729.49 580.5,729.49 580.75,729.49 581,729.49 581.25,729.49 581.5,729.49 581.75,729.49 582,729.49 582.25,729.49 582.5,729.49 582.75,729.49 583,729.49 583.25,729.49 583.5,729.49 583.75,729.49 584,729.49 584.25,729.49 584.5,729.49 584.75,729.49 585,729.49 585.25,729.49 585.5,729.49 585.75,729.49 586,729.49 586.25,729.49 586.5,729.49 586.75,729.49 587,729.49 587.25,729.49 587.5,729.49 587.75,729.49 588,729.49 588.25,729.49 588.5,729.49 588.75,729.49 589,729.49 589.25,729.49 589.5,729.49 589.75,729.49 590,729.49 590.25,729.49 590.5,729.49 590.75,729.49 591,729.49 591.25,729.49 591.5,729.49 591.75,729.49 592,729.49 592.25,729.49 592.5,729.49 592.75,729.49 593,729.49 593.25,729.49 593.5,729.49 593.75,729.49 594,729.49 594.25,729.49 594.5,729.49 594.75,729.49 595,729.49 595.25,729.49 595.5,729.49 595.75,729.49 596,729.49 596.25,729.49 596.5,729.49 596.75,729.49 597,729.49 597.25,729.49 597.5,729.49 597.75,729.49 598,729.49 598.25,729.49 598.5,729.49 598.75,729.49 599,729.49 599.25,729.49 599.5,729.49 599.75,729.49 600,729.49 600.25,729.49 600.5,729.49 600.75,729.49 601,729.49 601.25,729.49 601.5,729.49 601.75,729.49 602,729.49 602.25,729.49 602.5,729.49 602.75,729.49 603,729.49 603.25,729.49 603.5,729.49 603.75,729.49 604,729.49 604.25,729.49 604.5,729.49 604.75,729.49 605,729.49 605.25,729.49 605.5,729.49 605.75,729.49 606,729.49 606.25,729.49 606.5,729.49 606.75,729.49 607,729.49 607.25,729.49 607.5,729.49 607.75,729.49 608,729.49 608.25,729.49 608.5,729.49 608.75,729.49 609,729.49 609.25,729.49 609.5,729.49 609.75,729.49 610,729.49 610.25,729.49 610.5,729.49 610.75,729.49 611,729.49 611.25,729.49 611.5,729.49 611.75,729.49 612,729.49 612.25,729.49 612.5,729.49 612.75,729.49 613,729.49 613.25,729.49 613.5,729.49 613.75,729.49 614,729.49 614.25,729.49 614.5,729.49 614.75,729.49 615,729.49 615.25,729.49 615.5,729.49 615.75,729.49 616,729.49 616.25,729.49 616.5,729.49 616.75,729.49 617,729.49 617.25,729.49 617.5,729.49 617.75,729.49 618,729.49 618.25,729.49 618.5,729.49 618.75,729.49 619,729.49 619.25,729.49 619.5,729.49 619.75,729.49 620,729.49 620.25,729.49 620.5,729.49 620.75,729.49 621,729.49 621.25,729.49 621.5,729.49 621.75,729.49 622,729.49 622.25,729.49 622.5,729.49 622.75,729.49 623,729.49 623.25,729.49 623.5,729.49 623.75,729.49 624,729.49 624.25,729.49 624.5,729.49 624.75,729.49 625,729.49 625.25,729.49 625.5,729.49 625.75,729.49 626,729.49 626.25,729.49 626.5,729.49 626.75,729.49 627,729.49 627.25,729.49 627.5,729.49 627.75,729.49 628,729.49 628.25,729.49 628.5,729.49 628.75,729.49 629,729.49 629.25,729.49 629.5,729.49 629.75,729.49 630,729.49 630.25,729.49 630.5,729.49 630.75,729.49 631,729.49 631.25,729.49 631.5,729.49 631.75,729.49 632,729.49 632.25,729.49 632.5,729.49 632.75,729.49 633,729.49 633.25,729.49 633.5,729.49 633.75,729.49 634,729.49 634.25,729.49 634.5,729.49 634.75,729.49 635,729.49 635.25,729.49 635.5,729.49 635.75,729.49 636,729.49 636.25,729.49 636.5,729.49 636.75,729.49 637,729.49 637.25,729.49 637.5,729.49 637.75,729.49 638,729.49 638.25,729.49 638.5,729.49 638.75,729.49 639,729.49 639.25,729.49 639.5,729.49 639.75,729.49 640,729.49 640.25,729.49 640.5,729.49 640.75,729.49 641,729.49 641.25,729.49 641.5,729.49 641.75,729.49 642,729.49 642.25,729.49 642.5,729.49 642.75,729.49 643,729.49 643.25,729.49 643.5,729.49 643.75,729.49 644,729.49 644.25,729.49 644.5,729.49 644.75,729.49 645,729.49 645.25,729.49 645.5,729.49 645.75,729.49 646,729.49 646.25,729.49 646.5,729.49 646.75,729.49 647,729.49 647.25,729.49 647.5,729.49 647.75,729.49 648,729.49 648.25,729.49 648.5,729.49 648.75,729.49 649,729.49 649.25,729.49 649.5,729.49 649.75,729.49 650,729.49 650.25,729.49 650.5,729.49 650.75,729.49 651,729.49 651.25,729.49 651.5,729.49 651.75,729.49 652,729.49 652.25,729.49 652.5,729.49 652.75,729.49 653,729.49 653.25,729.49 653.5,729.49 653.75,729.49 654,729.49 654.25,729.49 654.5,729.49 654.75,729.49 655,729.49 655.25,729.49 655.5,729.49 655.75,729.49 656,729.49 656.25,729.49 656.5,729.49 656.75,729.49 657,729.49 657.25,729.49 657.5,729.49 657.75,729.49 658,729.49 658.25,729.49 658.5,729.49 658.75,729.49 659,729.49 659.25,729.49 659.5,729.48 659.75,729.48 660,729.48 660.25,729.48 660.5,729.48 660.75,729.48 661,729.48 661.25,729.48 661.5,729.48 661.75,729.48 662,729.48 662.25,729.48 662.5,729.48 662.75,729.48 663,729.48 663.25,729.48 663.5,729.48 663.75,729.48 664,729.48 664.25,729.48 664.5,729.48 664.75,729.48 665,729.48 665.25,729.48 665.5,729.48 665.75,729.48 666,729.48 666.25,729.47 666.5,729.47 666.75,729.47 667,729.47 667.25,729.47 667.5,729.47 667.75,729.47 668,729.47 668.25,729.47 668.5,729.47 668.75,729.47 669,729.47 669.25,729.46 669.5,729.46 669.75,729.46 670,729.46 670.25,729.46 670.5,729.46 670.75,729.46 671,729.45 671.25,729.45 671.5,729.45 671.75,729.45 672,729.44 672.25,729.44 672.5,729.44 672.75,729.44 673,729.43 673.25,729.43 673.5,729.42 673.75,729.41 674,729.4 674.25,729.39 674.5,729.37 674.75,729.34 675,729.31 675.25,729.26 675.5,729.2 675.75,729.12 676,729.02 676.25,728.9 676.5,728.77 676.75,728.62 677,728.46 677.25,728.29 677.5,728.13 677.75,727.99 678,727.88 678.25,727.79 678.5,727.75 678.75,727.76 679,727.8 679.25,727.89 679.5,728.01 679.75,728.15 680,728.31 680.25,728.47 680.5,728.63 680.75,728.78 681,728.91 681.25,729.02 681.5,729.11 681.75,729.18 682,729.24 682.25,729.28 682.5,729.31 682.75,729.33 683,729.34 683.25,729.35 683.5,729.35 683.75,729.36 684,729.36 684.25,729.35 684.5,729.35 684.75,729.35 685,729.34 685.25,729.34 685.5,729.33 685.75,729.32 686,729.31 686.25,729.3 686.5,729.29 686.75,729.27 687,729.25 687.25,729.23 687.5,729.21 687.75,729.18 688,729.15 688.25,729.11 688.5,729.07 688.75,729.01 689,728.95 689.25,728.86 689.5,728.74 689.75,728.49 690,727.93 690.25,726.66 690.5,724.12 690.75,719.87 691,714.22 691.25,708.65 691.5,705.28 691.75,705.67 692,709.62 692.25,715.36 692.5,720.79 692.75,724.67 693,726.9 693.25,727.97 693.5,728.42 693.75,728.61 694,728.71 694.25,728.77 694.5,728.82 694.75,728.85 695,728.88 695.25,728.9 695.5,728.91 695.75,728.93 696,728.93 696.25,728.94 696.5,728.94 696.75,728.95 697,728.95 697.25,728.95 697.5,728.95 697.75,728.95 698,728.94 698.25,728.94 698.5,728.94 698.75,728.94 699,728.94 699.25,728.94 699.5,728.94 699.75,728.95 700,728.95 700.25,728.95 700.5,728.96 700.75,728.96 701,728.97 701.25,728.98 701.5,728.99 701.75,728.99 702,729 702.25,729.01 702.5,729.02 702.75,729.04 703,729.05 703.25,729.06 703.5,729.07 703.75,729.09 704,729.1 704.25,729.12 704.5,729.13 704.75,729.14 705,729.16 705.25,729.17 705.5,729.19 705.75,729.2 706,729.21 706.25,729.23 706.5,729.24 706.75,729.25 707,729.26 707.25,729.28 707.5,729.29 707.75,729.3 708,729.31 708.25,729.32 708.5,729.33 708.75,729.34 709,729.34 709.25,729.35 709.5,729.36 709.75,729.36 710,729.37 710.25,729.37 710.5,729.38 710.75,729.38 711,729.39 711.25,729.39 711.5,729.39 711.75,729.39 712,729.4 712.25,729.4 712.5,729.4 712.75,729.4 713,729.4 713.25,729.39 713.5,729.39 713.75,729.38 714,729.37 714.25,729.36 714.5,729.34 714.75,729.32 715,729.28 715.25,729.24 715.5,729.18 715.75,729.11 716,729.03 716.25,728.94 716.5,728.84 716.75,728.74 717,728.64 717.25,728.54 717.5,728.46 717.75,728.4 718,728.36 718.25,728.35 718.5,728.36 718.75,728.41 719,728.47 719.25,728.55 719.5,728.64 719.75,728.73 720,728.82 720.25,728.91 720.5,728.98 720.75,729.04 721,729.09 721.25,729.13 721.5,729.15 721.75,729.16 722,729.16 722.25,729.14 722.5,729.12 722.75,729.09 723,729.05 723.25,728.99 723.5,728.91 723.75,728.79 724,728.52 724.25,727.9 724.5,726.51 724.75,723.8 725,719.46 725.25,713.99 725.5,708.97 725.75,706.43 726,707.56 726.25,711.82 726.5,717.35 726.75,722.27 727,725.63 727.25,727.48 727.5,728.35 727.75,728.73 728,728.9 728.25,728.99 728.5,729.06 728.75,729.11 729,729.16 729.25,729.19 729.5,729.23 729.75,729.25 730,729.28 730.25,729.3 730.5,729.32 730.75,729.33 731,729.34 731.25,729.36 731.5,729.37 731.75,729.38 732,729.38 732.25,729.39 732.5,729.4 732.75,729.4 733,729.41 733.25,729.42 733.5,729.42 733.75,729.42 734,729.43 734.25,729.43 734.5,729.43 734.75,729.44 735,729.44 735.25,729.44 735.5,729.45 735.75,729.45 736,729.45 736.25,729.45 736.5,729.45 736.75,729.46 737,729.46 737.25,729.46 737.5,729.46 737.75,729.46 738,729.46 738.25,729.46 738.5,729.47 738.75,729.47 739,729.47 739.25,729.47 739.5,729.47 739.75,729.47 740,729.47 740.25,729.47 740.5,729.47 740.75,729.47 741,729.47 741.25,729.47 741.5,729.48 741.75,729.48 742,729.48 742.25,729.48 742.5,729.48 742.75,729.48 743,729.48 743.25,729.48 743.5,729.48 743.75,729.48 744,729.48 744.25,729.48 744.5,729.48 744.75,729.48 745,729.48 745.25,729.48 745.5,729.48 745.75,729.48 746,729.48 746.25,729.48 746.5,729.48 746.75,729.48 747,729.48 747.25,729.48 747.5,729.49 747.75,729.49 748,729.49 748.25,729.49 748.5,729.49 748.75,729.49 749,729.49 749.25,729.49 749.5,729.49 749.75,729.49 750,729.49 750.25,729.49 750.5,729.49 750.75,729.49 751,729.49 751.25,729.49 751.5,729.49 751.75,729.49 752,729.49 752.25,729.49 752.5,729.49 752.75,729.49 753,729.49 753.25,729.49 753.5,729.49 753.75,729.49 754,729.49 754.25,729.49 754.5,729.49 754.75,729.49 755,729.49 755.25,729.49 755.5,729.49 755.75,729.49 756,729.49 756.25,729.49 756.5,729.49 756.75,729.49 757,729.49 757.25,729.49 757.5,729.49 757.75,729.49 758,729.49 758.25,729.49 758.5,729.49 758.75,729.49 759,729.49 759.25,729.49 759.5,729.49 759.75,729.49 760,729.49 760.25,729.49 760.5,729.49 760.75,729.49 761,729.49 761.25,729.49 761.5,729.49 761.75,729.49 762,729.49 762.25,729.49 762.5,729.49 762.75,729.49 763,729.49 763.25,729.49 763.5,729.49 763.75,729.49 764,729.49 764.25,729.49 764.5,729.49 764.75,729.49 765,729.49 765.25,729.49 765.5,729.49 765.75,729.49 766,729.49 766.25,729.49 766.5,729.49 766.75,729.49 767,729.49 767.25,729.49 767.5,729.49 767.75,729.49 768,729.49 768.25,729.49 768.5,729.49 768.75,729.49 769,729.49 769.25,729.49 769.5,729.49 769.75,729.49 770,729.49 770.25,729.49 770.5,729.49 770.75,729.49 771,729.5 771.25,729.5 771.5,729.5 771.75,729.5 772,729.5 772.25,729.5 772.5,729.5 772.75,729.5 773,729.5 773.25,729.5 773.5,729.5 773.75,729.5 774,729.5 774.25,729.5 774.5,729.5 774.75,729.5 775,729.5 775.25,729.5 775.5,729.5 775.75,729.5 776,729.5 776.25,729.5 776.5,729.5 776.75,729.5 777,729.5 777.25,729.5 777.5,729.5 777.75,729.5 778,729.5 778.25,729.5 778.5,729.5 778.75,729.5 779,729.5 779.25,729.5 779.5,729.5 779.75,729.5 780,729.5 780.25,729.5 780.5,729.5 780.75,729.5 781,729.5 781.25,729.5 781.5,729.5 781.75,729.5 782,729.5 782.25,729.5 782.5,729.5 782.75,729.5 783,729.5 783.25,729.5 783.5,729.5 783.75,729.5 784,729.5 784.25,729.5 784.5,729.5 784.75,729.5 785,729.5 785.25,729.5 785.5,729.5 785.75,729.5 786,729.5 786.25,729.5 786.5,729.5 786.75,729.5 787,729.5 787.25,729.5 787.5,729.5 787.75,729.5 788,729.5 788.25,729.5 788.5,729.5 788.75,729.5 789,729.5 789.25,729.5 789.5,729.5 789.75,729.5 790,729.5 790.25,729.5 790.5,729.5 790.75,729.5 791,729.5 791.25,729.5 791.5,729.5 791.75,729.5 792,729.5 792.25,729.5 792.5,729.5 792.75,729.5 793,729.5 793.25,729.5 793.5,729.5 793.75,729.5 794,729.5 794.25,729.5 794.5,729.5 794.75,729.5 795,729.5 795.25,729.5 795.5,729.5 795.75,729.5 796,729.5 796.25,729.5 796.5,729.5 796.75,729.5 797,729.5 797.25,729.5 797.5,729.5 797.75,729.5 798,729.5 798.25,729.5 798.5,729.5 798.75,729.5 799,729.5 799.25,729.5 799.5,729.5 799.75,729.5 800,729.5 800.25,729.5 800.5,729.5 800.75,729.5 801,729.5 801.25,729.5 801.5,729.5 801.75,729.5 802,729.5 802.25,729.5 802.5,729.5 802.75,729.5 803,729.5 803.25,729.5 803.5,729.5 803.75,729.5 804,729.5 804.25,729.5 804.5,729.5 804.75,729.5 805,729.5 805.25,729.5 805.5,729.5 805.75,729.5 806,729.5 806.25,729.5 806.5,729.5 806.75,729.5 807,729.5 807.25,729.5 807.5,729.5 807.75,729.5 808,729.5 808.25,729.5 808.5,729.5 808.75,729.5 809,729.5 809.25,729.5 809.5,729.5 809.75,729.5 810,729.5 810.25,729.5 810.5,729.5 810.75,729.5 811,729.5 811.25,729.5 811.5,729.5 811.75,729.5 812,729.5 812.25,729.5 812.5,729.5 812.75,729.5 813,729.5 813.25,729.5 813.5,729.5 813.75,729.5 814,729.5 814.25,729.5 814.5,729.5 814.75,729.5 815,729.5 815.25,729.5 815.5,729.5 815.75,729.5 816,729.5 816.25,729.5 816.5,729.5 816.75,729.5 817,729.5 817.25,729.5 817.5,729.5 817.75,729.5 818,729.5 818.25,729.5 818.5,729.5 818.75,729.5 819,729.5 819.25,729.5 819.5,729.5 819.75,729.5 820,729.5 820.25,729.5 820.5,729.5 820.75,729.5 821,729.5 821.25,729.5 821.5,729.5 821.75,729.5 822,729.5 822.25,729.5 822.5,729.5 822.75,729.5 823,729.5 823.25,729.5 823.5,729.5 823.75,729.5 824,729.5 824.25,729.5 824.5,729.5 824.75,729.5 825,729.5 825.25,729.5 825.5,729.5 825.75,729.5 826,729.5 826.25,729.5 826.5,729.5 826.75,729.5 827,729.5 827.25,729.5 827.5,729.5 827.75,729.5 828,729.5 828.25,729.5 828.5,729.5 828.75,729.5 829,729.5 829.25,729.5 829.5,729.5 829.75,729.5 830,729.5 830.25,729.5 830.5,729.5 830.75,729.5 831,729.5 831.25,729.5 831.5,729.5 831.75,729.5 832,729.5 832.25,729.5 832.5,729.5 832.75,729.5 833,729.5 833.25,729.5 833.5,729.5 833.75,729.5 834,729.5 834.25,729.5 834.5,729.5 834.75,729.5 835,729.5 835.25,729.5 835.5,729.5 835.75,729.5 836,729.5 836.25,729.5 836.5,729.5 836.75,729.5 837,729.5 837.25,729.5 837.5,729.5 837.75,729.5 838,729.5 838.25,729.5 838.5,729.5 838.75,729.5 839,729.5 839.25,729.5 839.5,729.5 839.75,729.5 840,729.5 840.25,729.5 840.5,729.5 840.75,729.5 841,729.5 841.25,729.5 841.5,729.5 841.75,729.5 842,729.5 842.25,729.5 842.5,729.5 842.75,729.5 843,729.5 843.25,729.5 843.5,729.5 843.75,729.5 844,729.5 844.25,729.5 844.5,729.5 844.75,729.5 845,729.5 845.25,729.5 845.5,729.5 845.75,729.5 846,729.5 846.25,729.5 846.5,729.5 846.75,729.5 847,729.5 847.25,729.5 847.5,729.5 847.75,729.5 848,729.5 848.25,729.5 848.5,729.5 848.75,729.5 849,729.5 849.25,729.5 849.5,729.5 849.75,729.5 850,729.5 850.25,729.5 850.5,729.5 850.75,729.5 851,729.5 851.25,729.5 851.5,729.5 851.75,729.5 852,729.5 852.25,729.5 852.5,729.5 852.75,729.5 853,729.5 853.25,729.5 853.5,729.5 853.75,729.5 854,729.5 854.25,729.5 854.5,729.5 854.75,729.5 855,729.5 855.25,729.5 855.5,729.5 855.75,729.5 856,729.5" fill="none" stroke="#111111" stroke-width="1.3" stroke-linejoin="round"/>
<line x1="98.5" y1="730.5" x2="856.5" y2="730.5" stroke="#222" stroke-width="1.2"/>
<line x1="175.5" y1="730.9" x2="175.5" y2="738.4" stroke="#8c8c8c" stroke-width="1"/>
<line x1="181.5" y1="730.9" x2="181.5" y2="764.3" stroke="#8c8c8c" stroke-width="1"/>
<line x1="249.5" y1="730.9" x2="249.5" y2="738.4" stroke="#8c8c8c" stroke-width="1"/>
<line x1="274.5" y1="730.9" x2="274.5" y2="738.4" stroke="#8c8c8c" stroke-width="1"/>
<line x1="336.5" y1="730.9" x2="336.5" y2="738.4" stroke="#8c8c8c" stroke-width="1"/>
<line x1="356.5" y1="730.9" x2="356.5" y2="738.4" stroke="#8c8c8c" stroke-width="1"/>
<line x1="427.5" y1="730.9" x2="427.5" y2="738.4" stroke="#8c8c8c" stroke-width="1"/>
<line x1="536.5" y1="730.9" x2="536.5" y2="738.4" stroke="#8c8c8c" stroke-width="1"/>
<line x1="692.5" y1="730.9" x2="692.5" y2="738.4" stroke="#8c8c8c" stroke-width="1"/>
<line x1="726.5" y1="730.9" x2="726.5" y2="738.4" stroke="#8c8c8c" stroke-width="1"/>
<rect x="164.5" y="737.5" width="21" height="20" fill="#fff" stroke="#8c8c8c" stroke-width="1"/>
<text x="175.3" y="754.5" text-anchor="middle" font-family="'Liberation Serif', 'Times New Roman', serif" font-size="15" fill="#111">14</text>
<rect x="171.5" y="763.5" width="20" height="20" fill="#fff" stroke="#8c8c8c" stroke-width="1"/>
<text x="182" y="780.4" text-anchor="middle" font-family="'Liberation Serif', 'Times New Roman', serif" font-size="15" fill="#111">15</text>
<rect x="242.5" y="737.5" width="14" height="20" fill="#fff" stroke="#8c8c8c" stroke-width="1"/>
<text x="249.65" y="754.5" text-anchor="middle" font-family="'Liberation Serif', 'Times New Roman', serif" font-size="15" fill="#111">6</text>
<rect x="262.5" y="737.5" width="25" height="20" fill="#fff" stroke="#8c8c8c" stroke-width="1"/>
<text x="275.15" y="754.5" text-anchor="middle" font-family="'Liberation Serif', 'Times New Roman', serif" font-size="15" fill="#111">9.3</text>
<rect x="328.5" y="737.5" width="15" height="20" fill="#fff" stroke="#8c8c8c" stroke-width="1"/>
<text x="336.3" y="754.5" text-anchor="middle" font-family="'Liberation Serif', 'Times New Roman', serif" font-size="15" fill="#111">9</text>
<rect x="346.5" y="737.5" width="20" height="20" fill="#fff" stroke="#8c8c8c" stroke-width="1"/>
<text x="356.75" y="754.5" text-anchor="middle" font-family="'Liberation Serif', 'Times New Roman', serif" font-size="15" fill="#111">12</text>
<rect x="420.5" y="737.5" width="14" height="20" fill="#fff" stroke="#8c8c8c" stroke-width="1"/>
<text x="427.5" y="754.5" text-anchor="middle" font-family="'Liberation Serif', 'Times New Roman', serif" font-size="15" fill="#111">8</text>
<rect x="526.5" y="737.5" width="20" height="20" fill="#fff" stroke="#8c8c8c" stroke-width="1"/>
<text x="536.65" y="754.5" text-anchor="middle" font-family="'Liberation Serif', 'Times New Roman', serif" font-size="15" fill="#111">13</text>
<rect x="681.5" y="737.5" width="21" height="20" fill="#fff" stroke="#8c8c8c" stroke-width="1"/>
<text x="692.35" y="754.5" text-anchor="middle" font-family="'Liberation Serif', 'Times New Roman', serif" font-size="15" fill="#111">14</text>
<rect x="716.5" y="737.5" width="20" height="20" fill="#fff" stroke="#8c8c8c" stroke-width="1"/>
<text x="726.95" y="754.5" text-anchor="middle" font-family="'Liberation Serif', 'Times New Roman', serif" font-size="15" fill="#111">19</text>
<rect x="33.5" y="819.5" width="835" height="210" fill="none" stroke="#4a4a4a" stroke-width="1"/>
<rect x="33.5" y="804.5" width="835" height="15" fill="#fff" stroke="#111" stroke-width="1.5"/>
<line x1="321" y1="805.3" x2="321" y2="818.9" stroke="#b4b4b4" stroke-width="0.9"/>
<line x1="452.5" y1="805.3" x2="452.5" y2="818.9" stroke="#b4b4b4" stroke-width="0.9"/>
<line x1="642.5" y1="805.3" x2="642.5" y2="818.9" stroke="#b4b4b4" stroke-width="0.9"/>
<line x1="722.8" y1="805.3" x2="722.8" y2="818.9" stroke="#b4b4b4" stroke-width="0.9"/>
<line x1="795.9" y1="805.3" x2="795.9" y2="818.9" stroke="#b4b4b4" stroke-width="0.9"/>
<text x="37.9" y="816.7" font-family="'Liberation Sans', Arial, sans-serif" font-size="12.06" fill="#111">42<tspan dy="-1.0">_</tspan><tspan dy="1.0">B06</tspan><tspan dy="-1.0">_</tspan><tspan dy="1.0">CellLineAuthentication-1-0907.fsa</tspan></text>
<text x="325.4" y="816.7" font-family="'Liberation Sans', Arial, sans-serif" font-size="12.06" fill="#111">HTR-8-SVneo</text>
<text x="457" y="816.7" font-family="'Liberation Sans', Arial, sans-serif" font-size="12.06" fill="#111">21Plex<tspan dy="-1.0">_</tspan><tspan dy="1.0">STR</tspan><tspan dy="-1.0">_</tspan><tspan dy="1.0">Panel</tspan><tspan dy="-1.0">_</tspan><tspan dy="1.0">v1.1</tspan></text>
<rect x="754" y="806.7" width="10.5" height="10.5" fill="#4caf3c"/>
<rect x="826.8" y="806.7" width="10.5" height="10.5" fill="#4caf3c"/>
<rect x="139.5" y="825.5" width="16" height="15" fill="#c1c1c1" stroke="#555" stroke-width="1"/>
<text x="147.1" y="838.2" text-anchor="middle" font-family="'Liberation Sans', Arial, sans-serif" font-size="11.9" fill="#1a1a1a">...</text>
<rect x="159.5" y="825.5" width="102" height="15" fill="#c1c1c1" stroke="#555" stroke-width="1"/>
<text x="210.15" y="838.2" text-anchor="middle" font-family="'Liberation Sans', Arial, sans-serif" font-size="11.9" fill="#1a1a1a">D1S1656</text>
<rect x="271.5" y="825.5" width="95" height="15" fill="#c1c1c1" stroke="#555" stroke-width="1"/>
<text x="319" y="838.2" text-anchor="middle" font-family="'Liberation Sans', Arial, sans-serif" font-size="11.9" fill="#1a1a1a">D5S818</text>
<rect x="372.5" y="825.5" width="107" height="15" fill="#c1c1c1" stroke="#555" stroke-width="1"/>
<text x="425.95" y="838.2" text-anchor="middle" font-family="'Liberation Sans', Arial, sans-serif" font-size="11.9" fill="#1a1a1a">D12S391</text>
<rect x="485.5" y="825.5" width="259" height="15" fill="#c1c1c1" stroke="#555" stroke-width="1"/>
<text x="615.3" y="838.2" text-anchor="middle" font-family="'Liberation Sans', Arial, sans-serif" font-size="11.9" fill="#1a1a1a">FGA</text>
<path d="M142.1 864V971.7M150.6 864V971.7M171.3 864V971.7M178.1 864V971.7M184.8 864V971.7M192 864V971.7M198.4 864V971.7M206 864V971.7M213.6 864V971.7M221.6 864V971.7M228.7 864V971.7M234.6 864V971.7M236.2 864V971.7M241.4 864V971.7M242.9 864V971.7M248.5 864V971.7M250.1 864V971.7M257.6 864V971.7M275 864V971.7M281.7 864V971.7M288.4 864V971.7M294.8 864V971.7M301.6 864V971.7M308.4 864V971.7M315.2 864V971.7M321.4 864V971.7M328.7 864V971.7M335.5 864V971.7M342.3 864V971.7M349.1 864V971.7M376.5 864V971.7M383.3 864V971.7M390.1 864V971.7M396.9 864V971.7M404 864V971.7M411.1 864V971.7M418.2 864V971.7M423.3 864V971.7M425.3 864V971.7M432.4 864V971.7M439.6 864V971.7M446.7 864V971.7M453.8 864V971.7M460.9 864V971.7M468 864V971.7M474.8 864V971.7M502.8 864V971.7M509.5 864V971.7M512.88 864V971.7M516.27 864V971.7M519.65 864V971.7M523.04 864V971.7M526.42 864V971.7M529.8 864V971.7M533.19 864V971.7M536.57 864V971.7M539.96 864V971.7M543.34 864V971.7M546.72 864V971.7M550.11 864V971.7M553.49 864V971.7M556.88 864V971.7M560.26 864V971.7M563.64 864V971.7M567.03 864V971.7M570.41 864V971.7M573.8 864V971.7M577.18 864V971.7M580.56 864V971.7M583.95 864V971.7M587.33 864V971.7M590.72 864V971.7M594.1 864V971.7M597.48 864V971.7M600.87 864V971.7M604.25 864V971.7M607.64 864V971.7M611.02 864V971.7M614.4 864V971.7M666.3 864V971.7M673.1 864V971.7M679 864V971.7M686.1 864V971.7M692.3 864V971.7M699.1 864V971.7M705.8 864V971.7M712.1 864V971.7M718.8 864V971.7M725.6 864V971.7M732.4 864V971.7M738.6 864V971.7" stroke="#cdcdcd" stroke-width="1.3" fill="none"/>
<rect x="98.5" y="863.5" width="758" height="109" fill="none" stroke="#333" stroke-width="1"/>
<text x="165.5" y="857.6" text-anchor="middle" font-family="'Liberation Sans', Arial, sans-serif" font-size="10" fill="#111">120</text>
<text x="302.5" y="857.6" text-anchor="middle" font-family="'Liberation Sans', Arial, sans-serif" font-size="10" fill="#111">200</text>
<text x="439.5" y="857.6" text-anchor="middle" font-family="'Liberation Sans', Arial, sans-serif" font-size="10" fill="#111">280</text>
<text x="576.5" y="857.6" text-anchor="middle" font-family="'Liberation Sans', Arial, sans-serif" font-size="10" fill="#111">360</text>
<text x="713.5" y="857.6" text-anchor="middle" font-family="'Liberation Sans', Arial, sans-serif" font-size="10" fill="#111">440</text>
<text x="850.5" y="857.6" text-anchor="middle" font-family="'Liberation Sans', Arial, sans-serif" font-size="10" fill="#111">520</text>
<text x="93.6" y="975.7" text-anchor="end" font-family="'Liberation Sans', Arial, sans-serif" font-size="10" fill="#111">0</text>
<text x="93.6" y="941.8" text-anchor="end" font-family="'Liberation Sans', Arial, sans-serif" font-size="10" fill="#111">4000</text>
<text x="93.6" y="907.9" text-anchor="end" font-family="'Liberation Sans', Arial, sans-serif" font-size="10" fill="#111">8000</text>
<text x="93.6" y="874" text-anchor="end" font-family="'Liberation Sans', Arial, sans-serif" font-size="10" fill="#111">12000</text>
<path d="M165.5 860.2V866.6M233.5 860.2V866.6M302.5 860.2V866.6M370.5 860.2V866.6M439.5 860.2V866.6M507.5 860.2V866.6M576.5 860.2V866.6M644.5 860.2V866.6M713.5 860.2V866.6M781.5 860.2V866.6M850.5 860.2V866.6M95.4 972.5H101.8M95.4 955.5H101.8M95.4 938.5H101.8M95.4 921.5H101.8M95.4 904.5H101.8M95.4 887.5H101.8M95.4 870.5H101.8" stroke="#555" stroke-width="1" fill="none"/>
<polyline points="99,972.2 99.25,972.2 99.5,972.2 99.75,972.2 100,972.2 100.25,972.2 100.5,972.2 100.75,972.2 101,972.2 101.25,972.2 101.5,972.2 101.75,972.2 102,972.2 102.25,972.2 102.5,972.2 102.75,972.2 103,972.2 103.25,972.2 103.5,972.2 103.75,972.19 104,972.19 104.25,972.19 104.5,972.19 104.75,972.19 105,972.19 105.25,972.19 105.5,972.19 105.75,972.19 106,972.19 106.25,972.19 106.5,972.19 106.75,972.19 107,972.19 107.25,972.19 107.5,972.19 107.75,972.19 108,972.19 108.25,972.19 108.5,972.19 108.75,972.19 109,972.19 109.25,972.19 109.5,972.19 109.75,972.19 110,972.19 110.25,972.19 110.5,972.19 110.75,972.19 111,972.19 111.25,972.19 111.5,972.19 111.75,972.19 112,972.19 112.25,972.19 112.5,972.19 112.75,972.19 113,972.19 113.25,972.19 113.5,972.19 113.75,972.19 114,972.19 114.25,972.19 114.5,972.19 114.75,972.19 115,972.19 115.25,972.19 115.5,972.19 115.75,972.19 116,972.19 116.25,972.19 116.5,972.19 116.75,972.19 117,972.19 117.25,972.19 117.5,972.19 117.75,972.19 118,972.19 118.25,972.19 118.5,972.19 118.75,972.19 119,972.19 119.25,972.19 119.5,972.19 119.75,972.19 120,972.19 120.25,972.19 120.5,972.19 120.75,972.19 121,972.19 121.25,972.19 121.5,972.19 121.75,972.19 122,972.18 122.25,972.18 122.5,972.18 122.75,972.18 123,972.18 123.25,972.18 123.5,972.18 123.75,972.18 124,972.18 124.25,972.18 124.5,972.18 124.75,972.18 125,972.18 125.25,972.18 125.5,972.18 125.75,972.18 126,972.18 126.25,972.18 126.5,972.18 126.75,972.17 127,972.17 127.25,972.17 127.5,972.17 127.75,972.17 128,972.17 128.25,972.17 128.5,972.17 128.75,972.17 129,972.17 129.25,972.17 129.5,972.16 129.75,972.16 130,972.16 130.25,972.16 130.5,972.16 130.75,972.16 131,972.15 131.25,972.15 131.5,972.15 131.75,972.15 132,972.14 132.25,972.14 132.5,972.14 132.75,972.14 133,972.13 133.25,972.13 133.5,972.13 133.75,972.12 134,972.12 134.25,972.11 134.5,972.11 134.75,972.1 135,972.09 135.25,972.08 135.5,972.08 135.75,972.07 136,972.06 136.25,972.05 136.5,972.03 136.75,972.02 137,972 137.25,971.98 137.5,971.96 137.75,971.94 138,971.91 138.25,971.87 138.5,971.84 138.75,971.79 139,971.74 139.25,971.68 139.5,971.6 139.75,971.5 140,971.36 140.25,971.05 140.5,970.33 140.75,968.72 141,965.65 141.25,961.05 141.5,955.9 141.75,952.23 142,951.86 142.25,954.98 142.5,960.01 142.75,964.84 143,968.24 143.25,970.1 143.5,970.95 143.75,971.31 144,971.48 144.25,971.58 144.5,971.66 144.75,971.73 145,971.78 145.25,971.83 145.5,971.87 145.75,971.9 146,971.93 146.25,971.96 146.5,971.98 146.75,972 147,972.01 147.25,972.03 147.5,972.04 147.75,972.05 148,972.06 148.25,972.07 148.5,972.08 148.75,972.09 149,972.1 149.25,972.1 149.5,972.11 149.75,972.11 150,972.12 150.25,972.12 150.5,972.13 150.75,972.13 151,972.13 151.25,972.14 151.5,972.14 151.75,972.14 152,972.15 152.25,972.15 152.5,972.15 152.75,972.15 153,972.15 153.25,972.16 153.5,972.16 153.75,972.16 154,972.16 154.25,972.16 154.5,972.16 154.75,972.16 155,972.17 155.25,972.17 155.5,972.17 155.75,972.17 156,972.17 156.25,972.17 156.5,972.17 156.75,972.17 157,972.17 157.25,972.17 157.5,972.17 157.75,972.17 158,972.18 158.25,972.18 158.5,972.18 158.75,972.18 159,972.18 159.25,972.18 159.5,972.18 159.75,972.18 160,972.18 160.25,972.18 160.5,972.18 160.75,972.18 161,972.18 161.25,972.18 161.5,972.18 161.75,972.18 162,972.18 162.25,972.18 162.5,972.18 162.75,972.18 163,972.18 163.25,972.18 163.5,972.18 163.75,972.18 164,972.18 164.25,972.18 164.5,972.18 164.75,972.18 165,972.18 165.25,972.18 165.5,972.18 165.75,972.19 166,972.19 166.25,972.19 166.5,972.19 166.75,972.19 167,972.19 167.25,972.19 167.5,972.19 167.75,972.19 168,972.19 168.25,972.19 168.5,972.19 168.75,972.19 169,972.19 169.25,972.19 169.5,972.19 169.75,972.19 170,972.19 170.25,972.19 170.5,972.19 170.75,972.19 171,972.19 171.25,972.19 171.5,972.19 171.75,972.19 172,972.19 172.25,972.19 172.5,972.19 172.75,972.19 173,972.19 173.25,972.19 173.5,972.19 173.75,972.19 174,972.19 174.25,972.19 174.5,972.19 174.75,972.19 175,972.19 175.25,972.19 175.5,972.19 175.75,972.19 176,972.19 176.25,972.19 176.5,972.19 176.75,972.19 177,972.19 177.25,972.19 177.5,972.19 177.75,972.19 178,972.19 178.25,972.19 178.5,972.19 178.75,972.19 179,972.19 179.25,972.19 179.5,972.19 179.75,972.19 180,972.19 180.25,972.19 180.5,972.19 180.75,972.19 181,972.19 181.25,972.19 181.5,972.19 181.75,972.19 182,972.19 182.25,972.19 182.5,972.19 182.75,972.18 183,972.18 183.25,972.18 183.5,972.18 183.75,972.18 184,972.18 184.25,972.18 184.5,972.18 184.75,972.18 185,972.18 185.25,972.18 185.5,972.18 185.75,972.18 186,972.18 186.25,972.18 186.5,972.18 186.75,972.18 187,972.18 187.25,972.18 187.5,972.18 187.75,972.18 188,972.18 188.25,972.18 188.5,972.18 188.75,972.18 189,972.18 189.25,972.18 189.5,972.18 189.75,972.18 190,972.18 190.25,972.18 190.5,972.18 190.75,972.18 191,972.18 191.25,972.18 191.5,972.18 191.75,972.18 192,972.18 192.25,972.18 192.5,972.17 192.75,972.17 193,972.17 193.25,972.17 193.5,972.17 193.75,972.17 194,972.17 194.25,972.17 194.5,972.17 194.75,972.17 195,972.17 195.25,972.17 195.5,972.17 195.75,972.17 196,972.17 196.25,972.17 196.5,972.17 196.75,972.16 197,972.16 197.25,972.16 197.5,972.16 197.75,972.16 198,972.16 198.25,972.16 198.5,972.16 198.75,972.16 199,972.15 199.25,972.15 199.5,972.15 199.75,972.15 200,972.15 200.25,972.14 200.5,972.14 200.75,972.14 201,972.13 201.25,972.13 201.5,972.12 201.75,972.12 202,972.11 202.25,972.1 202.5,972.09 202.75,972.08 203,972.07 203.25,972.05 203.5,972.04 203.75,972.02 204,972 204.25,971.97 204.5,971.95 204.75,971.92 205,971.89 205.25,971.85 205.5,971.81 205.75,971.77 206,971.73 206.25,971.69 206.5,971.64 206.75,971.59 207,971.54 207.25,971.49 207.5,971.45 207.75,971.4 208,971.36 208.25,971.32 208.5,971.28 208.75,971.24 209,971.21 209.25,971.19 209.5,971.17 209.75,971.16 210,971.15 210.25,971.15 210.5,971.15 210.75,971.16 211,971.18 211.25,971.19 211.5,971.21 211.75,971.23 212,971.24 212.25,971.24 212.5,971.23 212.75,971.2 213,971.14 213.25,971.05 213.5,970.93 213.75,970.79 214,970.63 214.25,970.46 214.5,970.32 214.75,970.21 215,970.15 215.25,970.16 215.5,970.22 215.75,970.35 216,970.52 216.25,970.72 216.5,970.93 216.75,971.13 217,971.3 217.25,971.45 217.5,971.56 217.75,971.64 218,971.69 218.25,971.71 218.5,971.72 218.75,971.7 219,971.68 219.25,971.63 219.5,971.58 219.75,971.49 220,971.34 220.25,971 220.5,970.19 220.75,968.47 221,965.47 221.25,961.43 221.5,957.53 221.75,955.51 222,956.41 222.25,959.76 222.5,963.94 222.75,967.43 223,969.64 223.25,970.76 223.5,971.25 223.75,971.45 224,971.55 224.25,971.62 224.5,971.66 224.75,971.7 225,971.71 225.25,971.71 225.5,971.68 225.75,971.64 226,971.58 226.25,971.5 226.5,971.4 226.75,971.3 227,971.21 227.25,971.13 227.5,971.07 227.75,971.05 228,971.07 228.25,971.12 228.5,971.2 228.75,971.3 229,971.41 229.25,971.51 229.5,971.61 229.75,971.7 230,971.77 230.25,971.81 230.5,971.85 230.75,971.86 231,971.87 231.25,971.86 231.5,971.85 231.75,971.83 232,971.8 232.25,971.76 232.5,971.72 232.75,971.67 233,971.6 233.25,971.51 233.5,971.36 233.75,971 234,970.16 234.25,968.37 234.5,965.25 234.75,961.06 235,957.01 235.25,954.91 235.5,955.85 235.75,959.33 236,963.67 236.25,967.3 236.5,969.6 236.75,970.77 237,971.27 237.25,971.49 237.5,971.6 237.75,971.68 238,971.74 238.25,971.79 238.5,971.84 238.75,971.87 239,971.91 239.25,971.93 239.5,971.96 239.75,971.98 240,972 240.25,972.01 240.5,972.03 240.75,972.04 241,972.05 241.25,972.06 241.5,972.07 241.75,972.08 242,972.09 242.25,972.09 242.5,972.1 242.75,972.1 243,972.11 243.25,972.11 243.5,972.12 243.75,972.12 244,972.13 244.25,972.13 244.5,972.13 244.75,972.13 245,972.14 245.25,972.14 245.5,972.14 245.75,972.14 246,972.15 246.25,972.15 246.5,972.15 246.75,972.15 247,972.15 247.25,972.15 247.5,972.16 247.75,972.16 248,972.16 248.25,972.16 248.5,972.16 248.75,972.16 249,972.16 249.25,972.16 249.5,972.17 249.75,972.17 250,972.17 250.25,972.17 250.5,972.17 250.75,972.17 251,972.17 251.25,972.17 251.5,972.17 251.75,972.17 252,972.17 252.25,972.17 252.5,972.17 252.75,972.17 253,972.18 253.25,972.18 253.5,972.18 253.75,972.18 254,972.18 254.25,972.18 254.5,972.18 254.75,972.18 255,972.18 255.25,972.18 255.5,972.18 255.75,972.18 256,972.18 256.25,972.18 256.5,972.18 256.75,972.18 257,972.18 257.25,972.18 257.5,972.18 257.75,972.18 258,972.18 258.25,972.18 258.5,972.18 258.75,972.18 259,972.18 259.25,972.18 259.5,972.18 259.75,972.18 260,972.18 260.25,972.18 260.5,972.18 260.75,972.18 261,972.18 261.25,972.19 261.5,972.19 261.75,972.19 262,972.19 262.25,972.19 262.5,972.19 262.75,972.19 263,972.19 263.25,972.19 263.5,972.19 263.75,972.19 264,972.19 264.25,972.19 264.5,972.19 264.75,972.19 265,972.19 265.25,972.19 265.5,972.19 265.75,972.19 266,972.19 266.25,972.19 266.5,972.19 266.75,972.19 267,972.19 267.25,972.19 267.5,972.19 267.75,972.19 268,972.19 268.25,972.19 268.5,972.19 268.75,972.19 269,972.19 269.25,972.19 269.5,972.19 269.75,972.19 270,972.19 270.25,972.19 270.5,972.19 270.75,972.19 271,972.19 271.25,972.19 271.5,972.19 271.75,972.19 272,972.19 272.25,972.19 272.5,972.19 272.75,972.19 273,972.19 273.25,972.19 273.5,972.19 273.75,972.19 274,972.19 274.25,972.19 274.5,972.19 274.75,972.19 275,972.19 275.25,972.19 275.5,972.19 275.75,972.19 276,972.19 276.25,972.19 276.5,972.19 276.75,972.19 277,972.19 277.25,972.19 277.5,972.19 277.75,972.19 278,972.19 278.25,972.19 278.5,972.19 278.75,972.19 279,972.19 279.25,972.19 279.5,972.19 279.75,972.19 280,972.19 280.25,972.19 280.5,972.19 280.75,972.19 281,972.19 281.25,972.19 281.5,972.19 281.75,972.19 282,972.19 282.25,972.19 282.5,972.19 282.75,972.19 283,972.19 283.25,972.19 283.5,972.19 283.75,972.19 284,972.19 284.25,972.19 284.5,972.19 284.75,972.19 285,972.19 285.25,972.19 285.5,972.19 285.75,972.19 286,972.19 286.25,972.19 286.5,972.19 286.75,972.19 287,972.19 287.25,972.19 287.5,972.19 287.75,972.19 288,972.19 288.25,972.19 288.5,972.19 288.75,972.19 289,972.19 289.25,972.19 289.5,972.19 289.75,972.19 290,972.19 290.25,972.19 290.5,972.19 290.75,972.19 291,972.19 291.25,972.19 291.5,972.19 291.75,972.19 292,972.19 292.25,972.19 292.5,972.19 292.75,972.19 293,972.19 293.25,972.19 293.5,972.19 293.75,972.19 294,972.18 294.25,972.18 294.5,972.18 294.75,972.18 295,972.18 295.25,972.18 295.5,972.18 295.75,972.18 296,972.18 296.25,972.18 296.5,972.18 296.75,972.18 297,972.18 297.25,972.18 297.5,972.18 297.75,972.18 298,972.18 298.25,972.18 298.5,972.18 298.75,972.18 299,972.18 299.25,972.18 299.5,972.18 299.75,972.18 300,972.18 300.25,972.17 300.5,972.17 300.75,972.17 301,972.17 301.25,972.17 301.5,972.17 301.75,972.17 302,972.17 302.25,972.17 302.5,972.17 302.75,972.17 303,972.16 303.25,972.16 303.5,972.16 303.75,972.16 304,972.16 304.25,972.16 304.5,972.16 304.75,972.15 305,972.15 305.25,972.15 305.5,972.15 305.75,972.14 306,972.14 306.25,972.14 306.5,972.14 306.75,972.13 307,972.13 307.25,972.13 307.5,972.12 307.75,972.12 308,972.11 308.25,972.11 308.5,972.1 308.75,972.09 309,972.08 309.25,972.08 309.5,972.07 309.75,972.06 310,972.04 310.25,972.03 310.5,972.01 310.75,972 311,971.98 311.25,971.95 311.5,971.93 311.75,971.9 312,971.86 312.25,971.82 312.5,971.77 312.75,971.71 313,971.64 313.25,971.55 313.5,971.42 313.75,971.13 314,970.47 314.25,968.97 314.5,966.13 314.75,961.86 315,957.09 315.25,953.68 315.5,953.33 315.75,956.23 316,960.9 316.25,965.38 316.5,968.52 316.75,970.25 317,971.04 317.25,971.38 317.5,971.53 317.75,971.63 318,971.7 318.25,971.76 318.5,971.81 318.75,971.85 319,971.89 319.25,971.92 319.5,971.95 319.75,971.97 320,971.99 320.25,972.01 320.5,972.03 320.75,972.04 321,972.05 321.25,972.06 321.5,972.07 321.75,972.08 322,972.09 322.25,972.1 322.5,972.1 322.75,972.11 323,972.12 323.25,972.12 323.5,972.12 323.75,972.13 324,972.13 324.25,972.14 324.5,972.14 324.75,972.14 325,972.14 325.25,972.15 325.5,972.15 325.75,972.15 326,972.15 326.25,972.16 326.5,972.16 326.75,972.16 327,972.16 327.25,972.16 327.5,972.16 327.75,972.16 328,972.17 328.25,972.17 328.5,972.17 328.75,972.17 329,972.17 329.25,972.17 329.5,972.17 329.75,972.17 330,972.17 330.25,972.17 330.5,972.18 330.75,972.18 331,972.18 331.25,972.18 331.5,972.18 331.75,972.18 332,972.18 332.25,972.18 332.5,972.18 332.75,972.18 333,972.18 333.25,972.18 333.5,972.18 333.75,972.18 334,972.18 334.25,972.18 334.5,972.18 334.75,972.18 335,972.18 335.25,972.18 335.5,972.18 335.75,972.18 336,972.18 336.25,972.19 336.5,972.19 336.75,972.19 337,972.19 337.25,972.19 337.5,972.19 337.75,972.19 338,972.19 338.25,972.19 338.5,972.19 338.75,972.19 339,972.19 339.25,972.19 339.5,972.19 339.75,972.19 340,972.19 340.25,972.19 340.5,972.19 340.75,972.19 341,972.19 341.25,972.19 341.5,972.19 341.75,972.19 342,972.19 342.25,972.19 342.5,972.19 342.75,972.19 343,972.19 343.25,972.19 343.5,972.19 343.75,972.19 344,972.19 344.25,972.19 344.5,972.19 344.75,972.19 345,972.19 345.25,972.19 345.5,972.19 345.75,972.19 346,972.19 346.25,972.19 346.5,972.19 346.75,972.19 347,972.19 347.25,972.19 347.5,972.19 347.75,972.19 348,972.19 348.25,972.19 348.5,972.19 348.75,972.19 349,972.19 349.25,972.19 349.5,972.19 349.75,972.19 350,972.19 350.25,972.19 350.5,972.19 350.75,972.19 351,972.19 351.25,972.19 351.5,972.19 351.75,972.19 352,972.19 352.25,972.19 352.5,972.19 352.75,972.19 353,972.19 353.25,972.19 353.5,972.19 353.75,972.19 354,972.19 354.25,972.19 354.5,972.19 354.75,972.19 355,972.19 355.25,972.19 355.5,972.19 355.75,972.19 356,972.19 356.25,972.19 356.5,972.19 356.75,972.19 357,972.19 357.25,972.19 357.5,972.19 357.75,972.19 358,972.19 358.25,972.19 358.5,972.19 358.75,972.19 359,972.19 359.25,972.19 359.5,972.19 359.75,972.19 360,972.19 360.25,972.19 360.5,972.19 360.75,972.19 361,972.19 361.25,972.19 361.5,972.19 361.75,972.19 362,972.19 362.25,972.19 362.5,972.19 362.75,972.19 363,972.19 363.25,972.19 363.5,972.19 363.75,972.19 364,972.19 364.25,972.19 364.5,972.19 364.75,972.19 365,972.19 365.25,972.19 365.5,972.19 365.75,972.19 366,972.19 366.25,972.19 366.5,972.19 366.75,972.19 367,972.19 367.25,972.19 367.5,972.19 367.75,972.19 368,972.19 368.25,972.19 368.5,972.19 368.75,972.19 369,972.19 369.25,972.19 369.5,972.19 369.75,972.19 370,972.19 370.25,972.19 370.5,972.19 370.75,972.19 371,972.19 371.25,972.19 371.5,972.19 371.75,972.19 372,972.19 372.25,972.19 372.5,972.19 372.75,972.19 373,972.19 373.25,972.19 373.5,972.19 373.75,972.19 374,972.19 374.25,972.19 374.5,972.19 374.75,972.19 375,972.19 375.25,972.19 375.5,972.19 375.75,972.19 376,972.19 376.25,972.19 376.5,972.19 376.75,972.19 377,972.19 377.25,972.19 377.5,972.19 377.75,972.19 378,972.19 378.25,972.19 378.5,972.19 378.75,972.19 379,972.19 379.25,972.19 379.5,972.19 379.75,972.19 380,972.19 380.25,972.19 380.5,972.19 380.75,972.19 381,972.19 381.25,972.19 381.5,972.19 381.75,972.19 382,972.19 382.25,972.19 382.5,972.19 382.75,972.19 383,972.19 383.25,972.19 383.5,972.19 383.75,972.19 384,972.19 384.25,972.19 384.5,972.19 384.75,972.19 385,972.19 385.25,972.19 385.5,972.19 385.75,972.18 386,972.18 386.25,972.18 386.5,972.18 386.75,972.18 387,972.18 387.25,972.18 387.5,972.18 387.75,972.18 388,972.18 388.25,972.18 388.5,972.18 388.75,972.18 389,972.18 389.25,972.18 389.5,972.18 389.75,972.18 390,972.18 390.25,972.18 390.5,972.18 390.75,972.18 391,972.18 391.25,972.18 391.5,972.18 391.75,972.18 392,972.18 392.25,972.18 392.5,972.18 392.75,972.18 393,972.18 393.25,972.18 393.5,972.18 393.75,972.17 394,972.17 394.25,972.17 394.5,972.17 394.75,972.17 395,972.17 395.25,972.17 395.5,972.17 395.75,972.17 396,972.17 396.25,972.17 396.5,972.17 396.75,972.17 397,972.17 397.25,972.17 397.5,972.17 397.75,972.16 398,972.16 398.25,972.16 398.5,972.16 398.75,972.16 399,972.16 399.25,972.16 399.5,972.16 399.75,972.16 400,972.16 400.25,972.15 400.5,972.15 400.75,972.15 401,972.15 401.25,972.15 401.5,972.15 401.75,972.14 402,972.14 402.25,972.14 402.5,972.14 402.75,972.14 403,972.13 403.25,972.13 403.5,972.13 403.75,972.13 404,972.12 404.25,972.12 404.5,972.12 404.75,972.11 405,972.11 405.25,972.11 405.5,972.1 405.75,972.1 406,972.09 406.25,972.08 406.5,972.08 406.75,972.07 407,972.06 407.25,972.05 407.5,972.05 407.75,972.03 408,972.02 408.25,972.01 408.5,971.99 408.75,971.98 409,971.96 409.25,971.93 409.5,971.9 409.75,971.83 410,971.69 410.25,971.38 410.5,970.8 410.75,969.94 411,968.98 411.25,968.28 411.5,968.2 411.75,968.76 412,969.67 412.25,970.55 412.5,971.15 412.75,971.47 413,971.6 413.25,971.63 413.5,971.63 413.75,971.61 414,971.57 414.25,971.53 414.5,971.48 414.75,971.42 415,971.34 415.25,971.25 415.5,971.14 415.75,971.01 416,970.85 416.25,970.64 416.5,970.31 416.75,969.63 417,968.09 417.25,964.78 417.5,958.59 417.75,949.13 418,937.86 418.25,928.32 418.5,924.55 418.75,928.33 419,937.86 419.25,949.14 419.5,958.6 419.75,964.79 420,968.11 420.25,969.65 420.5,970.33 420.75,970.67 421,970.88 421.25,971.04 421.5,971.18 421.75,971.3 422,971.39 422.25,971.48 422.5,971.55 422.75,971.61 423,971.67 423.25,971.71 423.5,971.75 423.75,971.79 424,971.82 424.25,971.85 424.5,971.88 424.75,971.9 425,971.92 425.25,971.94 425.5,971.96 425.75,971.97 426,971.99 426.25,972 426.5,972.01 426.75,972.02 427,972.03 427.25,972.04 427.5,972.05 427.75,972.06 428,972.06 428.25,972.07 428.5,972.08 428.75,972.08 429,972.09 429.25,972.09 429.5,972.1 429.75,972.1 430,972.1 430.25,972.11 430.5,972.11 430.75,972.12 431,972.12 431.25,972.12 431.5,972.12 431.75,972.13 432,972.13 432.25,972.13 432.5,972.13 432.75,972.14 433,972.14 433.25,972.14 433.5,972.14 433.75,972.14 434,972.15 434.25,972.15 434.5,972.15 434.75,972.15 435,972.15 435.25,972.15 435.5,972.15 435.75,972.16 436,972.16 436.25,972.16 436.5,972.16 436.75,972.16 437,972.16 437.25,972.16 437.5,972.16 437.75,972.16 438,972.16 438.25,972.17 438.5,972.17 438.75,972.17 439,972.17 439.25,972.17 439.5,972.17 439.75,972.17 440,972.17 440.25,972.17 440.5,972.17 440.75,972.17 441,972.17 441.25,972.17 441.5,972.17 441.75,972.17 442,972.18 442.25,972.18 442.5,972.18 442.75,972.18 443,972.18 443.25,972.18 443.5,972.18 443.75,972.18 444,972.18 444.25,972.18 444.5,972.18 444.75,972.18 445,972.18 445.25,972.18 445.5,972.18 445.75,972.18 446,972.18 446.25,972.18 446.5,972.18 446.75,972.18 447,972.18 447.25,972.18 447.5,972.18 447.75,972.18 448,972.18 448.25,972.18 448.5,972.18 448.75,972.18 449,972.18 449.25,972.18 449.5,972.18 449.75,972.19 450,972.19 450.25,972.19 450.5,972.19 450.75,972.19 451,972.19 451.25,972.19 451.5,972.19 451.75,972.19 452,972.19 452.25,972.19 452.5,972.19 452.75,972.19 453,972.19 453.25,972.19 453.5,972.19 453.75,972.19 454,972.19 454.25,972.19 454.5,972.19 454.75,972.19 455,972.19 455.25,972.19 455.5,972.19 455.75,972.19 456,972.19 456.25,972.19 456.5,972.19 456.75,972.19 457,972.19 457.25,972.19 457.5,972.19 457.75,972.19 458,972.19 458.25,972.19 458.5,972.19 458.75,972.19 459,972.19 459.25,972.19 459.5,972.19 459.75,972.19 460,972.19 460.25,972.19 460.5,972.19 460.75,972.19 461,972.19 461.25,972.19 461.5,972.19 461.75,972.19 462,972.19 462.25,972.19 462.5,972.19 462.75,972.19 463,972.19 463.25,972.19 463.5,972.19 463.75,972.19 464,972.19 464.25,972.19 464.5,972.19 464.75,972.19 465,972.19 465.25,972.19 465.5,972.19 465.75,972.19 466,972.19 466.25,972.19 466.5,972.19 466.75,972.19 467,972.19 467.25,972.19 467.5,972.19 467.75,972.19 468,972.19 468.25,972.19 468.5,972.19 468.75,972.19 469,972.19 469.25,972.19 469.5,972.19 469.75,972.19 470,972.19 470.25,972.19 470.5,972.19 470.75,972.19 471,972.19 471.25,972.19 471.5,972.19 471.75,972.19 472,972.19 472.25,972.19 472.5,972.19 472.75,972.19 473,972.19 473.25,972.19 473.5,972.19 473.75,972.19 474,972.19 474.25,972.19 474.5,972.19 474.75,972.19 475,972.19 475.25,972.19 475.5,972.19 475.75,972.19 476,972.19 476.25,972.19 476.5,972.19 476.75,972.19 477,972.19 477.25,972.19 477.5,972.19 477.75,972.19 478,972.19 478.25,972.19 478.5,972.19 478.75,972.19 479,972.19 479.25,972.19 479.5,972.19 479.75,972.19 480,972.19 480.25,972.19 480.5,972.19 480.75,972.19 481,972.19 481.25,972.19 481.5,972.19 481.75,972.19 482,972.19 482.25,972.19 482.5,972.19 482.75,972.19 483,972.19 483.25,972.19 483.5,972.19 483.75,972.19 484,972.19 484.25,972.19 484.5,972.19 484.75,972.19 485,972.19 485.25,972.19 485.5,972.19 485.75,972.19 486,972.19 486.25,972.19 486.5,972.19 486.75,972.19 487,972.19 487.25,972.19 487.5,972.19 487.75,972.19 488,972.19 488.25,972.19 488.5,972.19 488.75,972.19 489,972.19 489.25,972.19 489.5,972.19 489.75,972.19 490,972.19 490.25,972.19 490.5,972.19 490.75,972.19 491,972.19 491.25,972.19 491.5,972.19 491.75,972.19 492,972.19 492.25,972.19 492.5,972.19 492.75,972.19 493,972.19 493.25,972.19 493.5,972.19 493.75,972.19 494,972.19 494.25,972.19 494.5,972.19 494.75,972.19 495,972.19 495.25,972.19 495.5,972.19 495.75,972.19 496,972.19 496.25,972.19 496.5,972.19 496.75,972.19 497,972.19 497.25,972.19 497.5,972.19 497.75,972.19 498,972.19 498.25,972.19 498.5,972.19 498.75,972.19 499,972.19 499.25,972.19 499.5,972.19 499.75,972.19 500,972.19 500.25,972.19 500.5,972.19 500.75,972.19 501,972.19 501.25,972.19 501.5,972.19 501.75,972.19 502,972.19 502.25,972.19 502.5,972.19 502.75,972.19 503,972.19 503.25,972.19 503.5,972.19 503.75,972.19 504,972.19 504.25,972.19 504.5,972.19 504.75,972.19 505,972.19 505.25,972.19 505.5,972.19 505.75,972.19 506,972.19 506.25,972.19 506.5,972.19 506.75,972.19 507,972.19 507.25,972.19 507.5,972.19 507.75,972.19 508,972.19 508.25,972.19 508.5,972.19 508.75,972.19 509,972.19 509.25,972.19 509.5,972.19 509.75,972.19 510,972.19 510.25,972.19 510.5,972.19 510.75,972.19 511,972.19 511.25,972.19 511.5,972.19 511.75,972.19 512,972.19 512.25,972.19 512.5,972.19 512.75,972.19 513,972.19 513.25,972.19 513.5,972.19 513.75,972.19 514,972.19 514.25,972.19 514.5,972.19 514.75,972.19 515,972.19 515.25,972.19 515.5,972.19 515.75,972.19 516,972.19 516.25,972.19 516.5,972.19 516.75,972.19 517,972.19 517.25,972.19 517.5,972.19 517.75,972.19 518,972.19 518.25,972.19 518.5,972.19 518.75,972.19 519,972.19 519.25,972.19 519.5,972.19 519.75,972.19 520,972.19 520.25,972.19 520.5,972.19 520.75,972.18 521,972.18 521.25,972.18 521.5,972.18 521.75,972.18 522,972.18 522.25,972.18 522.5,972.18 522.75,972.18 523,972.18 523.25,972.18 523.5,972.18 523.75,972.18 524,972.18 524.25,972.18 524.5,972.18 524.75,972.18 525,972.18 525.25,972.18 525.5,972.18 525.75,972.18 526,972.18 526.25,972.18 526.5,972.18 526.75,972.18 527,972.18 527.25,972.17 527.5,972.17 527.75,972.17 528,972.17 528.25,972.17 528.5,972.17 528.75,972.17 529,972.17 529.25,972.17 529.5,972.17 529.75,972.17 530,972.17 530.25,972.17 530.5,972.16 530.75,972.16 531,972.16 531.25,972.16 531.5,972.16 531.75,972.16 532,972.16 532.25,972.15 532.5,972.15 532.75,972.15 533,972.15 533.25,972.15 533.5,972.15 533.75,972.14 534,972.14 534.25,972.14 534.5,972.14 534.75,972.13 535,972.13 535.25,972.13 535.5,972.12 535.75,972.12 536,972.11 536.25,972.11 536.5,972.1 536.75,972.1 537,972.09 537.25,972.08 537.5,972.07 537.75,972.07 538,972.06 538.25,972.05 538.5,972.03 538.75,972.02 539,972 539.25,971.99 539.5,971.96 539.75,971.94 540,971.91 540.25,971.88 540.5,971.84 540.75,971.8 541,971.75 541.25,971.69 541.5,971.61 541.75,971.47 542,971.19 542.25,970.53 542.5,969.07 542.75,966.42 543,962.65 543.25,958.73 543.5,956.29 543.75,956.58 544,959.44 544.25,963.45 544.5,967.04 544.75,969.43 545,970.68 545.25,971.24 545.5,971.47 545.75,971.59 546,971.66 546.25,971.71 546.5,971.75 546.75,971.79 547,971.81 547.25,971.83 547.5,971.83 547.75,971.81 548,971.76 548.25,971.67 548.5,971.56 548.75,971.45 549,971.37 549.25,971.35 549.5,971.4 549.75,971.49 550,971.61 550.25,971.71 550.5,971.79 550.75,971.83 551,971.84 551.25,971.84 551.5,971.83 551.75,971.81 552,971.78 552.25,971.74 552.5,971.7 552.75,971.65 553,971.59 553.25,971.52 553.5,971.44 553.75,971.32 554,971.14 554.25,970.77 554.5,969.93 554.75,968.12 555,964.74 555.25,959.58 555.5,953.42 555.75,948.21 556,946.15 556.25,948.21 556.5,953.42 556.75,959.58 557,964.75 557.25,968.14 557.5,969.95 557.75,970.79 558,971.16 558.25,971.35 558.5,971.46 558.75,971.55 559,971.63 559.25,971.69 559.5,971.75 559.75,971.79 560,971.83 560.25,971.87 560.5,971.9 560.75,971.92 561,971.95 561.25,971.97 561.5,971.98 561.75,972 562,972.01 562.25,972.03 562.5,972.04 562.75,972.05 563,972.06 563.25,972.07 563.5,972.07 563.75,972.08 564,972.09 564.25,972.09 564.5,972.1 564.75,972.1 565,972.11 565.25,972.11 565.5,972.12 565.75,972.12 566,972.13 566.25,972.13 566.5,972.13 566.75,972.13 567,972.14 567.25,972.14 567.5,972.14 567.75,972.14 568,972.15 568.25,972.15 568.5,972.15 568.75,972.15 569,972.15 569.25,972.15 569.5,972.16 569.75,972.16 570,972.16 570.25,972.16 570.5,972.16 570.75,972.16 571,972.16 571.25,972.16 571.5,972.17 571.75,972.17 572,972.17 572.25,972.17 572.5,972.17 572.75,972.17 573,972.17 573.25,972.17 573.5,972.17 573.75,972.17 574,972.17 574.25,972.17 574.5,972.18 574.75,972.18 575,972.18 575.25,972.18 575.5,972.18 575.75,972.18 576,972.18 576.25,972.18 576.5,972.18 576.75,972.18 577,972.18 577.25,972.18 577.5,972.18 577.75,972.18 578,972.18 578.25,972.18 578.5,972.18 578.75,972.18 579,972.18 579.25,972.18 579.5,972.18 579.75,972.18 580,972.18 580.25,972.18 580.5,972.18 580.75,972.19 581,972.19 581.25,972.19 581.5,972.19 581.75,972.19 582,972.19 582.25,972.19 582.5,972.19 582.75,972.19 583,972.19 583.25,972.19 583.5,972.19 583.75,972.19 584,972.19 584.25,972.19 584.5,972.19 584.75,972.19 585,972.19 585.25,972.19 585.5,972.19 585.75,972.19 586,972.19 586.25,972.19 586.5,972.19 586.75,972.19 587,972.19 587.25,972.19 587.5,972.19 587.75,972.19 588,972.19 588.25,972.19 588.5,972.19 588.75,972.19 589,972.19 589.25,972.19 589.5,972.19 589.75,972.19 590,972.19 590.25,972.19 590.5,972.19 590.75,972.19 591,972.19 591.25,972.19 591.5,972.19 591.75,972.19 592,972.19 592.25,972.19 592.5,972.19 592.75,972.19 593,972.19 593.25,972.19 593.5,972.19 593.75,972.19 594,972.19 594.25,972.19 594.5,972.19 594.75,972.19 595,972.19 595.25,972.19 595.5,972.19 595.75,972.19 596,972.19 596.25,972.19 596.5,972.19 596.75,972.19 597,972.19 597.25,972.19 597.5,972.19 597.75,972.19 598,972.19 598.25,972.19 598.5,972.19 598.75,972.19 599,972.19 599.25,972.19 599.5,972.19 599.75,972.19 600,972.19 600.25,972.19 600.5,972.19 600.75,972.19 601,972.19 601.25,972.19 601.5,972.19 601.75,972.19 602,972.19 602.25,972.2 602.5,972.2 602.75,972.2 603,972.2 603.25,972.2 603.5,972.2 603.75,972.2 604,972.2 604.25,972.2 604.5,972.2 604.75,972.2 605,972.2 605.25,972.2 605.5,972.2 605.75,972.2 606,972.2 606.25,972.2 606.5,972.2 606.75,972.2 607,972.2 607.25,972.2 607.5,972.2 607.75,972.2 608,972.2 608.25,972.2 608.5,972.2 608.75,972.2 609,972.2 609.25,972.2 609.5,972.2 609.75,972.2 610,972.2 610.25,972.2 610.5,972.2 610.75,972.2 611,972.2 611.25,972.2 611.5,972.2 611.75,972.2 612,972.2 612.25,972.2 612.5,972.2 612.75,972.2 613,972.2 613.25,972.2 613.5,972.2 613.75,972.2 614,972.2 614.25,972.2 614.5,972.2 614.75,972.2 615,972.2 615.25,972.2 615.5,972.2 615.75,972.2 616,972.2 616.25,972.2 616.5,972.2 616.75,972.2 617,972.2 617.25,972.2 617.5,972.2 617.75,972.2 618,972.2 618.25,972.2 618.5,972.2 618.75,972.2 619,972.2 619.25,972.2 619.5,972.2 619.75,972.2 620,972.2 620.25,972.2 620.5,972.2 620.75,972.2 621,972.2 621.25,972.2 621.5,972.2 621.75,972.2 622,972.2 622.25,972.2 622.5,972.2 622.75,972.2 623,972.2 623.25,972.2 623.5,972.2 623.75,972.2 624,972.2 624.25,972.2 624.5,972.2 624.75,972.2 625,972.2 625.25,972.2 625.5,972.2 625.75,972.2 626,972.2 626.25,972.2 626.5,972.2 626.75,972.2 627,972.2 627.25,972.2 627.5,972.2 627.75,972.2 628,972.2 628.25,972.2 628.5,972.2 628.75,972.2 629,972.2 629.25,972.2 629.5,972.2 629.75,972.2 630,972.2 630.25,972.2 630.5,972.2 630.75,972.2 631,972.2 631.25,972.2 631.5,972.2 631.75,972.2 632,972.2 632.25,972.2 632.5,972.2 632.75,972.2 633,972.2 633.25,972.2 633.5,972.2 633.75,972.2 634,972.2 634.25,972.2 634.5,972.2 634.75,972.2 635,972.2 635.25,972.2 635.5,972.2 635.75,972.2 636,972.2 636.25,972.2 636.5,972.2 636.75,972.2 637,972.2 637.25,972.2 637.5,972.2 637.75,972.2 638,972.2 638.25,972.2 638.5,972.2 638.75,972.2 639,972.2 639.25,972.2 639.5,972.2 639.75,972.2 640,972.2 640.25,972.2 640.5,972.2 640.75,972.2 641,972.2 641.25,972.2 641.5,972.2 641.75,972.2 642,972.2 642.25,972.2 642.5,972.2 642.75,972.2 643,972.2 643.25,972.2 643.5,972.2 643.75,972.2 644,972.2 644.25,972.2 644.5,972.2 644.75,972.2 645,972.2 645.25,972.2 645.5,972.2 645.75,972.2 646,972.2 646.25,972.2 646.5,972.2 646.75,972.2 647,972.2 647.25,972.2 647.5,972.2 647.75,972.2 648,972.2 648.25,972.2 648.5,972.2 648.75,972.2 649,972.2 649.25,972.2 649.5,972.2 649.75,972.2 650,972.2 650.25,972.2 650.5,972.2 650.75,972.2 651,972.2 651.25,972.2 651.5,972.2 651.75,972.2 652,972.2 652.25,972.2 652.5,972.2 652.75,972.2 653,972.2 653.25,972.2 653.5,972.2 653.75,972.2 654,972.2 654.25,972.2 654.5,972.2 654.75,972.2 655,972.2 655.25,972.2 655.5,972.2 655.75,972.2 656,972.2 656.25,972.2 656.5,972.2 656.75,972.2 657,972.2 657.25,972.2 657.5,972.2 657.75,972.2 658,972.2 658.25,972.2 658.5,972.2 658.75,972.2 659,972.2 659.25,972.2 659.5,972.2 659.75,972.2 660,972.2 660.25,972.2 660.5,972.2 660.75,972.2 661,972.2 661.25,972.2 661.5,972.2 661.75,972.2 662,972.2 662.25,972.2 662.5,972.2 662.75,972.2 663,972.2 663.25,972.2 663.5,972.2 663.75,972.2 664,972.2 664.25,972.2 664.5,972.2 664.75,972.2 665,972.2 665.25,972.2 665.5,972.2 665.75,972.2 666,972.2 666.25,972.2 666.5,972.2 666.75,972.2 667,972.2 667.25,972.2 667.5,972.2 667.75,972.2 668,972.2 668.25,972.2 668.5,972.2 668.75,972.2 669,972.2 669.25,972.2 669.5,972.2 669.75,972.2 670,972.2 670.25,972.2 670.5,972.2 670.75,972.2 671,972.2 671.25,972.2 671.5,972.2 671.75,972.2 672,972.2 672.25,972.2 672.5,972.2 672.75,972.2 673,972.2 673.25,972.2 673.5,972.2 673.75,972.2 674,972.2 674.25,972.2 674.5,972.2 674.75,972.2 675,972.2 675.25,972.2 675.5,972.2 675.75,972.2 676,972.2 676.25,972.2 676.5,972.2 676.75,972.2 677,972.2 677.25,972.2 677.5,972.2 677.75,972.2 678,972.2 678.25,972.2 678.5,972.2 678.75,972.2 679,972.2 679.25,972.2 679.5,972.2 679.75,972.2 680,972.2 680.25,972.2 680.5,972.2 680.75,972.2 681,972.2 681.25,972.2 681.5,972.2 681.75,972.2 682,972.2 682.25,972.2 682.5,972.2 682.75,972.2 683,972.2 683.25,972.2 683.5,972.2 683.75,972.2 684,972.2 684.25,972.2 684.5,972.2 684.75,972.2 685,972.2 685.25,972.2 685.5,972.2 685.75,972.2 686,972.2 686.25,972.2 686.5,972.2 686.75,972.2 687,972.2 687.25,972.2 687.5,972.2 687.75,972.2 688,972.2 688.25,972.2 688.5,972.2 688.75,972.2 689,972.2 689.25,972.2 689.5,972.2 689.75,972.2 690,972.2 690.25,972.2 690.5,972.2 690.75,972.2 691,972.2 691.25,972.2 691.5,972.2 691.75,972.2 692,972.2 692.25,972.2 692.5,972.2 692.75,972.2 693,972.2 693.25,972.2 693.5,972.2 693.75,972.2 694,972.2 694.25,972.2 694.5,972.2 694.75,972.2 695,972.2 695.25,972.2 695.5,972.2 695.75,972.2 696,972.2 696.25,972.2 696.5,972.2 696.75,972.2 697,972.2 697.25,972.2 697.5,972.2 697.75,972.2 698,972.2 698.25,972.2 698.5,972.2 698.75,972.2 699,972.2 699.25,972.2 699.5,972.2 699.75,972.2 700,972.2 700.25,972.2 700.5,972.2 700.75,972.2 701,972.2 701.25,972.2 701.5,972.2 701.75,972.2 702,972.2 702.25,972.2 702.5,972.2 702.75,972.2 703,972.2 703.25,972.2 703.5,972.2 703.75,972.2 704,972.2 704.25,972.2 704.5,972.2 704.75,972.2 705,972.2 705.25,972.2 705.5,972.2 705.75,972.2 706,972.2 706.25,972.2 706.5,972.2 706.75,972.2 707,972.2 707.25,972.2 707.5,972.2 707.75,972.2 708,972.2 708.25,972.2 708.5,972.2 708.75,972.2 709,972.2 709.25,972.2 709.5,972.2 709.75,972.2 710,972.2 710.25,972.2 710.5,972.2 710.75,972.2 711,972.2 711.25,972.2 711.5,972.2 711.75,972.2 712,972.2 712.25,972.2 712.5,972.2 712.75,972.2 713,972.2 713.25,972.2 713.5,972.2 713.75,972.2 714,972.2 714.25,972.2 714.5,972.2 714.75,972.2 715,972.2 715.25,972.2 715.5,972.2 715.75,972.2 716,972.2 716.25,972.2 716.5,972.2 716.75,972.2 717,972.2 717.25,972.2 717.5,972.2 717.75,972.2 718,972.2 718.25,972.2 718.5,972.2 718.75,972.2 719,972.2 719.25,972.2 719.5,972.2 719.75,972.2 720,972.2 720.25,972.2 720.5,972.2 720.75,972.2 721,972.2 721.25,972.2 721.5,972.2 721.75,972.2 722,972.2 722.25,972.2 722.5,972.2 722.75,972.2 723,972.2 723.25,972.2 723.5,972.2 723.75,972.2 724,972.2 724.25,972.2 724.5,972.2 724.75,972.2 725,972.2 725.25,972.2 725.5,972.2 725.75,972.2 726,972.2 726.25,972.2 726.5,972.2 726.75,972.2 727,972.2 727.25,972.2 727.5,972.2 727.75,972.2 728,972.2 728.25,972.2 728.5,972.2 728.75,972.2 729,972.2 729.25,972.2 729.5,972.2 729.75,972.2 730,972.2 730.25,972.2 730.5,972.2 730.75,972.2 731,972.2 731.25,972.2 731.5,972.2 731.75,972.2 732,972.2 732.25,972.2 732.5,972.2 732.75,972.2 733,972.2 733.25,972.2 733.5,972.2 733.75,972.2 734,972.2 734.25,972.2 734.5,972.2 734.75,972.2 735,972.2 735.25,972.2 735.5,972.2 735.75,972.2 736,972.2 736.25,972.2 736.5,972.2 736.75,972.2 737,972.2 737.25,972.2 737.5,972.2 737.75,972.2 738,972.2 738.25,972.2 738.5,972.2 738.75,972.2 739,972.2 739.25,972.2 739.5,972.2 739.75,972.2 740,972.2 740.25,972.2 740.5,972.2 740.75,972.2 741,972.2 741.25,972.2 741.5,972.2 741.75,972.2 742,972.2 742.25,972.2 742.5,972.2 742.75,972.2 743,972.2 743.25,972.2 743.5,972.2 743.75,972.2 744,972.2 744.25,972.2 744.5,972.2 744.75,972.2 745,972.2 745.25,972.2 745.5,972.2 745.75,972.2 746,972.2 746.25,972.2 746.5,972.2 746.75,972.2 747,972.2 747.25,972.2 747.5,972.2 747.75,972.2 748,972.2 748.25,972.2 748.5,972.2 748.75,972.2 749,972.2 749.25,972.2 749.5,972.2 749.75,972.2 750,972.2 750.25,972.2 750.5,972.2 750.75,972.2 751,972.2 751.25,972.2 751.5,972.2 751.75,972.2 752,972.2 752.25,972.2 752.5,972.2 752.75,972.2 753,972.2 753.25,972.2 753.5,972.2 753.75,972.2 754,972.2 754.25,972.2 754.5,972.2 754.75,972.2 755,972.2 755.25,972.2 755.5,972.2 755.75,972.2 756,972.2 756.25,972.2 756.5,972.2 756.75,972.2 757,972.2 757.25,972.2 757.5,972.2 757.75,972.2 758,972.2 758.25,972.2 758.5,972.2 758.75,972.2 759,972.2 759.25,972.2 759.5,972.2 759.75,972.2 760,972.2 760.25,972.2 760.5,972.2 760.75,972.2 761,972.2 761.25,972.2 761.5,972.2 761.75,972.2 762,972.2 762.25,972.2 762.5,972.2 762.75,972.2 763,972.2 763.25,972.2 763.5,972.2 763.75,972.2 764,972.2 764.25,972.2 764.5,972.2 764.75,972.2 765,972.2 765.25,972.2 765.5,972.2 765.75,972.2 766,972.2 766.25,972.2 766.5,972.2 766.75,972.2 767,972.2 767.25,972.2 767.5,972.2 767.75,972.2 768,972.2 768.25,972.2 768.5,972.2 768.75,972.2 769,972.2 769.25,972.2 769.5,972.2 769.75,972.2 770,972.2 770.25,972.2 770.5,972.2 770.75,972.2 771,972.2 771.25,972.2 771.5,972.2 771.75,972.2 772,972.2 772.25,972.2 772.5,972.2 772.75,972.2 773,972.2 773.25,972.2 773.5,972.2 773.75,972.2 774,972.2 774.25,972.2 774.5,972.2 774.75,972.2 775,972.2 775.25,972.2 775.5,972.2 775.75,972.2 776,972.2 776.25,972.2 776.5,972.2 776.75,972.2 777,972.2 777.25,972.2 777.5,972.2 777.75,972.2 778,972.2 778.25,972.2 778.5,972.2 778.75,972.2 779,972.2 779.25,972.2 779.5,972.2 779.75,972.2 780,972.2 780.25,972.2 780.5,972.2 780.75,972.2 781,972.2 781.25,972.2 781.5,972.2 781.75,972.2 782,972.2 782.25,972.2 782.5,972.2 782.75,972.2 783,972.2 783.25,972.2 783.5,972.2 783.75,972.2 784,972.2 784.25,972.2 784.5,972.2 784.75,972.2 785,972.2 785.25,972.2 785.5,972.2 785.75,972.2 786,972.2 786.25,972.2 786.5,972.2 786.75,972.2 787,972.2 787.25,972.2 787.5,972.2 787.75,972.2 788,972.2 788.25,972.2 788.5,972.2 788.75,972.2 789,972.2 789.25,972.2 789.5,972.2 789.75,972.2 790,972.2 790.25,972.2 790.5,972.2 790.75,972.2 791,972.2 791.25,972.2 791.5,972.2 791.75,972.2 792,972.2 792.25,972.2 792.5,972.2 792.75,972.2 793,972.2 793.25,972.2 793.5,972.2 793.75,972.2 794,972.2 794.25,972.2 794.5,972.2 794.75,972.2 795,972.2 795.25,972.2 795.5,972.2 795.75,972.2 796,972.2 796.25,972.2 796.5,972.2 796.75,972.2 797,972.2 797.25,972.2 797.5,972.2 797.75,972.2 798,972.2 798.25,972.2 798.5,972.2 798.75,972.2 799,972.2 799.25,972.2 799.5,972.2 799.75,972.2 800,972.2 800.25,972.2 800.5,972.2 800.75,972.2 801,972.2 801.25,972.2 801.5,972.2 801.75,972.2 802,972.2 802.25,972.2 802.5,972.2 802.75,972.2 803,972.2 803.25,972.2 803.5,972.2 803.75,972.2 804,972.2 804.25,972.2 804.5,972.2 804.75,972.2 805,972.2 805.25,972.2 805.5,972.2 805.75,972.2 806,972.2 806.25,972.2 806.5,972.2 806.75,972.2 807,972.2 807.25,972.2 807.5,972.2 807.75,972.2 808,972.2 808.25,972.2 808.5,972.2 808.75,972.2 809,972.2 809.25,972.2 809.5,972.2 809.75,972.2 810,972.2 810.25,972.2 810.5,972.2 810.75,972.2 811,972.2 811.25,972.2 811.5,972.2 811.75,972.2 812,972.2 812.25,972.2 812.5,972.2 812.75,972.2 813,972.2 813.25,972.2 813.5,972.2 813.75,972.2 814,972.2 814.25,972.2 814.5,972.2 814.75,972.2 815,972.2 815.25,972.2 815.5,972.2 815.75,972.2 816,972.2 816.25,972.2 816.5,972.2 816.75,972.2 817,972.2 817.25,972.2 817.5,972.2 817.75,972.2 818,972.2 818.25,972.2 818.5,972.2 818.75,972.2 819,972.2 819.25,972.2 819.5,972.2 819.75,972.2 820,972.2 820.25,972.2 820.5,972.2 820.75,972.2 821,972.2 821.25,972.2 821.5,972.2 821.75,972.2 822,972.2 822.25,972.2 822.5,972.2 822.75,972.2 823,972.2 823.25,972.2 823.5,972.2 823.75,972.2 824,972.2 824.25,972.2 824.5,972.2 824.75,972.2 825,972.2 825.25,972.2 825.5,972.2 825.75,972.2 826,972.2 826.25,972.2 826.5,972.2 826.75,972.2 827,972.2 827.25,972.2 827.5,972.2 827.75,972.2 828,972.2 828.25,972.2 828.5,972.2 828.75,972.2 829,972.2 829.25,972.2 829.5,972.2 829.75,972.2 830,972.2 830.25,972.2 830.5,972.2 830.75,972.2 831,972.2 831.25,972.2 831.5,972.2 831.75,972.2 832,972.2 832.25,972.2 832.5,972.2 832.75,972.2 833,972.2 833.25,972.2 833.5,972.2 833.75,972.2 834,972.2 834.25,972.2 834.5,972.2 834.75,972.2 835,972.2 835.25,972.2 835.5,972.2 835.75,972.2 836,972.2 836.25,972.2 836.5,972.2 836.75,972.2 837,972.2 837.25,972.2 837.5,972.2 837.75,972.2 838,972.2 838.25,972.2 838.5,972.2 838.75,972.2 839,972.2 839.25,972.2 839.5,972.2 839.75,972.2 840,972.2 840.25,972.2 840.5,972.2 840.75,972.2 841,972.2 841.25,972.2 841.5,972.2 841.75,972.2 842,972.2 842.25,972.2 842.5,972.2 842.75,972.2 843,972.2 843.25,972.2 843.5,972.2 843.75,972.2 844,972.2 844.25,972.2 844.5,972.2 844.75,972.2 845,972.2 845.25,972.2 845.5,972.2 845.75,972.2 846,972.2 846.25,972.2 846.5,972.2 846.75,972.2 847,972.2 847.25,972.2 847.5,972.2 847.75,972.2 848,972.2 848.25,972.2 848.5,972.2 848.75,972.2 849,972.2 849.25,972.2 849.5,972.2 849.75,972.2 850,972.2 850.25,972.2 850.5,972.2 850.75,972.2 851,972.2 851.25,972.2 851.5,972.2 851.75,972.2 852,972.2 852.25,972.2 852.5,972.2 852.75,972.2 853,972.2 853.25,972.2 853.5,972.2 853.75,972.2 854,972.2 854.25,972.2 854.5,972.2 854.75,972.2 855,972.2 855.25,972.2 855.5,972.2 855.75,972.2 856,972.2" fill="none" stroke="#c02828" stroke-width="1.3" stroke-linejoin="round"/>
<line x1="98.5" y1="972.5" x2="856.5" y2="972.5" stroke="#222" stroke-width="1.2"/>
<line x1="142.5" y1="972.8" x2="142.5" y2="979.4" stroke="#d49494" stroke-width="1"/>
<line x1="222.5" y1="972.8" x2="222.5" y2="979.4" stroke="#d49494" stroke-width="1"/>
<line x1="235.5" y1="972.8" x2="235.5" y2="1005.4" stroke="#d49494" stroke-width="1"/>
<line x1="316.5" y1="972.8" x2="316.5" y2="979.4" stroke="#d49494" stroke-width="1"/>
<line x1="419.5" y1="972.8" x2="419.5" y2="979.4" stroke="#d49494" stroke-width="1"/>
<line x1="544.5" y1="972.8" x2="544.5" y2="979.4" stroke="#d49494" stroke-width="1"/>
<line x1="556.5" y1="972.8" x2="556.5" y2="1005.4" stroke="#d49494" stroke-width="1"/>
<rect x="133.5" y="978.5" width="18" height="20" fill="#fff" stroke="#d49494" stroke-width="1"/>
<text x="142.7" y="995.5" text-anchor="middle" font-family="'Liberation Serif', 'Times New Roman', serif" font-size="15" fill="#111">X</text>
<rect x="212.5" y="978.5" width="21" height="20" fill="#fff" stroke="#d49494" stroke-width="1"/>
<text x="223" y="995.5" text-anchor="middle" font-family="'Liberation Serif', 'Times New Roman', serif" font-size="15" fill="#111">16</text>
<rect x="220.5" y="1004.5" width="31" height="19" fill="#fff" stroke="#d49494" stroke-width="1"/>
<text x="236.3" y="1021.5" text-anchor="middle" font-family="'Liberation Serif', 'Times New Roman', serif" font-size="15" fill="#111">17.3</text>
<rect x="305.5" y="978.5" width="21" height="20" fill="#fff" stroke="#d49494" stroke-width="1"/>
<text x="316.3" y="995.5" text-anchor="middle" font-family="'Liberation Serif', 'Times New Roman', serif" font-size="15" fill="#111">12</text>
<rect x="408.5" y="978.5" width="21" height="20" fill="#fff" stroke="#d49494" stroke-width="1"/>
<text x="419.2" y="995.5" text-anchor="middle" font-family="'Liberation Serif', 'Times New Roman', serif" font-size="15" fill="#111">19</text>
<rect x="534.5" y="978.5" width="20" height="20" fill="#fff" stroke="#d49494" stroke-width="1"/>
<text x="544.6" y="995.5" text-anchor="middle" font-family="'Liberation Serif', 'Times New Roman', serif" font-size="15" fill="#111">21</text>
<rect x="545.5" y="1004.5" width="22" height="19" fill="#fff" stroke="#d49494" stroke-width="1"/>
<text x="556.9" y="1021.5" text-anchor="middle" font-family="'Liberation Serif', 'Times New Roman', serif" font-size="15" fill="#111">23</text>
<text x="19.2" y="1140.5" font-family="'Liberation Sans', Arial, sans-serif" font-size="13.55" fill="#111">Tue Nov 05,2024 04:50PM, PDT</text>
<text x="395" y="1140.5" font-family="'Liberation Sans', Arial, sans-serif" font-size="13.5" fill="#111">Printed by: gmid</text>
<text x="870.7" y="1140.3" text-anchor="end" font-family="'Liberation Sans', Arial, sans-serif" font-size="13.2" fill="#111">Page 1 of 1</text>
<text x="0" y="0" transform="translate(139.3 382.6) rotate(-45.5)" font-family="'Liberation Serif', 'Noto Serif CJK SC', serif" font-size="65" font-weight="500" fill="#00ebf5" fill-opacity="0.29">万物生物</text>
<text x="0" y="0" transform="translate(581.7 382.6) rotate(-45.5)" font-family="'Liberation Serif', 'Noto Serif CJK SC', serif" font-size="65" font-weight="500" fill="#00ebf5" fill-opacity="0.29">万物生物</text>
<text x="0" y="0" transform="translate(138.5 964.5) rotate(-45.5)" font-family="'Liberation Serif', 'Noto Serif CJK SC', serif" font-size="65" font-weight="500" fill="#00ebf5" fill-opacity="0.29">万物生物</text>
<text x="0" y="0" transform="translate(580.9 964.5) rotate(-45.5)" font-family="'Liberation Serif', 'Noto Serif CJK SC', serif" font-size="65" font-weight="500" fill="#00ebf5" fill-opacity="0.29">万物生物</text>
</svg></body></html>
